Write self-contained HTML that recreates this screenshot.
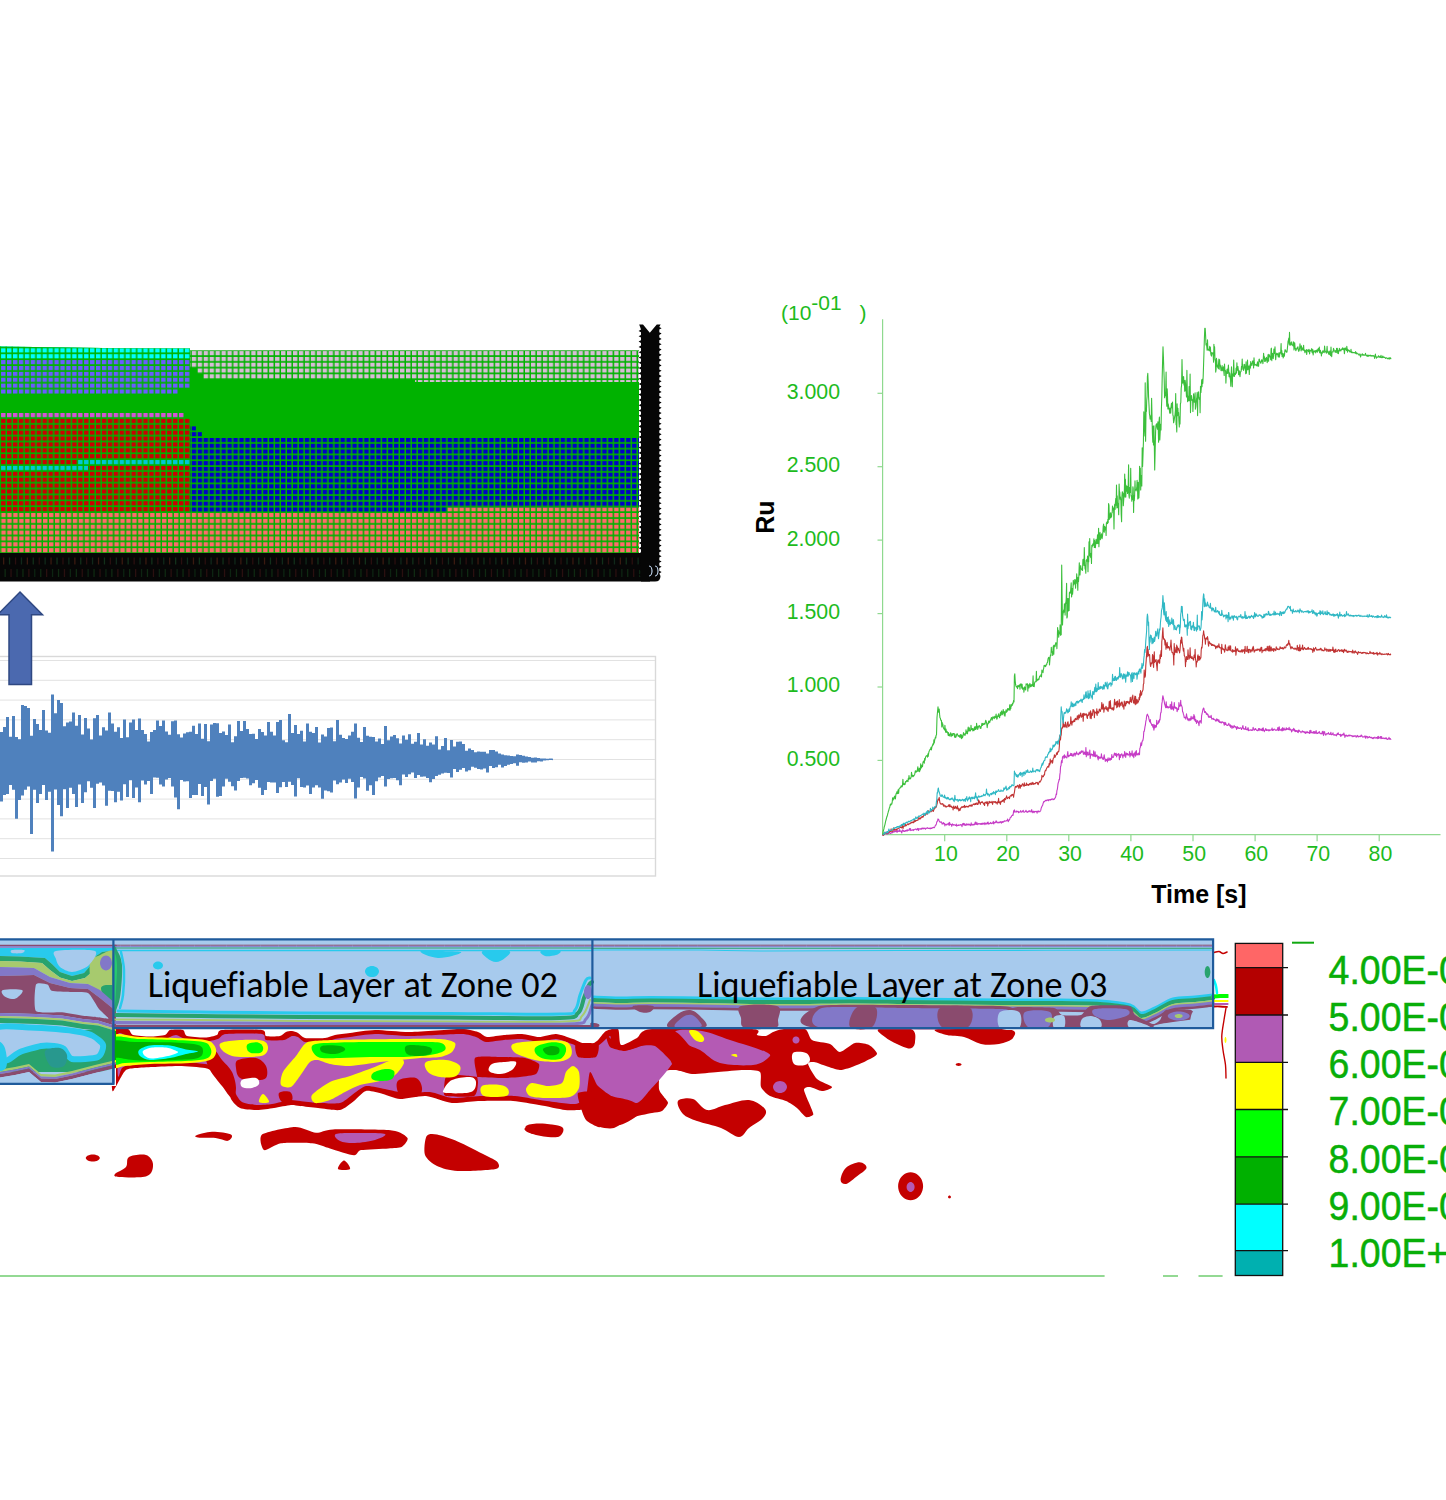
<!DOCTYPE html>
<html><head><meta charset="utf-8"><title>Liquefaction analysis</title>
<style>html,body{margin:0;padding:0;background:#fff;}body{width:1446px;height:1500px;overflow:hidden;position:relative;}
svg{position:absolute;left:0;top:0;display:block}</style></head>
<body>
<svg width="1446" height="1500" viewBox="0 0 1446 1500">
<g id="mesh"><defs><pattern id="gl" patternUnits="userSpaceOnUse" x="1.07" y="348.32" width="5.93" height="5.88"><path d="M4.45 0H5.93V5.88H4.45Z M0 4.15H4.45V5.88H0Z" fill="#00b200"/></pattern><pattern id="gr" patternUnits="userSpaceOnUse" x="1.38" y="351.12" width="5.95" height="5.79"><path d="M4.45 0H5.95V5.79H4.45Z M0 4.15H4.45V5.79H0Z" fill="#00b200"/></pattern><pattern id="gs" patternUnits="userSpaceOnUse" x="1.38" y="513.02" width="5.95" height="5.85"><path d="M4.45 0H5.95V5.85H4.45Z M0 4.15H4.45V5.85H0Z" fill="#00b200"/></pattern></defs>
<path d="M0 346.6L120 348.3L190 348.6L190 350.6L639 350.6L639 553L0 553Z" fill="#00b200"/>
<path d="M0.0 346.6 120.0 348.3 190.0 348.6 190.0 359.5 0.0 359.5Z" fill="#00ffff"/>
<path d="M0.0 359.5 190.0 359.5 190.0 388.0 178.0 388.0 178.0 394.0 0.0 394.0Z" fill="#6a5cff"/>
<path d="M0.0 412.0 184.0 412.0 184.0 418.0 0.0 418.0Z" fill="#d455d4"/>
<path d="M0.0 418.0 190.0 418.0 190.0 459.5 78.0 459.5 78.0 465.0 0.0 465.0Z" fill="#cc0000"/>
<path d="M0.0 465.0 78.0 465.0 78.0 459.5 190.0 459.5 190.0 465.0 88.0 465.0 88.0 471.0 0.0 471.0Z" fill="#00c8d4"/>
<path d="M0.0 471.0 88.0 471.0 88.0 465.0 190.0 465.0 190.0 512.0 0.0 512.0Z" fill="#cc0000"/>
<path d="M190.0 350.6 639.0 350.6 639.0 382.0 415.0 382.0 415.0 380.0 203.0 380.0 203.0 374.0 197.0 374.0 197.0 368.0 190.0 368.0Z" fill="#d8bcd6"/>
<path d="M190.0 426.0 196.0 426.0 196.0 432.0 202.0 432.0 202.0 438.0 639.0 438.0 639.0 507.5 447.0 507.5 447.0 512.0 190.0 512.0Z" fill="#0000c8"/>
<path d="M0 512H447V507.5H639V553H0Z" fill="#ff6b6b"/>
<path d="M0 346.6L120 348.3L190 348.6V512H0Z" fill="url(#gl)"/>
<path d="M190 350.6H639V507.5H447V512H190Z" fill="url(#gr)"/>
<path d="M0 512H447V507.5H639V553H0Z" fill="url(#gs)"/>
<path d="M0 553H650V581.5H0Z" fill="#060606"/>
<rect x="3.0" y="557.5" width="1.3" height="7" fill="#3a1a10"/><rect x="4.5" y="569" width="1.3" height="8" fill="#0f2a12"/><rect x="8.9" y="557.5" width="1.3" height="7" fill="#12301a"/><rect x="10.4" y="569" width="1.3" height="8" fill="#2a1010"/><rect x="14.9" y="557.5" width="1.3" height="7" fill="#2a0f0f"/><rect x="16.4" y="569" width="1.3" height="8" fill="#0d2412"/><rect x="20.8" y="557.5" width="1.3" height="7" fill="#10281a"/><rect x="22.3" y="569" width="1.3" height="8" fill="#0f2a12"/><rect x="26.7" y="557.5" width="1.3" height="7" fill="#3a1a10"/><rect x="28.2" y="569" width="1.3" height="8" fill="#2a1010"/><rect x="32.6" y="557.5" width="1.3" height="7" fill="#12301a"/><rect x="34.1" y="569" width="1.3" height="8" fill="#0d2412"/><rect x="38.6" y="557.5" width="1.3" height="7" fill="#2a0f0f"/><rect x="40.1" y="569" width="1.3" height="8" fill="#0f2a12"/><rect x="44.5" y="557.5" width="1.3" height="7" fill="#10281a"/><rect x="46.0" y="569" width="1.3" height="8" fill="#2a1010"/><rect x="50.4" y="557.5" width="1.3" height="7" fill="#3a1a10"/><rect x="51.9" y="569" width="1.3" height="8" fill="#0d2412"/><rect x="56.4" y="557.5" width="1.3" height="7" fill="#12301a"/><rect x="57.9" y="569" width="1.3" height="8" fill="#0f2a12"/><rect x="62.3" y="557.5" width="1.3" height="7" fill="#2a0f0f"/><rect x="63.8" y="569" width="1.3" height="8" fill="#2a1010"/><rect x="68.2" y="557.5" width="1.3" height="7" fill="#10281a"/><rect x="69.7" y="569" width="1.3" height="8" fill="#0d2412"/><rect x="74.2" y="557.5" width="1.3" height="7" fill="#3a1a10"/><rect x="75.7" y="569" width="1.3" height="8" fill="#0f2a12"/><rect x="80.1" y="557.5" width="1.3" height="7" fill="#12301a"/><rect x="81.6" y="569" width="1.3" height="8" fill="#2a1010"/><rect x="86.0" y="557.5" width="1.3" height="7" fill="#2a0f0f"/><rect x="87.5" y="569" width="1.3" height="8" fill="#0d2412"/><rect x="91.9" y="557.5" width="1.3" height="7" fill="#10281a"/><rect x="93.4" y="569" width="1.3" height="8" fill="#0f2a12"/><rect x="97.9" y="557.5" width="1.3" height="7" fill="#3a1a10"/><rect x="99.4" y="569" width="1.3" height="8" fill="#2a1010"/><rect x="103.8" y="557.5" width="1.3" height="7" fill="#12301a"/><rect x="105.3" y="569" width="1.3" height="8" fill="#0d2412"/><rect x="109.7" y="557.5" width="1.3" height="7" fill="#2a0f0f"/><rect x="111.2" y="569" width="1.3" height="8" fill="#0f2a12"/><rect x="115.7" y="557.5" width="1.3" height="7" fill="#10281a"/><rect x="117.2" y="569" width="1.3" height="8" fill="#2a1010"/><rect x="121.6" y="557.5" width="1.3" height="7" fill="#3a1a10"/><rect x="123.1" y="569" width="1.3" height="8" fill="#0d2412"/><rect x="127.5" y="557.5" width="1.3" height="7" fill="#12301a"/><rect x="129.0" y="569" width="1.3" height="8" fill="#0f2a12"/><rect x="133.5" y="557.5" width="1.3" height="7" fill="#2a0f0f"/><rect x="135.0" y="569" width="1.3" height="8" fill="#2a1010"/><rect x="139.4" y="557.5" width="1.3" height="7" fill="#10281a"/><rect x="140.9" y="569" width="1.3" height="8" fill="#0d2412"/><rect x="145.3" y="557.5" width="1.3" height="7" fill="#3a1a10"/><rect x="146.8" y="569" width="1.3" height="8" fill="#0f2a12"/><rect x="151.2" y="557.5" width="1.3" height="7" fill="#12301a"/><rect x="152.8" y="569" width="1.3" height="8" fill="#2a1010"/><rect x="157.2" y="557.5" width="1.3" height="7" fill="#2a0f0f"/><rect x="158.7" y="569" width="1.3" height="8" fill="#0d2412"/><rect x="163.1" y="557.5" width="1.3" height="7" fill="#10281a"/><rect x="164.6" y="569" width="1.3" height="8" fill="#0f2a12"/><rect x="169.0" y="557.5" width="1.3" height="7" fill="#3a1a10"/><rect x="170.5" y="569" width="1.3" height="8" fill="#2a1010"/><rect x="175.0" y="557.5" width="1.3" height="7" fill="#12301a"/><rect x="176.5" y="569" width="1.3" height="8" fill="#0d2412"/><rect x="180.9" y="557.5" width="1.3" height="7" fill="#2a0f0f"/><rect x="182.4" y="569" width="1.3" height="8" fill="#0f2a12"/><rect x="186.8" y="557.5" width="1.3" height="7" fill="#10281a"/><rect x="188.3" y="569" width="1.3" height="8" fill="#2a1010"/><rect x="192.8" y="557.5" width="1.3" height="7" fill="#3a1a10"/><rect x="194.3" y="569" width="1.3" height="8" fill="#0d2412"/><rect x="198.7" y="557.5" width="1.3" height="7" fill="#12301a"/><rect x="200.2" y="569" width="1.3" height="8" fill="#0f2a12"/><rect x="204.6" y="557.5" width="1.3" height="7" fill="#2a0f0f"/><rect x="206.1" y="569" width="1.3" height="8" fill="#2a1010"/><rect x="210.5" y="557.5" width="1.3" height="7" fill="#10281a"/><rect x="212.0" y="569" width="1.3" height="8" fill="#0d2412"/><rect x="216.5" y="557.5" width="1.3" height="7" fill="#3a1a10"/><rect x="218.0" y="569" width="1.3" height="8" fill="#0f2a12"/><rect x="222.4" y="557.5" width="1.3" height="7" fill="#12301a"/><rect x="223.9" y="569" width="1.3" height="8" fill="#2a1010"/><rect x="228.3" y="557.5" width="1.3" height="7" fill="#2a0f0f"/><rect x="229.8" y="569" width="1.3" height="8" fill="#0d2412"/><rect x="234.3" y="557.5" width="1.3" height="7" fill="#10281a"/><rect x="235.8" y="569" width="1.3" height="8" fill="#0f2a12"/><rect x="240.2" y="557.5" width="1.3" height="7" fill="#3a1a10"/><rect x="241.7" y="569" width="1.3" height="8" fill="#2a1010"/><rect x="246.1" y="557.5" width="1.3" height="7" fill="#12301a"/><rect x="247.6" y="569" width="1.3" height="8" fill="#0d2412"/><rect x="252.1" y="557.5" width="1.3" height="7" fill="#2a0f0f"/><rect x="253.6" y="569" width="1.3" height="8" fill="#0f2a12"/><rect x="258.0" y="557.5" width="1.3" height="7" fill="#10281a"/><rect x="259.5" y="569" width="1.3" height="8" fill="#2a1010"/><rect x="263.9" y="557.5" width="1.3" height="7" fill="#3a1a10"/><rect x="265.4" y="569" width="1.3" height="8" fill="#0d2412"/><rect x="269.8" y="557.5" width="1.3" height="7" fill="#12301a"/><rect x="271.3" y="569" width="1.3" height="8" fill="#0f2a12"/><rect x="275.8" y="557.5" width="1.3" height="7" fill="#2a0f0f"/><rect x="277.3" y="569" width="1.3" height="8" fill="#2a1010"/><rect x="281.7" y="557.5" width="1.3" height="7" fill="#10281a"/><rect x="283.2" y="569" width="1.3" height="8" fill="#0d2412"/><rect x="287.6" y="557.5" width="1.3" height="7" fill="#3a1a10"/><rect x="289.1" y="569" width="1.3" height="8" fill="#0f2a12"/><rect x="293.6" y="557.5" width="1.3" height="7" fill="#12301a"/><rect x="295.1" y="569" width="1.3" height="8" fill="#2a1010"/><rect x="299.5" y="557.5" width="1.3" height="7" fill="#2a0f0f"/><rect x="301.0" y="569" width="1.3" height="8" fill="#0d2412"/><rect x="305.4" y="557.5" width="1.3" height="7" fill="#10281a"/><rect x="306.9" y="569" width="1.3" height="8" fill="#0f2a12"/><rect x="311.4" y="557.5" width="1.3" height="7" fill="#3a1a10"/><rect x="312.9" y="569" width="1.3" height="8" fill="#2a1010"/><rect x="317.3" y="557.5" width="1.3" height="7" fill="#12301a"/><rect x="318.8" y="569" width="1.3" height="8" fill="#0d2412"/><rect x="323.2" y="557.5" width="1.3" height="7" fill="#2a0f0f"/><rect x="324.7" y="569" width="1.3" height="8" fill="#0f2a12"/><rect x="329.1" y="557.5" width="1.3" height="7" fill="#10281a"/><rect x="330.6" y="569" width="1.3" height="8" fill="#2a1010"/><rect x="335.1" y="557.5" width="1.3" height="7" fill="#3a1a10"/><rect x="336.6" y="569" width="1.3" height="8" fill="#0d2412"/><rect x="341.0" y="557.5" width="1.3" height="7" fill="#12301a"/><rect x="342.5" y="569" width="1.3" height="8" fill="#0f2a12"/><rect x="346.9" y="557.5" width="1.3" height="7" fill="#2a0f0f"/><rect x="348.4" y="569" width="1.3" height="8" fill="#2a1010"/><rect x="352.9" y="557.5" width="1.3" height="7" fill="#10281a"/><rect x="354.4" y="569" width="1.3" height="8" fill="#0d2412"/><rect x="358.8" y="557.5" width="1.3" height="7" fill="#3a1a10"/><rect x="360.3" y="569" width="1.3" height="8" fill="#0f2a12"/><rect x="364.7" y="557.5" width="1.3" height="7" fill="#12301a"/><rect x="366.2" y="569" width="1.3" height="8" fill="#2a1010"/><rect x="370.7" y="557.5" width="1.3" height="7" fill="#2a0f0f"/><rect x="372.2" y="569" width="1.3" height="8" fill="#0d2412"/><rect x="376.6" y="557.5" width="1.3" height="7" fill="#10281a"/><rect x="378.1" y="569" width="1.3" height="8" fill="#0f2a12"/><rect x="382.5" y="557.5" width="1.3" height="7" fill="#3a1a10"/><rect x="384.0" y="569" width="1.3" height="8" fill="#2a1010"/><rect x="388.4" y="557.5" width="1.3" height="7" fill="#12301a"/><rect x="389.9" y="569" width="1.3" height="8" fill="#0d2412"/><rect x="394.4" y="557.5" width="1.3" height="7" fill="#2a0f0f"/><rect x="395.9" y="569" width="1.3" height="8" fill="#0f2a12"/><rect x="400.3" y="557.5" width="1.3" height="7" fill="#10281a"/><rect x="401.8" y="569" width="1.3" height="8" fill="#2a1010"/><rect x="406.2" y="557.5" width="1.3" height="7" fill="#3a1a10"/><rect x="407.7" y="569" width="1.3" height="8" fill="#0d2412"/><rect x="412.2" y="557.5" width="1.3" height="7" fill="#12301a"/><rect x="413.7" y="569" width="1.3" height="8" fill="#0f2a12"/><rect x="418.1" y="557.5" width="1.3" height="7" fill="#2a0f0f"/><rect x="419.6" y="569" width="1.3" height="8" fill="#2a1010"/><rect x="424.0" y="557.5" width="1.3" height="7" fill="#10281a"/><rect x="425.5" y="569" width="1.3" height="8" fill="#0d2412"/><rect x="430.0" y="557.5" width="1.3" height="7" fill="#3a1a10"/><rect x="431.5" y="569" width="1.3" height="8" fill="#0f2a12"/><rect x="435.9" y="557.5" width="1.3" height="7" fill="#12301a"/><rect x="437.4" y="569" width="1.3" height="8" fill="#2a1010"/><rect x="441.8" y="557.5" width="1.3" height="7" fill="#2a0f0f"/><rect x="443.3" y="569" width="1.3" height="8" fill="#0d2412"/><rect x="447.8" y="557.5" width="1.3" height="7" fill="#10281a"/><rect x="449.2" y="569" width="1.3" height="8" fill="#0f2a12"/><rect x="453.7" y="557.5" width="1.3" height="7" fill="#3a1a10"/><rect x="455.2" y="569" width="1.3" height="8" fill="#2a1010"/><rect x="459.6" y="557.5" width="1.3" height="7" fill="#12301a"/><rect x="461.1" y="569" width="1.3" height="8" fill="#0d2412"/><rect x="465.5" y="557.5" width="1.3" height="7" fill="#2a0f0f"/><rect x="467.0" y="569" width="1.3" height="8" fill="#0f2a12"/><rect x="471.5" y="557.5" width="1.3" height="7" fill="#10281a"/><rect x="473.0" y="569" width="1.3" height="8" fill="#2a1010"/><rect x="477.4" y="557.5" width="1.3" height="7" fill="#3a1a10"/><rect x="478.9" y="569" width="1.3" height="8" fill="#0d2412"/><rect x="483.3" y="557.5" width="1.3" height="7" fill="#12301a"/><rect x="484.8" y="569" width="1.3" height="8" fill="#0f2a12"/><rect x="489.3" y="557.5" width="1.3" height="7" fill="#2a0f0f"/><rect x="490.8" y="569" width="1.3" height="8" fill="#2a1010"/><rect x="495.2" y="557.5" width="1.3" height="7" fill="#10281a"/><rect x="496.7" y="569" width="1.3" height="8" fill="#0d2412"/><rect x="501.1" y="557.5" width="1.3" height="7" fill="#3a1a10"/><rect x="502.6" y="569" width="1.3" height="8" fill="#0f2a12"/><rect x="507.0" y="557.5" width="1.3" height="7" fill="#12301a"/><rect x="508.5" y="569" width="1.3" height="8" fill="#2a1010"/><rect x="513.0" y="557.5" width="1.3" height="7" fill="#2a0f0f"/><rect x="514.5" y="569" width="1.3" height="8" fill="#0d2412"/><rect x="518.9" y="557.5" width="1.3" height="7" fill="#10281a"/><rect x="520.4" y="569" width="1.3" height="8" fill="#0f2a12"/><rect x="524.8" y="557.5" width="1.3" height="7" fill="#3a1a10"/><rect x="526.3" y="569" width="1.3" height="8" fill="#2a1010"/><rect x="530.8" y="557.5" width="1.3" height="7" fill="#12301a"/><rect x="532.3" y="569" width="1.3" height="8" fill="#0d2412"/><rect x="536.7" y="557.5" width="1.3" height="7" fill="#2a0f0f"/><rect x="538.2" y="569" width="1.3" height="8" fill="#0f2a12"/><rect x="542.6" y="557.5" width="1.3" height="7" fill="#10281a"/><rect x="544.1" y="569" width="1.3" height="8" fill="#2a1010"/><rect x="548.6" y="557.5" width="1.3" height="7" fill="#3a1a10"/><rect x="550.1" y="569" width="1.3" height="8" fill="#0d2412"/><rect x="554.5" y="557.5" width="1.3" height="7" fill="#12301a"/><rect x="556.0" y="569" width="1.3" height="8" fill="#0f2a12"/><rect x="560.4" y="557.5" width="1.3" height="7" fill="#2a0f0f"/><rect x="561.9" y="569" width="1.3" height="8" fill="#2a1010"/><rect x="566.4" y="557.5" width="1.3" height="7" fill="#10281a"/><rect x="567.9" y="569" width="1.3" height="8" fill="#0d2412"/><rect x="572.3" y="557.5" width="1.3" height="7" fill="#3a1a10"/><rect x="573.8" y="569" width="1.3" height="8" fill="#0f2a12"/><rect x="578.2" y="557.5" width="1.3" height="7" fill="#12301a"/><rect x="579.7" y="569" width="1.3" height="8" fill="#2a1010"/><rect x="584.1" y="557.5" width="1.3" height="7" fill="#2a0f0f"/><rect x="585.6" y="569" width="1.3" height="8" fill="#0d2412"/><rect x="590.1" y="557.5" width="1.3" height="7" fill="#10281a"/><rect x="591.6" y="569" width="1.3" height="8" fill="#0f2a12"/><rect x="596.0" y="557.5" width="1.3" height="7" fill="#3a1a10"/><rect x="597.5" y="569" width="1.3" height="8" fill="#2a1010"/><rect x="601.9" y="557.5" width="1.3" height="7" fill="#12301a"/><rect x="603.4" y="569" width="1.3" height="8" fill="#0d2412"/><rect x="607.9" y="557.5" width="1.3" height="7" fill="#2a0f0f"/><rect x="609.4" y="569" width="1.3" height="8" fill="#0f2a12"/><rect x="613.8" y="557.5" width="1.3" height="7" fill="#10281a"/><rect x="615.3" y="569" width="1.3" height="8" fill="#2a1010"/><rect x="619.7" y="557.5" width="1.3" height="7" fill="#3a1a10"/><rect x="621.2" y="569" width="1.3" height="8" fill="#0d2412"/><rect x="625.6" y="557.5" width="1.3" height="7" fill="#12301a"/><rect x="627.1" y="569" width="1.3" height="8" fill="#0f2a12"/><rect x="631.6" y="557.5" width="1.3" height="7" fill="#2a0f0f"/><rect x="633.1" y="569" width="1.3" height="8" fill="#2a1010"/><rect x="637.5" y="557.5" width="1.3" height="7" fill="#10281a"/><rect x="639.0" y="569" width="1.3" height="8" fill="#0d2412"/>
<path d="M639.2 324.4L643 324.4L649.8 332.8L656.8 324.4L660.6 324.4L659.3 327L659.3 327.0L661.6 328.3L659.3 329.6L659.3 332.3L661.6 333.6L659.3 334.9L659.3 337.6L661.6 338.9L659.3 340.2L659.3 342.9L661.6 344.2L659.3 345.6L659.3 348.2L661.6 349.5L659.3 350.9L659.3 353.5L661.6 354.8L659.3 356.2L659.3 358.8L661.6 360.1L659.3 361.5L659.3 364.1L661.6 365.4L659.3 366.8L659.3 369.4L661.6 370.7L659.3 372.1L659.3 374.7L661.6 376.0L659.3 377.4L659.3 380.0L661.6 381.3L659.3 382.7L659.3 385.3L661.6 386.6L659.3 388.0L659.3 390.6L661.6 391.9L659.3 393.3L659.3 395.9L661.6 397.2L659.3 398.6L659.3 401.2L661.6 402.5L659.3 403.9L659.3 406.5L661.6 407.8L659.3 409.2L659.3 411.8L661.6 413.1L659.3 414.5L659.3 417.1L661.6 418.4L659.3 419.8L659.3 422.4L661.6 423.7L659.3 425.1L659.3 427.7L661.6 429.0L659.3 430.4L659.3 433.0L661.6 434.3L659.3 435.7L659.3 438.3L661.6 439.6L659.3 441.0L659.3 443.6L661.6 444.9L659.3 446.3L659.3 448.9L661.6 450.2L659.3 451.6L659.3 454.2L661.6 455.5L659.3 456.9L659.3 459.5L661.6 460.8L659.3 462.2L659.3 464.8L661.6 466.1L659.3 467.5L659.3 470.1L661.6 471.4L659.3 472.8L659.3 475.4L661.6 476.7L659.3 478.1L659.3 480.7L661.6 482.0L659.3 483.4L659.3 486.0L661.6 487.3L659.3 488.7L659.3 491.3L661.6 492.6L659.3 494.0L659.3 496.6L661.6 497.9L659.3 499.3L659.3 501.9L661.6 503.2L659.3 504.6L659.3 507.2L661.6 508.5L659.3 509.9L659.3 512.5L661.6 513.8L659.3 515.2L659.3 517.8L661.6 519.1L659.3 520.5L659.3 523.1L661.6 524.4L659.3 525.8L659.3 528.4L661.6 529.7L659.3 531.1L659.3 533.7L661.6 535.0L659.3 536.4L659.3 539.0L661.6 540.3L659.3 541.7L659.3 544.3L661.6 545.6L659.3 547.0L659.3 549.6L661.6 550.9L659.3 552.2L659.3 554.9L661.6 556.2L659.3 557.5L659.3 560.2L661.6 561.5L659.3 562.8L659.3 565.5L661.6 566.8L659.3 568.1L659.3 570.8L661.6 572.1L659.3 573.4L660.5 576Q660.5 581.5 655 581.5L641 581.5L641.0 576.1L638.6 574.8L641.0 573.4L641.0 570.8L638.6 569.5L641.0 568.1L641.0 565.5L638.6 564.2L641.0 562.8L641.0 560.2L638.6 558.9L641.0 557.5L641.0 554.9L638.6 553.6L641.0 552.2L641.0 549.6L638.6 548.3L641.0 547.0L641.0 544.3L638.6 543.0L641.0 541.7L641.0 539.0L638.6 537.7L641.0 536.4L641.0 533.7L638.6 532.4L641.0 531.1L641.0 528.4L638.6 527.1L641.0 525.8L641.0 523.1L638.6 521.8L641.0 520.5L641.0 517.8L638.6 516.5L641.0 515.2L641.0 512.5L638.6 511.2L641.0 509.9L641.0 507.2L638.6 505.9L641.0 504.6L641.0 501.9L638.6 500.6L641.0 499.3L641.0 496.6L638.6 495.3L641.0 494.0L641.0 491.3L638.6 490.0L641.0 488.7L641.0 486.0L638.6 484.7L641.0 483.4L641.0 480.7L638.6 479.4L641.0 478.1L641.0 475.4L638.6 474.1L641.0 472.8L641.0 470.1L638.6 468.8L641.0 467.5L641.0 464.8L638.6 463.5L641.0 462.2L641.0 459.5L638.6 458.2L641.0 456.9L641.0 454.2L638.6 452.9L641.0 451.6L641.0 448.9L638.6 447.6L641.0 446.3L641.0 443.6L638.6 442.3L641.0 441.0L641.0 438.3L638.6 437.0L641.0 435.7L641.0 433.0L638.6 431.7L641.0 430.4L641.0 427.7L638.6 426.4L641.0 425.1L641.0 422.4L638.6 421.1L641.0 419.8L641.0 417.1L638.6 415.8L641.0 414.5L641.0 411.8L638.6 410.5L641.0 409.2L641.0 406.5L638.6 405.2L641.0 403.9L641.0 401.2L638.6 399.9L641.0 398.6L641.0 395.9L638.6 394.6L641.0 393.3L641.0 390.6L638.6 389.3L641.0 388.0L641.0 385.3L638.6 384.0L641.0 382.7L641.0 380.0L638.6 378.7L641.0 377.4L641.0 374.7L638.6 373.4L641.0 372.1L641.0 369.4L638.6 368.1L641.0 366.8L641.0 364.1L638.6 362.8L641.0 361.5L641.0 358.8L638.6 357.5L641.0 356.2L641.0 353.5L638.6 352.2L641.0 350.9L641.0 348.2L638.6 346.9L641.0 345.6L641.0 342.9L638.6 341.6L641.0 340.2L641.0 337.6L638.6 336.3L641.0 334.9L641.0 332.3L638.6 331.0L641.0 329.6Z" fill="#060606"/>
<path d="M649 566 a3 5 0 0 1 0 10 M655 566 a3 5 0 0 1 0 10" fill="none" stroke="#cfe4ff" stroke-width="1.1"/></g>
<g id="seis"><rect x="-5" y="656.5" width="660.5" height="219.5" fill="#fff" stroke="#d9d9d9" stroke-width="1.4"/>
<line x1="-5" x2="655" y1="660.5" y2="660.5" stroke="#e2e2e2" stroke-width="1"/>
<line x1="-5" x2="655" y1="680.3" y2="680.3" stroke="#e2e2e2" stroke-width="1"/>
<line x1="-5" x2="655" y1="700.1" y2="700.1" stroke="#e2e2e2" stroke-width="1"/>
<line x1="-5" x2="655" y1="719.9" y2="719.9" stroke="#e2e2e2" stroke-width="1"/>
<line x1="-5" x2="655" y1="739.7" y2="739.7" stroke="#e2e2e2" stroke-width="1"/>
<line x1="-5" x2="655" y1="759.5" y2="759.5" stroke="#e2e2e2" stroke-width="1"/>
<line x1="-5" x2="655" y1="779.3" y2="779.3" stroke="#e2e2e2" stroke-width="1"/>
<line x1="-5" x2="655" y1="799.1" y2="799.1" stroke="#e2e2e2" stroke-width="1"/>
<line x1="-5" x2="655" y1="818.9" y2="818.9" stroke="#e2e2e2" stroke-width="1"/>
<line x1="-5" x2="655" y1="838.7" y2="838.7" stroke="#e2e2e2" stroke-width="1"/>
<line x1="-5" x2="655" y1="858.5" y2="858.5" stroke="#e2e2e2" stroke-width="1"/>
<path d="M0.0 732.0 3.0 732.0 3.0 726.9 6.0 726.9 6.0 717.0 9.0 717.0 9.0 736.7 12.0 736.7 12.0 716.0 15.0 716.0 15.0 737.0 18.0 737.0 18.0 739.3 21.0 739.3 21.0 705.0 24.0 705.0 24.0 706.0 27.0 706.0 27.0 708.0 30.0 708.0 30.0 735.8 33.0 735.8 33.0 719.0 36.0 719.0 36.0 724.0 39.0 724.0 39.0 730.0 42.0 730.0 42.0 710.0 45.0 710.0 45.0 730.6 48.0 730.6 48.0 732.8 51.0 732.8 51.0 694.4 54.0 694.4 54.0 713.2 57.0 713.2 57.0 700.0 60.0 700.0 60.0 703.0 63.0 703.0 63.0 726.2 66.0 726.2 66.0 722.5 69.0 722.5 69.0 721.6 72.0 721.6 72.0 712.5 75.0 712.5 75.0 725.8 78.0 725.8 78.0 715.0 81.0 715.0 81.0 734.5 84.0 734.5 84.0 718.0 87.0 718.0 87.0 728.6 90.0 728.6 90.0 739.6 93.0 739.6 93.0 718.3 96.0 718.3 96.0 715.0 99.0 715.0 99.0 735.5 102.0 735.5 102.0 727.2 105.0 727.2 105.0 730.5 108.0 730.5 108.0 712.5 111.0 712.5 111.0 723.4 114.0 723.4 114.0 731.8 117.0 731.8 117.0 727.2 120.0 727.2 120.0 738.1 123.0 738.1 123.0 719.6 126.0 719.6 126.0 737.2 129.0 737.2 129.0 722.6 132.0 722.6 132.0 719.6 135.0 719.6 135.0 730.0 138.0 730.0 138.0 718.4 141.0 718.4 141.0 730.1 144.0 730.1 144.0 733.9 147.0 733.9 147.0 741.5 150.0 741.5 150.0 732.1 153.0 732.1 153.0 730.0 156.0 730.0 156.0 720.5 159.0 720.5 159.0 726.0 162.0 726.0 162.0 720.5 165.0 720.5 165.0 731.4 168.0 731.4 168.0 734.7 171.0 734.7 171.0 721.3 174.0 721.3 174.0 720.6 177.0 720.6 177.0 734.3 180.0 734.3 180.0 737.6 183.0 737.6 183.0 733.5 186.0 733.5 186.0 732.3 189.0 732.3 189.0 731.7 192.0 731.7 192.0 725.8 195.0 725.8 195.0 734.1 198.0 734.1 198.0 723.5 201.0 723.5 201.0 738.7 204.0 738.7 204.0 724.0 207.0 724.0 207.0 741.2 210.0 741.2 210.0 724.4 213.0 724.4 213.0 723.1 216.0 723.1 216.0 723.3 219.0 723.3 219.0 733.1 222.0 733.1 222.0 731.5 225.0 731.5 225.0 735.0 228.0 735.0 228.0 724.6 231.0 724.6 231.0 742.2 234.0 742.2 234.0 736.2 237.0 736.2 237.0 720.9 240.0 720.9 240.0 731.1 243.0 731.1 243.0 721.0 246.0 721.0 246.0 729.0 249.0 729.0 249.0 734.0 252.0 734.0 252.0 733.8 255.0 733.8 255.0 739.1 258.0 739.1 258.0 729.0 261.0 729.0 261.0 732.0 264.0 732.0 264.0 735.4 267.0 735.4 267.0 722.1 270.0 722.1 270.0 731.7 273.0 731.7 273.0 735.4 276.0 735.4 276.0 721.9 279.0 721.9 279.0 720.1 282.0 720.1 282.0 740.3 285.0 740.3 285.0 742.2 288.0 742.2 288.0 714.0 291.0 714.0 291.0 733.1 294.0 733.1 294.0 725.0 297.0 725.0 297.0 734.0 300.0 734.0 300.0 730.7 303.0 730.7 303.0 741.6 306.0 741.6 306.0 723.5 309.0 723.5 309.0 731.7 312.0 731.7 312.0 733.1 315.0 733.1 315.0 727.1 318.0 727.1 318.0 742.5 321.0 742.5 321.0 734.5 324.0 734.5 324.0 736.5 327.0 736.5 327.0 728.0 330.0 728.0 330.0 727.4 333.0 727.4 333.0 741.2 336.0 741.2 336.0 719.9 339.0 719.9 339.0 734.8 342.0 734.8 342.0 737.9 345.0 737.9 345.0 739.1 348.0 739.1 348.0 735.5 351.0 735.5 351.0 731.8 354.0 731.8 354.0 723.5 357.0 723.5 357.0 737.8 360.0 737.8 360.0 741.9 363.0 741.9 363.0 727.0 366.0 727.0 366.0 735.8 369.0 735.8 369.0 736.7 372.0 736.7 372.0 737.1 375.0 737.1 375.0 741.6 378.0 741.6 378.0 738.6 381.0 738.6 381.0 744.1 384.0 744.1 384.0 726.0 387.0 726.0 387.0 740.3 390.0 740.3 390.0 736.6 393.0 736.6 393.0 735.1 396.0 735.1 396.0 738.3 399.0 738.3 399.0 743.4 402.0 743.4 402.0 735.6 405.0 735.6 405.0 739.7 408.0 739.7 408.0 734.2 411.0 734.2 411.0 743.8 414.0 743.8 414.0 741.8 417.0 741.8 417.0 733.0 420.0 733.0 420.0 744.6 423.0 744.6 423.0 739.3 426.0 739.3 426.0 745.8 429.0 745.8 429.0 742.4 432.0 742.4 432.0 744.6 435.0 744.6 435.0 736.3 438.0 736.3 438.0 749.5 441.0 749.5 441.0 746.0 444.0 746.0 444.0 738.0 447.0 738.0 447.0 750.3 450.0 750.3 450.0 740.0 453.0 740.0 453.0 746.4 456.0 746.4 456.0 741.7 459.0 741.7 459.0 741.6 462.0 741.6 462.0 744.0 465.0 744.0 465.0 750.8 468.0 750.8 468.0 748.6 471.0 748.6 471.0 749.9 474.0 749.9 474.0 752.2 477.0 752.2 477.0 751.4 480.0 751.4 480.0 751.8 483.0 751.8 483.0 751.8 486.0 751.8 486.0 753.6 489.0 753.6 489.0 750.0 492.0 750.0 492.0 750.0 495.0 750.0 495.0 751.6 498.0 751.6 498.0 753.4 501.0 753.4 501.0 754.4 504.0 754.4 504.0 755.2 507.0 755.2 507.0 755.6 510.0 755.6 510.0 756.1 513.0 756.1 513.0 756.2 516.0 756.2 516.0 754.4 519.0 754.4 519.0 755.1 522.0 755.1 522.0 755.8 525.0 755.8 525.0 756.6 528.0 756.6 528.0 757.0 531.0 757.0 531.0 757.7 534.0 757.7 534.0 757.5 537.0 757.5 537.0 758.0 540.0 758.0 540.0 758.4 543.0 758.4 543.0 758.6 546.0 758.6 546.0 758.7 549.0 758.7 549.0 758.6 552.0 758.6 553.0 758.7 553.0 760.3 552.0 759.9 549.0 759.9 549.0 760.2 546.0 760.2 546.0 760.4 543.0 760.4 543.0 761.6 540.0 761.6 540.0 761.2 537.0 761.2 537.0 762.4 534.0 762.4 534.0 762.6 531.0 762.6 531.0 761.6 528.0 761.6 528.0 762.6 525.0 762.6 525.0 762.7 522.0 762.7 522.0 762.3 519.0 762.3 519.0 765.8 516.0 765.8 516.0 763.2 513.0 763.2 513.0 764.1 510.0 764.1 510.0 764.7 507.0 764.7 507.0 765.9 504.0 765.9 504.0 767.6 501.0 767.6 501.0 764.8 498.0 764.8 498.0 767.3 495.0 767.3 495.0 767.9 492.0 767.9 492.0 766.1 489.0 766.1 489.0 772.5 486.0 772.5 486.0 768.6 483.0 768.6 483.0 769.5 480.0 769.5 480.0 769.0 477.0 769.0 477.0 767.7 474.0 767.7 474.0 766.8 471.0 766.8 471.0 770.3 468.0 770.3 468.0 771.6 465.0 771.6 465.0 768.1 462.0 768.1 462.0 769.8 459.0 769.8 459.0 772.0 456.0 772.0 456.0 769.1 453.0 769.1 453.0 777.6 450.0 777.6 450.0 773.0 447.0 773.0 447.0 772.7 444.0 772.7 444.0 773.4 441.0 773.4 441.0 774.8 438.0 774.8 438.0 776.0 435.0 776.0 435.0 779.0 432.0 779.0 432.0 782.3 429.0 782.3 429.0 778.1 426.0 778.1 426.0 776.4 423.0 776.4 423.0 776.8 420.0 776.8 420.0 775.1 417.0 775.1 417.0 778.0 414.0 778.0 414.0 772.4 411.0 772.4 411.0 774.2 408.0 774.2 408.0 777.1 405.0 777.1 405.0 774.5 402.0 774.5 402.0 785.2 399.0 785.2 399.0 780.2 396.0 780.2 396.0 777.9 393.0 777.9 393.0 778.2 390.0 778.2 390.0 778.9 387.0 778.9 387.0 786.5 384.0 786.5 384.0 776.0 381.0 776.0 381.0 777.5 378.0 777.5 378.0 781.3 375.0 781.3 375.0 795.0 372.0 795.0 372.0 785.2 369.0 785.2 369.0 790.7 366.0 790.7 366.0 778.5 363.0 778.5 363.0 777.1 360.0 777.1 360.0 787.5 357.0 787.5 357.0 798.6 354.0 798.6 354.0 782.1 351.0 782.1 351.0 778.8 348.0 778.8 348.0 783.0 345.0 783.0 345.0 779.4 342.0 779.4 342.0 782.6 339.0 782.6 339.0 784.3 336.0 784.3 336.0 780.6 333.0 780.6 333.0 792.5 330.0 792.5 330.0 791.3 327.0 791.3 327.0 790.5 324.0 790.5 324.0 798.7 321.0 798.7 321.0 787.4 318.0 787.4 318.0 785.2 315.0 785.2 315.0 787.4 312.0 787.4 312.0 794.0 309.0 794.0 309.0 785.6 306.0 785.6 306.0 787.5 303.0 787.5 303.0 787.1 300.0 787.1 300.0 778.2 297.0 778.2 297.0 796.4 294.0 796.4 294.0 785.1 291.0 785.1 291.0 781.7 288.0 781.7 288.0 787.1 285.0 787.1 285.0 782.1 282.0 782.1 282.0 787.2 279.0 787.2 279.0 793.0 276.0 793.0 276.0 782.5 273.0 782.5 273.0 782.4 270.0 782.4 270.0 781.9 267.0 781.9 267.0 790.0 264.0 790.0 264.0 795.0 261.0 795.0 261.0 787.8 258.0 787.8 258.0 779.9 255.0 779.9 255.0 783.2 252.0 783.2 252.0 785.2 249.0 785.2 249.0 778.4 246.0 778.4 246.0 777.8 243.0 777.8 243.0 778.1 240.0 778.1 240.0 780.9 237.0 780.9 237.0 790.5 234.0 790.5 234.0 786.3 231.0 786.3 231.0 781.7 228.0 781.7 228.0 778.7 225.0 778.7 225.0 786.4 222.0 786.4 222.0 796.0 219.0 796.0 219.0 796.8 216.0 796.8 216.0 778.8 213.0 778.8 213.0 781.0 210.0 781.0 210.0 804.6 207.0 804.6 207.0 787.1 204.0 787.1 204.0 796.0 201.0 796.0 201.0 784.0 198.0 784.0 198.0 795.0 195.0 795.0 195.0 794.9 192.0 794.9 192.0 798.0 189.0 798.0 189.0 781.3 186.0 781.3 186.0 781.4 183.0 781.4 183.0 779.9 180.0 779.9 180.0 809.3 177.0 809.3 177.0 797.4 174.0 797.4 174.0 786.6 171.0 786.6 171.0 778.1 168.0 778.1 168.0 779.4 165.0 779.4 165.0 786.6 162.0 786.6 162.0 784.6 159.0 784.6 159.0 777.7 156.0 777.7 156.0 777.6 153.0 777.6 153.0 794.0 150.0 794.0 150.0 781.0 147.0 781.0 147.0 784.5 144.0 784.5 144.0 780.5 141.0 780.5 141.0 802.2 138.0 802.2 138.0 787.6 135.0 787.6 135.0 797.9 132.0 797.9 132.0 780.2 129.0 780.2 129.0 797.0 126.0 797.0 126.0 784.2 123.0 784.2 123.0 800.6 120.0 800.6 120.0 791.8 117.0 791.8 117.0 802.2 114.0 802.2 114.0 790.9 111.0 790.9 111.0 790.7 108.0 790.7 108.0 805.8 105.0 805.8 105.0 785.6 102.0 785.6 102.0 782.5 99.0 782.5 99.0 783.7 96.0 783.7 96.0 808.0 93.0 808.0 93.0 787.8 90.0 787.8 90.0 781.2 87.0 781.2 87.0 792.2 84.0 792.2 84.0 803.0 81.0 803.0 81.0 784.4 78.0 784.4 78.0 807.0 75.0 807.0 75.0 794.0 72.0 794.0 72.0 787.7 69.0 787.7 69.0 808.0 66.0 808.0 66.0 789.3 63.0 789.3 63.0 816.3 60.0 816.3 60.0 804.9 57.0 804.9 57.0 789.5 54.0 789.5 54.0 851.6 51.0 851.6 51.0 791.7 48.0 791.7 48.0 800.0 45.0 800.0 45.0 785.1 42.0 785.1 42.0 794.1 39.0 794.1 39.0 803.0 36.0 803.0 36.0 789.8 33.0 789.8 33.0 834.0 30.0 834.0 30.0 786.5 27.0 786.5 27.0 789.8 24.0 789.8 24.0 795.6 21.0 795.6 21.0 800.0 18.0 800.0 18.0 818.7 15.0 818.7 15.0 789.7 12.0 789.7 12.0 784.9 9.0 784.9 9.0 794.0 6.0 794.0 6.0 795.0 3.0 795.0 3.0 801.4 0.0 801.4Z" fill="#4f81bd"/>
<path d="M20 592L42.5 614.8H31.5V684.5H9V614.8H-2.5Z" fill="#4b69af" stroke="#2f4882" stroke-width="1.5"/></g>
<g id="ru"><line x1="882.6" y1="319.3" x2="882.6" y2="835" stroke="#8fd98f" stroke-width="1.2"/>
<line x1="882.5" y1="834.6" x2="1440.5" y2="834.6" stroke="#8fd98f" stroke-width="1.2"/>
<line x1="877.5" y1="393.3" x2="882.6" y2="393.3" stroke="#8fd98f" stroke-width="1.2"/>
<text x="840" y="398.7" text-anchor="end" fill="#1dbb1d" font-size="21.3" font-family="Liberation Sans, Arial, sans-serif">3.000</text>
<line x1="877.5" y1="466.7" x2="882.6" y2="466.7" stroke="#8fd98f" stroke-width="1.2"/>
<text x="840" y="472.1" text-anchor="end" fill="#1dbb1d" font-size="21.3" font-family="Liberation Sans, Arial, sans-serif">2.500</text>
<line x1="877.5" y1="540.1" x2="882.6" y2="540.1" stroke="#8fd98f" stroke-width="1.2"/>
<text x="840" y="545.5" text-anchor="end" fill="#1dbb1d" font-size="21.3" font-family="Liberation Sans, Arial, sans-serif">2.000</text>
<line x1="877.5" y1="613.6" x2="882.6" y2="613.6" stroke="#8fd98f" stroke-width="1.2"/>
<text x="840" y="619.0" text-anchor="end" fill="#1dbb1d" font-size="21.3" font-family="Liberation Sans, Arial, sans-serif">1.500</text>
<line x1="877.5" y1="687.0" x2="882.6" y2="687.0" stroke="#8fd98f" stroke-width="1.2"/>
<text x="840" y="692.4" text-anchor="end" fill="#1dbb1d" font-size="21.3" font-family="Liberation Sans, Arial, sans-serif">1.000</text>
<line x1="877.5" y1="760.4" x2="882.6" y2="760.4" stroke="#8fd98f" stroke-width="1.2"/>
<text x="840" y="765.8" text-anchor="end" fill="#1dbb1d" font-size="21.3" font-family="Liberation Sans, Arial, sans-serif">0.500</text>
<line x1="944.7" y1="834.6" x2="944.7" y2="841.2" stroke="#8fd98f" stroke-width="1.2"/>
<text x="945.9" y="861.2" text-anchor="middle" fill="#1dbb1d" font-size="21.3" font-family="Liberation Sans, Arial, sans-serif">10</text>
<line x1="1006.8" y1="834.6" x2="1006.8" y2="841.2" stroke="#8fd98f" stroke-width="1.2"/>
<text x="1008.0" y="861.2" text-anchor="middle" fill="#1dbb1d" font-size="21.3" font-family="Liberation Sans, Arial, sans-serif">20</text>
<line x1="1068.8" y1="834.6" x2="1068.8" y2="841.2" stroke="#8fd98f" stroke-width="1.2"/>
<text x="1070.0" y="861.2" text-anchor="middle" fill="#1dbb1d" font-size="21.3" font-family="Liberation Sans, Arial, sans-serif">30</text>
<line x1="1130.9" y1="834.6" x2="1130.9" y2="841.2" stroke="#8fd98f" stroke-width="1.2"/>
<text x="1132.1" y="861.2" text-anchor="middle" fill="#1dbb1d" font-size="21.3" font-family="Liberation Sans, Arial, sans-serif">40</text>
<line x1="1193.0" y1="834.6" x2="1193.0" y2="841.2" stroke="#8fd98f" stroke-width="1.2"/>
<text x="1194.2" y="861.2" text-anchor="middle" fill="#1dbb1d" font-size="21.3" font-family="Liberation Sans, Arial, sans-serif">50</text>
<line x1="1255.1" y1="834.6" x2="1255.1" y2="841.2" stroke="#8fd98f" stroke-width="1.2"/>
<text x="1256.3" y="861.2" text-anchor="middle" fill="#1dbb1d" font-size="21.3" font-family="Liberation Sans, Arial, sans-serif">60</text>
<line x1="1317.1" y1="834.6" x2="1317.1" y2="841.2" stroke="#8fd98f" stroke-width="1.2"/>
<text x="1318.3" y="861.2" text-anchor="middle" fill="#1dbb1d" font-size="21.3" font-family="Liberation Sans, Arial, sans-serif">70</text>
<line x1="1379.2" y1="834.6" x2="1379.2" y2="841.2" stroke="#8fd98f" stroke-width="1.2"/>
<text x="1380.4" y="861.2" text-anchor="middle" fill="#1dbb1d" font-size="21.3" font-family="Liberation Sans, Arial, sans-serif">80</text>
<text x="781" y="320.4" fill="#1dbb1d" font-size="21" font-family="Liberation Sans, Arial, sans-serif">(10</text>
<text x="811.3" y="310.3" fill="#1dbb1d" font-size="21" font-family="Liberation Sans, Arial, sans-serif">-01</text>
<text x="859.6" y="320.4" fill="#1dbb1d" font-size="21" font-family="Liberation Sans, Arial, sans-serif">)</text>
<text transform="translate(774.4 533.8) rotate(-90)" fill="#000" font-size="25" font-weight="bold" font-family="Liberation Sans, Arial, sans-serif">Ru</text>
<text x="1151.2" y="902.5" fill="#000" font-size="25" font-weight="bold" font-family="Liberation Sans, Arial, sans-serif">Time [s]</text>
<path d="M882.5 834.6L882.9 835.3 883.2 834.9 883.5 834.3 883.9 833.5 884.2 834.8 884.6 833.8 885.0 833.7 885.3 833.8 885.6 833.8 886.0 831.8 886.4 834.0 886.7 833.7 887.0 834.4 887.4 833.7 887.8 833.2 888.1 833.7 888.5 833.5 888.8 832.2 889.1 832.5 889.5 833.1 889.9 832.9 890.2 833.0 890.5 833.5 890.9 833.1 891.2 832.8 891.6 833.0 892.0 832.6 892.3 832.7 892.6 832.8 893.0 831.9 893.4 831.8 893.7 831.3 894.0 832.2 894.4 831.3 894.8 830.6 895.1 831.5 895.5 831.4 895.8 831.7 896.1 831.1 896.5 831.8 896.9 832.1 897.2 829.8 897.5 832.0 897.9 831.3 898.2 831.4 898.6 830.8 899.0 831.1 899.3 831.4 899.6 829.5 900.0 831.0 900.4 831.3 900.7 831.1 901.1 831.2 901.4 832.0 901.8 833.0 902.1 830.8 902.5 829.9 902.8 830.9 903.2 830.3 903.5 830.6 903.9 831.4 904.2 831.1 904.6 831.4 904.9 831.3 905.3 830.6 905.6 831.1 906.0 830.5 906.3 830.6 906.7 830.0 907.0 831.2 907.4 830.3 907.7 829.7 908.1 830.4 908.4 830.3 908.8 830.2 909.1 830.0 909.5 828.5 909.8 829.7 910.2 830.2 910.5 828.6 910.9 830.6 911.2 830.4 911.6 830.1 911.9 830.3 912.3 830.0 912.6 829.7 913.0 830.0 913.3 830.6 913.7 829.5 914.0 830.0 914.4 829.5 914.7 829.5 915.1 829.2 915.4 829.1 915.8 829.0 916.1 829.3 916.5 829.4 916.8 830.0 917.2 829.6 917.5 828.7 917.9 828.3 918.2 828.9 918.6 830.5 918.9 828.8 919.3 829.0 919.6 828.9 920.0 829.0 920.4 828.9 920.7 828.8 921.1 829.3 921.4 828.2 921.8 828.6 922.1 828.9 922.5 828.1 922.9 828.5 923.2 828.1 923.6 828.8 923.9 828.4 924.3 828.3 924.6 828.5 925.0 828.2 925.4 829.3 925.7 828.7 926.1 828.5 926.4 828.2 926.8 828.3 927.1 827.8 927.5 828.1 927.9 827.8 928.2 828.3 928.6 828.5 928.9 828.5 929.3 828.5 929.7 828.1 930.0 828.6 930.4 828.0 930.7 828.7 931.1 828.1 931.4 828.4 931.8 828.2 932.2 827.6 932.5 827.9 932.9 827.9 933.2 827.5 933.6 827.3 933.9 827.5 934.3 827.6 934.7 827.0 935.1 826.1 935.6 825.1 936.0 825.0 936.4 823.9 936.8 821.9 937.2 821.5 937.6 820.5 938.0 818.9 938.4 819.6 938.8 819.6 939.2 821.0 939.6 821.7 940.0 822.0 940.4 822.3 940.7 822.2 941.0 821.8 941.4 822.0 941.8 822.9 942.1 824.1 942.5 823.2 942.8 823.4 943.2 823.9 943.5 822.5 943.9 823.2 944.2 823.9 944.6 823.6 944.9 825.9 945.3 824.7 945.6 824.2 946.0 824.4 946.3 824.4 946.7 825.1 947.1 824.1 947.4 824.0 947.8 824.2 948.1 824.0 948.5 823.1 948.8 824.6 949.2 825.5 949.6 822.4 949.9 824.5 950.3 824.2 950.6 824.5 951.0 824.3 951.3 824.8 951.7 826.3 952.1 825.0 952.4 823.9 952.8 824.7 953.1 824.9 953.5 824.6 953.8 825.2 954.2 824.7 954.6 824.7 954.9 824.9 955.3 825.4 955.6 825.4 956.0 825.5 956.3 824.1 956.7 826.1 957.1 825.7 957.4 825.5 957.8 825.0 958.1 825.3 958.5 824.9 958.8 825.4 959.2 825.1 959.6 825.2 959.9 825.2 960.3 824.7 960.6 825.0 961.0 824.8 961.3 825.1 961.7 824.8 962.0 826.7 962.4 824.4 962.7 823.8 963.1 823.6 963.4 824.8 963.8 823.3 964.1 825.2 964.5 824.2 964.8 823.8 965.2 825.2 965.5 824.9 965.9 825.5 966.3 824.9 966.6 823.8 967.0 824.4 967.3 824.9 967.7 824.6 968.0 824.1 968.4 824.9 968.7 824.1 969.1 824.4 969.4 824.4 969.8 824.4 970.1 825.7 970.5 824.8 970.8 825.1 971.2 822.8 971.5 825.0 971.9 824.8 972.2 825.2 972.6 824.5 972.9 824.2 973.3 824.3 973.7 825.1 974.0 824.6 974.4 824.6 974.7 824.1 975.1 822.6 975.4 822.0 975.8 824.3 976.1 824.4 976.5 824.1 976.8 822.4 977.2 824.6 977.5 824.2 977.9 824.2 978.2 823.5 978.6 823.7 978.9 824.0 979.3 824.0 979.6 823.6 980.0 824.0 980.4 823.7 980.7 824.4 981.1 824.0 981.4 823.5 981.8 824.4 982.1 823.1 982.5 823.8 982.8 824.2 983.2 823.8 983.5 823.3 983.9 823.9 984.2 822.9 984.6 823.5 984.9 824.6 985.3 823.0 985.6 823.5 986.0 823.9 986.3 823.2 986.7 823.9 987.0 823.9 987.4 822.4 987.7 823.8 988.1 822.1 988.4 823.8 988.8 824.2 989.1 823.4 989.5 823.7 989.8 823.2 990.2 823.2 990.5 822.4 990.9 823.5 991.2 823.3 991.6 823.6 991.9 823.1 992.3 822.9 992.6 823.2 993.0 823.0 993.3 821.4 993.7 824.0 994.0 823.4 994.4 822.7 994.7 822.3 995.1 822.3 995.4 822.0 995.8 822.8 996.1 820.7 996.5 822.0 996.8 822.3 997.2 822.1 997.5 822.3 997.9 823.0 998.2 823.0 998.6 822.3 998.9 822.2 999.3 822.0 999.6 822.8 1000.0 822.2 1000.4 821.8 1000.7 821.6 1001.1 822.9 1001.4 823.1 1001.8 821.7 1002.2 822.4 1002.5 821.8 1002.9 821.5 1003.2 822.3 1003.6 821.5 1004.0 821.6 1004.3 820.8 1004.7 821.0 1005.0 821.3 1005.4 821.0 1005.8 821.0 1006.1 821.0 1006.5 820.6 1006.8 820.6 1007.2 819.9 1007.6 819.1 1007.9 821.0 1008.3 821.6 1008.6 820.3 1009.0 820.1 1009.4 820.1 1009.7 819.3 1010.1 818.1 1010.5 817.3 1010.8 817.2 1011.2 817.0 1011.5 816.2 1011.9 815.5 1012.3 815.5 1012.6 814.9 1013.0 815.4 1013.3 813.5 1013.7 810.7 1014.1 812.1 1014.4 809.8 1014.8 811.4 1015.2 812.1 1015.5 811.9 1015.9 811.6 1016.3 810.9 1016.7 812.1 1017.0 811.6 1017.4 811.5 1017.8 811.2 1018.1 811.5 1018.5 812.7 1018.9 811.7 1019.3 811.9 1019.6 812.1 1020.0 812.0 1020.4 811.5 1020.7 810.6 1021.1 812.2 1021.4 812.2 1021.8 811.8 1022.1 811.9 1022.5 811.2 1022.8 811.4 1023.2 810.2 1023.5 811.7 1023.9 812.3 1024.3 812.3 1024.6 812.1 1025.0 811.6 1025.3 811.4 1025.7 811.2 1026.0 810.2 1026.4 812.0 1026.7 811.9 1027.1 812.0 1027.4 811.8 1027.8 812.3 1028.2 811.5 1028.5 811.0 1028.9 811.0 1029.2 811.7 1029.6 811.1 1029.9 810.7 1030.3 811.3 1030.6 811.3 1031.0 812.1 1031.3 811.7 1031.7 809.5 1032.0 811.8 1032.4 811.2 1032.8 812.8 1033.1 811.6 1033.5 811.2 1033.8 811.3 1034.2 812.7 1034.5 811.6 1034.9 811.5 1035.2 811.3 1035.6 811.7 1035.9 811.8 1036.3 811.4 1036.7 811.5 1037.1 813.2 1037.4 811.3 1037.8 811.4 1038.2 811.0 1038.6 811.9 1039.0 811.2 1039.3 811.8 1039.7 811.8 1040.1 811.4 1040.5 810.8 1040.8 810.2 1041.2 808.1 1041.6 807.2 1041.9 806.6 1042.3 805.7 1042.7 805.2 1043.1 803.3 1043.4 802.8 1043.8 801.5 1044.2 801.6 1044.5 801.7 1044.9 801.0 1045.2 800.4 1045.6 800.7 1045.9 800.3 1046.3 800.6 1046.7 800.6 1047.0 800.0 1047.4 799.9 1047.7 800.2 1048.1 800.2 1048.4 800.7 1048.8 799.6 1049.1 799.9 1049.5 799.6 1049.8 799.9 1050.2 800.1 1050.5 799.4 1050.9 799.9 1051.2 799.5 1051.6 799.4 1051.9 798.9 1052.3 799.0 1052.6 798.9 1053.0 799.8 1053.3 799.5 1053.7 799.0 1054.1 799.5 1054.4 798.3 1054.8 798.3 1055.1 798.0 1055.5 797.5 1055.9 795.6 1056.2 793.9 1056.6 794.3 1056.9 790.6 1057.3 789.5 1057.6 787.5 1058.0 783.9 1058.3 782.6 1058.7 781.6 1059.1 779.4 1059.5 779.7 1059.8 775.1 1060.2 772.4 1060.6 766.0 1061.0 765.9 1061.3 762.2 1061.7 760.5 1062.1 762.6 1062.5 756.7 1062.9 756.8 1063.3 755.9 1063.7 757.0 1064.0 758.5 1064.4 754.7 1064.8 757.4 1065.2 756.0 1065.5 756.3 1065.9 757.3 1066.3 757.5 1066.7 758.0 1067.0 757.2 1067.4 754.3 1067.8 751.5 1068.1 754.9 1068.5 756.8 1068.9 756.2 1069.3 755.3 1069.6 755.8 1070.0 755.0 1070.4 755.3 1070.7 753.4 1071.1 754.0 1071.5 755.7 1071.8 753.5 1072.2 754.8 1072.6 755.8 1072.9 756.3 1073.3 756.0 1073.6 754.0 1074.0 753.7 1074.4 753.2 1074.7 754.7 1075.1 755.9 1075.5 753.3 1075.8 753.4 1076.2 754.2 1076.6 751.8 1076.9 753.5 1077.3 753.8 1077.7 753.7 1078.0 754.6 1078.4 754.1 1078.7 754.7 1079.1 752.9 1079.5 752.2 1079.8 753.7 1080.2 753.1 1080.5 753.4 1080.9 751.4 1081.3 752.4 1081.6 750.8 1082.0 752.0 1082.4 751.0 1082.7 752.0 1083.1 751.1 1083.4 754.1 1083.8 754.4 1084.1 753.9 1084.5 752.0 1084.9 753.4 1085.2 754.4 1085.6 754.4 1085.9 747.6 1086.3 756.8 1086.6 751.9 1087.0 752.1 1087.4 753.5 1087.7 755.1 1088.1 752.1 1088.4 754.9 1088.8 754.7 1089.1 754.5 1089.5 754.3 1089.8 750.1 1090.2 758.5 1090.5 756.2 1090.9 754.1 1091.2 753.9 1091.6 755.0 1092.0 754.5 1092.3 755.0 1092.7 754.7 1093.0 756.3 1093.3 756.1 1093.7 750.7 1094.0 755.8 1094.4 756.0 1094.8 756.3 1095.1 751.9 1095.5 756.3 1095.8 756.8 1096.2 755.8 1096.5 755.5 1096.8 754.9 1097.2 755.5 1097.5 757.1 1097.9 758.5 1098.2 760.0 1098.6 756.4 1099.0 757.8 1099.3 758.2 1099.7 758.1 1100.0 757.0 1100.4 757.7 1100.7 758.1 1101.1 758.0 1101.4 753.9 1101.8 757.1 1102.1 757.3 1102.5 758.7 1102.8 759.3 1103.2 757.8 1103.5 759.4 1103.9 756.6 1104.2 754.8 1104.6 757.8 1105.0 759.2 1105.3 761.4 1105.7 759.4 1106.0 759.4 1106.4 760.5 1106.7 759.4 1107.1 759.2 1107.4 761.9 1107.8 759.4 1108.1 757.8 1108.5 760.0 1108.9 760.3 1109.2 759.9 1109.6 759.1 1109.9 758.0 1110.3 760.2 1110.6 758.7 1111.0 759.0 1111.4 759.5 1111.8 754.6 1112.2 757.8 1112.5 757.0 1112.9 756.9 1113.3 757.3 1113.7 756.4 1114.1 754.3 1114.5 753.1 1114.8 753.3 1115.2 755.2 1115.5 753.8 1115.9 755.5 1116.2 753.2 1116.6 756.9 1116.9 755.2 1117.3 754.5 1117.6 755.0 1118.0 754.7 1118.3 753.6 1118.7 755.1 1119.0 754.0 1119.4 759.8 1119.7 755.3 1120.1 754.8 1120.4 757.4 1120.8 755.5 1121.1 754.3 1121.5 754.5 1121.8 753.8 1122.2 755.3 1122.5 755.7 1122.9 758.0 1123.2 754.7 1123.6 755.4 1123.9 755.3 1124.3 756.1 1124.6 751.6 1125.0 755.0 1125.4 754.8 1125.7 757.5 1126.1 752.9 1126.4 753.8 1126.8 753.5 1127.1 754.9 1127.5 753.5 1127.8 754.3 1128.2 755.1 1128.5 754.6 1128.9 754.9 1129.2 754.6 1129.6 751.5 1130.0 757.0 1130.3 753.6 1130.7 753.4 1131.0 755.3 1131.4 754.8 1131.7 754.9 1132.1 750.8 1132.4 755.2 1132.8 756.2 1133.1 754.0 1133.5 754.4 1133.8 757.6 1134.2 753.1 1134.6 754.5 1134.9 754.8 1135.3 751.7 1135.6 756.1 1136.0 755.2 1136.3 750.5 1136.7 754.4 1137.0 753.5 1137.4 754.8 1137.7 754.5 1138.1 755.0 1138.4 753.0 1138.8 754.3 1139.1 753.6 1139.5 754.7 1139.8 748.6 1140.2 747.8 1140.5 745.9 1140.9 742.9 1141.2 745.7 1141.6 745.2 1142.0 742.1 1142.3 740.8 1142.7 740.9 1143.0 740.0 1143.4 737.5 1143.8 731.6 1144.2 731.4 1144.6 729.3 1145.0 726.6 1145.4 725.0 1145.8 721.5 1146.2 719.9 1146.6 716.5 1147.0 714.8 1147.4 714.2 1147.8 715.2 1148.1 715.9 1148.5 716.4 1148.9 718.8 1149.3 720.3 1149.6 721.6 1150.0 722.0 1150.3 719.6 1150.7 723.2 1151.0 722.9 1151.4 723.9 1151.8 725.4 1152.1 724.5 1152.5 725.1 1152.8 727.1 1153.2 724.3 1153.5 727.2 1153.9 730.2 1154.2 728.1 1154.6 724.9 1154.9 727.8 1155.3 726.8 1155.7 725.5 1156.0 727.1 1156.4 726.6 1156.7 720.4 1157.1 723.8 1157.5 724.2 1157.8 723.4 1158.2 723.6 1158.5 720.8 1158.9 722.5 1159.3 721.7 1159.6 719.4 1160.0 720.0 1160.4 715.4 1160.7 712.8 1161.1 712.5 1161.5 708.1 1161.8 703.9 1162.2 701.9 1162.5 698.2 1162.9 695.7 1163.3 697.6 1163.7 699.3 1164.2 701.2 1164.6 704.0 1165.0 705.0 1165.4 706.7 1165.8 707.8 1166.2 701.8 1166.5 705.7 1166.9 707.6 1167.3 706.9 1167.7 706.3 1168.1 708.0 1168.5 706.9 1168.8 707.7 1169.2 707.5 1169.6 706.9 1169.9 707.1 1170.3 704.4 1170.6 708.0 1171.0 709.2 1171.4 708.6 1171.7 701.7 1172.1 709.2 1172.5 707.6 1172.8 706.8 1173.2 707.7 1173.5 710.1 1173.9 707.1 1174.3 702.5 1174.6 707.4 1175.0 708.0 1175.4 707.1 1175.7 708.4 1176.1 708.4 1176.4 707.6 1176.8 708.8 1177.1 711.6 1177.5 709.8 1177.8 709.4 1178.2 707.8 1178.6 709.6 1178.9 702.6 1179.3 706.6 1179.6 705.5 1180.0 706.0 1180.3 706.0 1180.7 700.4 1181.0 705.8 1181.4 705.0 1181.8 706.1 1182.2 707.3 1182.6 711.9 1183.0 712.0 1183.4 714.2 1183.8 715.1 1184.3 717.8 1184.7 717.8 1185.1 717.3 1185.5 717.2 1185.8 719.2 1186.2 716.6 1186.5 713.7 1186.9 716.9 1187.2 717.2 1187.6 719.3 1187.9 720.1 1188.3 719.1 1188.6 718.8 1189.0 720.8 1189.3 718.8 1189.7 720.0 1190.0 719.7 1190.4 718.2 1190.8 720.3 1191.1 716.4 1191.5 719.1 1191.8 718.5 1192.2 718.2 1192.5 718.7 1192.9 716.8 1193.2 718.5 1193.6 718.7 1193.9 714.6 1194.3 720.0 1194.6 716.0 1195.0 720.0 1195.4 721.4 1195.7 719.5 1196.1 720.3 1196.5 723.5 1196.8 721.2 1197.2 722.3 1197.6 720.6 1197.9 721.5 1198.3 722.1 1198.7 724.0 1199.0 725.6 1199.4 721.4 1199.8 721.7 1200.1 720.5 1200.5 722.0 1200.9 721.0 1201.2 723.2 1201.6 715.6 1202.0 714.0 1202.4 712.0 1202.8 710.0 1203.2 708.7 1203.6 708.0 1203.9 708.6 1204.3 710.8 1204.7 712.5 1205.0 712.0 1205.4 711.5 1205.7 712.8 1206.1 712.5 1206.4 714.3 1206.8 713.5 1207.2 714.7 1207.5 714.1 1207.9 714.2 1208.3 716.4 1208.6 717.2 1209.0 716.0 1209.3 716.4 1209.7 717.3 1210.1 717.5 1210.4 716.7 1210.8 717.1 1211.1 715.3 1211.5 717.6 1211.8 719.1 1212.2 718.8 1212.5 719.0 1212.9 718.8 1213.3 718.3 1213.6 719.5 1214.0 719.3 1214.3 719.2 1214.7 719.3 1215.0 719.6 1215.4 720.9 1215.7 720.2 1216.1 721.1 1216.4 720.7 1216.8 718.7 1217.2 720.1 1217.5 719.7 1217.9 720.9 1218.2 719.7 1218.6 721.6 1218.9 719.9 1219.3 721.1 1219.6 722.4 1220.0 722.0 1220.4 722.6 1220.7 722.0 1221.1 721.8 1221.4 723.0 1221.8 722.5 1222.1 722.2 1222.5 721.8 1222.8 722.1 1223.2 722.2 1223.5 723.1 1223.9 722.9 1224.2 725.3 1224.6 722.9 1224.9 722.3 1225.3 724.4 1225.7 722.8 1226.0 724.2 1226.4 725.0 1226.7 724.8 1227.1 725.4 1227.4 725.4 1227.8 725.4 1228.1 724.8 1228.5 724.6 1228.8 723.3 1229.2 724.8 1229.5 725.2 1229.9 726.1 1230.2 724.9 1230.6 727.3 1230.9 725.3 1231.3 726.6 1231.7 726.1 1232.0 728.4 1232.4 726.1 1232.7 726.4 1233.1 727.2 1233.4 727.0 1233.8 727.7 1234.1 725.4 1234.5 726.4 1234.8 726.6 1235.2 726.9 1235.5 726.7 1235.9 727.7 1236.2 727.0 1236.6 729.4 1236.9 728.2 1237.3 726.6 1237.6 727.5 1238.0 728.4 1238.3 727.6 1238.7 728.1 1239.0 728.1 1239.4 728.5 1239.8 728.2 1240.1 728.1 1240.5 727.8 1240.8 728.0 1241.2 728.4 1241.5 729.5 1241.9 728.5 1242.2 728.2 1242.6 726.5 1242.9 725.6 1243.3 728.1 1243.6 729.0 1244.0 728.6 1244.3 728.9 1244.7 729.0 1245.0 729.5 1245.4 728.3 1245.7 726.5 1246.1 729.2 1246.4 729.4 1246.8 729.6 1247.1 730.0 1247.5 729.7 1247.8 727.9 1248.2 727.7 1248.5 730.7 1248.9 730.0 1249.2 730.1 1249.6 730.2 1250.0 730.3 1250.3 729.8 1250.6 730.0 1251.0 730.0 1251.3 730.5 1251.7 729.9 1252.0 729.8 1252.4 730.3 1252.8 729.4 1253.1 727.4 1253.5 728.3 1253.8 728.4 1254.1 730.3 1254.5 729.8 1254.8 729.6 1255.2 729.5 1255.5 728.5 1255.9 729.3 1256.2 729.6 1256.6 730.1 1257.0 730.6 1257.3 730.7 1257.7 730.7 1258.0 729.8 1258.3 729.3 1258.7 728.5 1259.0 730.6 1259.4 729.3 1259.8 728.6 1260.1 729.8 1260.5 729.6 1260.8 730.3 1261.2 729.5 1261.5 729.9 1261.8 730.3 1262.2 728.4 1262.5 730.6 1262.9 730.7 1263.2 727.9 1263.6 730.1 1264.0 730.3 1264.3 731.6 1264.7 730.6 1265.0 730.0 1265.4 729.9 1265.7 728.6 1266.1 730.4 1266.4 729.4 1266.8 730.5 1267.1 730.3 1267.5 729.9 1267.8 730.1 1268.2 729.7 1268.5 730.2 1268.9 731.0 1269.3 729.9 1269.6 730.5 1270.0 729.9 1270.3 730.2 1270.7 730.3 1271.0 730.0 1271.4 729.7 1271.7 729.5 1272.1 728.0 1272.4 730.5 1272.8 729.5 1273.2 730.4 1273.5 729.5 1273.9 729.3 1274.2 729.2 1274.6 729.1 1274.9 729.4 1275.3 730.2 1275.6 730.2 1276.0 730.3 1276.3 729.9 1276.7 730.3 1277.1 730.1 1277.4 730.0 1277.8 727.6 1278.1 729.4 1278.5 730.6 1278.8 727.9 1279.2 726.8 1279.5 728.6 1279.9 730.4 1280.2 730.2 1280.6 729.8 1281.0 730.1 1281.3 729.3 1281.7 728.8 1282.0 731.0 1282.4 730.4 1282.7 727.6 1283.1 730.1 1283.4 730.3 1283.8 729.6 1284.1 728.1 1284.5 729.7 1284.9 730.0 1285.2 729.4 1285.6 729.9 1285.9 729.5 1286.3 727.7 1286.6 729.7 1287.0 728.5 1287.3 728.8 1287.7 728.8 1288.0 729.4 1288.4 729.6 1288.8 728.6 1289.1 727.3 1289.5 729.6 1289.8 729.9 1290.2 729.8 1290.5 729.0 1290.9 730.2 1291.2 729.9 1291.6 731.9 1291.9 731.5 1292.3 729.9 1292.6 730.0 1293.0 729.2 1293.3 729.9 1293.7 728.3 1294.0 730.8 1294.4 729.3 1294.7 730.1 1295.1 731.7 1295.4 730.3 1295.8 730.8 1296.1 731.4 1296.5 730.6 1296.8 731.1 1297.2 730.8 1297.5 732.2 1297.9 730.9 1298.2 732.6 1298.6 730.5 1298.9 729.9 1299.3 731.2 1299.6 730.9 1300.0 731.5 1300.3 731.6 1300.7 731.7 1301.0 732.8 1301.4 731.8 1301.7 731.7 1302.1 731.3 1302.4 730.9 1302.8 732.1 1303.1 731.4 1303.5 731.6 1303.8 732.1 1304.2 732.4 1304.5 731.8 1304.9 731.9 1305.2 733.4 1305.6 732.1 1305.9 733.1 1306.3 732.5 1306.6 732.4 1307.0 731.4 1307.3 732.8 1307.7 732.2 1308.0 732.5 1308.4 732.7 1308.8 732.3 1309.1 732.9 1309.5 733.5 1309.8 730.6 1310.2 733.0 1310.5 732.6 1310.9 730.2 1311.2 732.7 1311.6 732.1 1311.9 732.8 1312.3 732.5 1312.6 733.0 1313.0 732.5 1313.3 731.5 1313.7 732.9 1314.0 733.3 1314.4 731.6 1314.7 733.2 1315.1 732.1 1315.4 733.2 1315.8 732.4 1316.1 730.5 1316.5 732.7 1316.8 733.6 1317.2 733.1 1317.5 732.8 1317.9 733.5 1318.2 733.0 1318.6 732.3 1318.9 732.3 1319.3 731.5 1319.6 733.2 1320.0 733.1 1320.3 733.2 1320.7 733.6 1321.0 733.9 1321.4 733.7 1321.7 733.1 1322.1 733.1 1322.4 731.3 1322.8 733.9 1323.1 732.9 1323.5 735.4 1323.8 731.3 1324.2 732.9 1324.6 731.7 1324.9 733.6 1325.3 734.9 1325.6 734.4 1326.0 734.8 1326.3 733.8 1326.7 733.9 1327.0 733.6 1327.4 734.0 1327.7 733.5 1328.1 733.6 1328.4 732.6 1328.8 734.0 1329.1 733.9 1329.5 734.3 1329.8 734.5 1330.2 733.6 1330.5 734.3 1330.9 732.2 1331.2 734.7 1331.6 734.7 1331.9 734.5 1332.3 734.1 1332.6 734.0 1333.0 732.8 1333.3 734.8 1333.7 734.7 1334.0 735.3 1334.4 734.8 1334.7 734.6 1335.1 735.1 1335.4 735.3 1335.8 734.9 1336.1 735.2 1336.5 735.8 1336.8 734.5 1337.2 733.6 1337.5 734.4 1337.9 733.9 1338.2 732.7 1338.6 734.5 1338.9 734.5 1339.3 734.5 1339.6 734.7 1340.0 735.0 1340.4 734.3 1340.7 736.5 1341.1 735.8 1341.4 735.0 1341.8 735.7 1342.1 734.3 1342.5 734.6 1342.8 734.4 1343.2 735.1 1343.5 734.5 1343.9 733.0 1344.2 735.0 1344.6 734.9 1344.9 737.5 1345.3 735.7 1345.6 735.9 1346.0 735.1 1346.3 735.7 1346.7 735.4 1347.0 736.3 1347.4 735.9 1347.8 736.1 1348.1 735.6 1348.5 735.5 1348.8 735.0 1349.2 736.0 1349.5 735.2 1349.9 735.4 1350.2 735.2 1350.6 735.2 1350.9 735.9 1351.3 735.8 1351.6 735.6 1352.0 735.6 1352.3 736.8 1352.7 736.1 1353.0 735.9 1353.4 736.6 1353.7 736.1 1354.1 735.9 1354.4 735.9 1354.8 736.3 1355.2 735.9 1355.5 735.8 1355.9 736.0 1356.2 737.3 1356.6 736.3 1356.9 736.3 1357.3 735.4 1357.6 735.8 1358.0 736.8 1358.3 737.0 1358.7 736.2 1359.0 736.6 1359.4 736.4 1359.7 736.4 1360.1 736.7 1360.4 736.0 1360.8 736.3 1361.1 735.0 1361.5 735.9 1361.8 735.4 1362.2 736.7 1362.6 737.1 1362.9 737.0 1363.3 736.8 1363.6 736.9 1364.0 736.8 1364.3 736.9 1364.7 737.0 1365.0 735.7 1365.4 737.0 1365.7 738.3 1366.1 737.0 1366.4 736.3 1366.8 736.6 1367.1 737.0 1367.5 736.6 1367.8 738.1 1368.2 737.0 1368.5 737.5 1368.9 737.3 1369.3 736.7 1369.6 736.6 1370.0 737.4 1370.3 737.4 1370.7 737.5 1371.0 737.8 1371.4 737.3 1371.7 737.5 1372.1 737.9 1372.4 738.5 1372.8 738.1 1373.1 738.7 1373.5 737.5 1373.8 738.2 1374.2 738.0 1374.5 737.7 1374.9 737.2 1375.2 737.6 1375.6 738.1 1375.9 738.0 1376.3 737.5 1376.7 738.1 1377.0 737.6 1377.4 737.2 1377.7 738.7 1378.1 736.3 1378.4 738.4 1378.8 736.9 1379.1 738.1 1379.5 737.8 1379.8 737.8 1380.2 737.7 1380.5 736.5 1380.9 738.7 1381.2 738.0 1381.6 736.6 1381.9 738.1 1382.3 738.5 1382.6 738.2 1383.0 738.1 1383.3 738.0 1383.7 738.3 1384.1 738.7 1384.4 738.5 1384.8 738.3 1385.1 738.0 1385.5 738.5 1385.8 738.7 1386.2 737.7 1386.5 738.7 1386.9 738.9 1387.2 739.5 1387.6 739.4 1387.9 739.1 1388.3 738.7 1388.6 738.9 1389.0 737.3 1389.3 739.2 1389.7 738.9 1390.0 738.5 1390.4 738.7 1390.7 739.4 1391.1 738.9" fill="none" stroke="#c63cc6" stroke-width="1.1" stroke-linejoin="round"/>
<path d="M882.5 834.6L882.9 834.5 883.2 835.5 883.6 834.6 883.9 834.5 884.3 833.9 884.6 833.7 885.0 833.3 885.4 833.4 885.7 833.1 886.1 832.8 886.4 833.1 886.8 833.2 887.1 833.2 887.5 833.1 887.9 832.8 888.2 833.0 888.6 832.6 888.9 832.2 889.3 831.7 889.6 831.9 890.0 831.5 890.4 831.4 890.7 831.4 891.1 828.9 891.4 830.5 891.8 831.4 892.1 831.5 892.5 831.2 892.9 830.6 893.2 830.5 893.6 827.9 893.9 829.7 894.3 829.1 894.6 829.8 895.0 830.0 895.4 829.8 895.7 829.9 896.1 829.1 896.4 830.0 896.8 829.6 897.1 828.9 897.5 828.9 897.8 828.7 898.2 828.7 898.5 828.2 898.9 828.0 899.2 827.8 899.6 828.0 899.9 827.6 900.3 827.3 900.6 827.4 901.0 826.6 901.3 827.5 901.7 828.0 902.0 827.7 902.4 827.2 902.7 825.2 903.1 828.4 903.4 826.4 903.8 826.2 904.1 826.4 904.5 825.9 904.8 825.3 905.2 824.2 905.5 825.9 905.9 825.2 906.2 825.8 906.6 825.2 906.9 824.7 907.3 824.6 907.6 823.9 908.0 823.9 908.3 824.1 908.7 824.7 909.0 823.7 909.4 823.9 909.8 823.6 910.1 823.8 910.5 823.4 910.8 822.9 911.2 822.1 911.5 822.4 911.9 822.9 912.2 822.6 912.6 822.5 912.9 821.8 913.3 822.0 913.6 822.8 914.0 821.9 914.3 819.3 914.7 821.7 915.1 821.1 915.4 821.4 915.8 820.3 916.1 820.6 916.5 820.4 916.8 820.7 917.2 820.3 917.5 820.2 917.9 820.3 918.2 818.9 918.6 818.9 918.9 817.1 919.3 819.1 919.6 818.9 920.0 818.5 920.4 818.8 920.7 817.6 921.1 818.0 921.4 816.8 921.8 817.3 922.1 817.3 922.5 816.4 922.9 817.3 923.2 816.8 923.6 816.1 923.9 814.9 924.3 815.0 924.6 814.6 925.0 814.9 925.4 815.2 925.7 814.2 926.1 814.2 926.4 814.0 926.8 813.4 927.1 813.2 927.5 814.1 927.9 811.4 928.2 812.4 928.6 810.7 928.9 812.1 929.3 811.5 929.7 811.5 930.0 811.7 930.4 811.8 930.7 811.7 931.1 811.8 931.4 810.5 931.8 810.8 932.2 810.1 932.5 810.7 932.9 809.8 933.2 811.4 933.6 810.7 933.9 809.7 934.3 808.9 934.7 807.1 935.0 808.1 935.4 807.9 935.8 806.5 936.1 807.3 936.5 806.0 936.9 804.3 937.2 803.5 937.6 801.0 938.0 799.0 938.4 800.1 938.8 799.8 939.2 797.4 939.6 800.6 940.0 803.0 940.4 803.3 940.7 803.6 941.0 804.4 941.4 804.1 941.8 803.7 942.1 803.7 942.5 804.1 942.8 803.7 943.2 804.9 943.5 806.2 943.9 804.7 944.2 805.2 944.6 806.1 944.9 806.3 945.3 806.9 945.6 805.7 946.0 806.4 946.3 807.0 946.7 806.9 947.1 806.4 947.4 806.2 947.8 806.2 948.1 806.4 948.5 805.4 948.8 804.7 949.2 805.9 949.6 806.7 949.9 804.6 950.3 806.6 950.6 806.1 951.0 806.4 951.3 806.1 951.7 807.2 952.1 807.5 952.4 807.1 952.8 807.6 953.1 809.9 953.5 806.9 953.8 806.0 954.2 807.4 954.6 808.5 954.9 807.5 955.3 807.9 955.6 806.2 956.0 808.0 956.3 808.2 956.7 807.7 957.1 809.1 957.4 805.9 957.8 808.4 958.1 808.0 958.5 808.8 958.8 811.0 959.2 808.9 959.6 809.1 959.9 810.5 960.3 809.5 960.6 808.0 961.0 807.8 961.3 807.9 961.7 806.7 962.0 807.3 962.4 806.9 962.7 807.4 963.1 806.5 963.4 806.6 963.8 806.4 964.1 807.6 964.5 805.4 964.8 807.0 965.2 806.5 965.5 807.2 965.9 806.2 966.3 806.7 966.6 806.3 967.0 806.2 967.3 807.0 967.7 806.6 968.0 806.5 968.4 807.0 968.7 806.6 969.1 805.4 969.4 805.4 969.8 805.5 970.1 806.1 970.5 805.3 970.8 805.8 971.2 804.8 971.5 804.9 971.9 806.4 972.2 805.5 972.6 804.9 972.9 804.6 973.3 804.0 973.7 804.3 974.0 803.7 974.4 804.8 974.7 804.1 975.1 804.5 975.4 803.3 975.8 804.5 976.1 803.8 976.5 804.0 976.8 802.8 977.2 803.7 977.5 804.5 977.9 804.1 978.2 804.2 978.6 799.8 978.9 802.8 979.3 801.1 979.6 803.0 980.0 803.0 980.4 804.3 980.7 802.4 981.1 802.4 981.4 802.3 981.8 802.4 982.1 801.5 982.5 802.4 982.8 802.5 983.2 803.2 983.5 804.1 983.9 803.2 984.2 804.0 984.6 805.5 984.9 802.3 985.3 802.3 985.6 802.5 986.0 802.8 986.3 801.8 986.7 803.4 987.0 803.3 987.4 801.8 987.7 806.0 988.1 804.0 988.4 803.5 988.8 802.7 989.1 801.3 989.5 803.0 989.8 801.7 990.2 802.4 990.5 802.0 990.9 802.6 991.2 802.5 991.6 802.7 991.9 801.3 992.3 802.2 992.6 804.4 993.0 802.1 993.3 802.2 993.7 801.6 994.0 801.8 994.4 801.9 994.7 802.3 995.1 801.6 995.4 801.6 995.8 803.0 996.1 802.0 996.5 802.8 996.8 802.5 997.2 804.2 997.5 802.0 997.9 801.7 998.2 802.4 998.6 798.4 998.9 802.7 999.3 801.7 999.6 803.0 1000.0 802.1 1000.4 804.5 1000.7 802.5 1001.0 801.2 1001.4 802.0 1001.8 801.5 1002.1 800.7 1002.5 800.6 1002.8 801.4 1003.1 800.0 1003.5 799.6 1003.9 800.2 1004.2 802.5 1004.5 798.5 1004.9 798.8 1005.2 799.0 1005.6 799.8 1006.0 797.4 1006.3 797.6 1006.6 795.8 1007.0 797.6 1007.4 798.6 1007.7 798.4 1008.0 797.8 1008.4 797.4 1008.8 797.3 1009.1 797.1 1009.5 798.6 1009.8 797.0 1010.1 796.1 1010.5 796.0 1010.9 795.4 1011.2 795.1 1011.5 796.0 1011.9 794.7 1012.2 794.4 1012.6 795.2 1013.0 794.6 1013.3 795.3 1013.6 797.3 1014.0 794.0 1014.4 792.3 1014.8 789.6 1015.2 786.5 1015.6 787.2 1015.9 786.3 1016.3 786.7 1016.7 787.1 1017.0 786.8 1017.4 785.2 1017.7 785.8 1018.1 785.9 1018.5 786.6 1018.8 788.3 1019.2 785.2 1019.6 784.7 1019.9 785.9 1020.3 788.3 1020.6 785.2 1021.0 786.1 1021.4 785.2 1021.7 786.3 1022.1 784.7 1022.5 783.7 1022.8 784.5 1023.2 784.7 1023.5 785.2 1023.9 786.2 1024.3 782.9 1024.6 785.9 1025.0 785.0 1025.4 785.5 1025.7 785.1 1026.1 785.5 1026.4 783.0 1026.8 784.5 1027.1 785.1 1027.5 784.8 1027.8 784.4 1028.2 784.9 1028.5 785.4 1028.9 784.3 1029.2 784.5 1029.6 783.6 1029.9 784.9 1030.3 783.2 1030.7 783.5 1031.0 783.9 1031.4 784.6 1031.7 783.9 1032.1 782.4 1032.4 784.2 1032.8 784.0 1033.1 782.7 1033.5 783.8 1033.8 784.4 1034.2 783.7 1034.5 783.5 1034.9 783.6 1035.2 783.6 1035.6 783.8 1035.9 782.4 1036.3 782.8 1036.7 782.7 1037.1 782.3 1037.4 782.7 1037.8 784.3 1038.2 784.7 1038.6 783.3 1039.0 782.6 1039.3 781.8 1039.7 781.3 1040.1 782.1 1040.5 781.1 1040.8 780.9 1041.2 779.8 1041.6 779.2 1041.9 775.4 1042.3 776.8 1042.7 776.4 1043.0 776.8 1043.4 776.5 1043.7 775.6 1044.1 774.5 1044.5 775.0 1044.8 771.9 1045.2 770.8 1045.6 770.2 1045.9 770.7 1046.3 769.1 1046.7 768.2 1047.0 767.7 1047.4 767.2 1047.7 766.5 1048.1 766.6 1048.4 766.1 1048.8 767.2 1049.1 763.5 1049.5 763.9 1049.8 765.0 1050.2 759.0 1050.6 763.0 1050.9 761.8 1051.3 760.7 1051.6 761.5 1052.0 760.6 1052.3 763.2 1052.7 762.5 1053.0 759.6 1053.4 758.1 1053.7 757.9 1054.1 757.2 1054.4 754.7 1054.8 757.3 1055.2 757.2 1055.5 755.7 1055.9 755.4 1056.2 754.7 1056.6 752.8 1056.9 753.3 1057.3 754.4 1057.6 752.4 1058.0 751.5 1058.3 751.9 1058.7 751.7 1059.1 749.3 1059.4 745.6 1059.8 735.5 1060.1 737.9 1060.5 739.9 1060.8 736.2 1061.2 735.0 1061.7 728.1 1062.1 728.6 1062.5 726.9 1062.8 727.4 1063.2 720.7 1063.6 725.0 1064.0 727.0 1064.4 724.7 1064.7 725.2 1065.1 727.2 1065.4 722.1 1065.8 723.9 1066.2 726.3 1066.5 726.1 1066.9 727.6 1067.2 725.8 1067.6 722.5 1068.0 721.8 1068.3 724.8 1068.7 726.7 1069.0 725.8 1069.4 724.9 1069.7 725.8 1070.1 724.0 1070.5 723.8 1070.8 716.8 1071.2 721.5 1071.5 722.7 1071.9 725.2 1072.3 721.3 1072.6 722.4 1073.0 722.1 1073.3 721.0 1073.7 721.8 1074.1 719.9 1074.4 721.5 1074.8 721.3 1075.2 718.5 1075.6 718.4 1075.9 719.3 1076.3 719.7 1076.7 719.2 1077.0 718.1 1077.4 715.7 1077.8 718.6 1078.1 719.8 1078.5 716.2 1078.9 714.7 1079.3 717.9 1079.6 717.4 1080.0 716.0 1080.4 714.0 1080.7 713.0 1081.1 715.2 1081.4 717.3 1081.8 716.4 1082.1 716.5 1082.5 714.7 1082.8 713.6 1083.2 721.2 1083.5 715.8 1083.9 713.2 1084.2 713.7 1084.6 715.2 1084.9 715.3 1085.3 714.0 1085.6 714.2 1086.0 714.7 1086.3 713.8 1086.7 715.4 1087.0 717.6 1087.4 718.4 1087.7 715.0 1088.1 714.8 1088.4 715.5 1088.8 713.6 1089.1 712.0 1089.5 714.2 1089.8 714.0 1090.2 718.3 1090.5 710.8 1090.9 712.1 1091.2 718.7 1091.6 714.6 1092.0 713.5 1092.3 715.4 1092.7 712.6 1093.0 709.5 1093.3 711.6 1093.7 709.9 1094.0 710.5 1094.4 717.7 1094.8 711.9 1095.1 712.0 1095.5 712.7 1095.8 712.8 1096.2 712.0 1096.5 713.9 1096.8 708.8 1097.2 715.4 1097.5 711.2 1097.9 712.1 1098.2 712.2 1098.6 712.9 1099.0 711.1 1099.3 709.0 1099.7 709.9 1100.0 710.0 1100.4 711.5 1100.7 709.7 1101.1 709.3 1101.4 707.7 1101.8 702.5 1102.1 708.4 1102.5 709.1 1102.8 708.5 1103.2 704.0 1103.5 706.5 1103.9 712.3 1104.2 709.5 1104.6 707.9 1105.0 708.2 1105.3 708.9 1105.7 707.9 1106.0 706.2 1106.4 707.8 1106.7 709.8 1107.1 709.6 1107.4 710.2 1107.8 707.5 1108.1 711.5 1108.5 708.0 1108.9 707.9 1109.2 701.6 1109.6 706.5 1109.9 708.8 1110.3 700.6 1110.7 706.1 1111.0 708.5 1111.4 708.1 1111.7 708.3 1112.1 709.8 1112.5 707.8 1112.8 708.3 1113.2 707.8 1113.5 710.1 1113.9 709.3 1114.2 704.1 1114.6 699.4 1115.0 704.2 1115.3 704.9 1115.7 704.2 1116.0 702.6 1116.4 701.7 1116.8 707.8 1117.1 702.7 1117.5 701.0 1117.8 706.8 1118.2 705.7 1118.6 703.4 1118.9 703.6 1119.3 699.6 1119.6 706.9 1120.0 705.0 1120.4 705.0 1120.7 703.1 1121.1 705.4 1121.4 702.1 1121.8 703.2 1122.1 702.0 1122.5 703.9 1122.8 706.9 1123.2 705.7 1123.5 705.0 1123.9 709.1 1124.3 701.0 1124.6 703.1 1125.0 703.1 1125.3 706.0 1125.7 705.2 1126.0 701.6 1126.4 703.6 1126.7 701.5 1127.1 702.6 1127.4 701.3 1127.8 702.6 1128.2 702.9 1128.5 703.0 1128.9 701.5 1129.2 704.0 1129.6 702.3 1129.9 701.3 1130.3 697.4 1130.6 701.5 1131.0 700.0 1131.4 702.4 1131.7 699.7 1132.1 696.9 1132.4 698.9 1132.8 695.0 1133.1 700.2 1133.5 703.0 1133.8 701.4 1134.2 703.3 1134.5 699.1 1134.9 696.0 1135.3 704.6 1135.6 696.5 1136.0 701.2 1136.3 704.0 1136.7 700.8 1137.0 699.4 1137.4 700.5 1137.7 703.2 1138.1 702.0 1138.4 701.6 1138.8 700.3 1139.1 697.2 1139.5 699.6 1139.8 693.8 1140.2 697.1 1140.5 690.6 1140.9 695.5 1141.2 693.4 1141.6 695.0 1142.0 691.6 1142.3 691.7 1142.7 690.3 1143.0 690.0 1143.4 684.1 1143.8 683.4 1144.2 670.0 1144.6 676.9 1145.0 677.2 1145.4 675.8 1145.8 665.5 1146.2 660.4 1146.6 654.6 1147.0 647.7 1147.4 646.4 1147.8 656.7 1148.1 649.2 1148.5 654.6 1148.9 655.4 1149.3 654.4 1149.6 654.6 1150.0 662.0 1150.4 665.4 1150.7 666.5 1151.1 662.9 1151.4 664.0 1151.8 663.5 1152.1 663.0 1152.5 654.6 1152.9 655.4 1153.2 664.3 1153.6 667.5 1153.9 660.0 1154.3 651.8 1154.6 662.5 1155.0 660.0 1155.4 661.4 1155.7 660.7 1156.1 659.6 1156.4 663.0 1156.8 666.4 1157.2 670.6 1157.5 662.6 1157.9 660.0 1158.2 660.0 1158.6 662.1 1159.0 659.9 1159.3 663.3 1159.7 663.0 1160.0 654.9 1160.4 658.7 1160.8 653.8 1161.1 650.6 1161.5 656.4 1161.8 641.5 1162.2 638.6 1162.5 633.4 1162.9 627.9 1163.3 636.7 1163.7 639.3 1164.2 638.9 1164.6 639.4 1165.0 645.0 1165.3 640.4 1165.7 643.9 1166.0 649.1 1166.4 644.2 1166.8 647.4 1167.1 642.3 1167.5 646.1 1167.8 648.2 1168.2 647.5 1168.5 646.5 1168.8 646.8 1169.2 648.1 1169.5 648.5 1169.9 650.3 1170.2 647.0 1170.6 645.5 1171.0 640.0 1171.3 645.4 1171.7 650.4 1172.0 652.4 1172.4 652.6 1172.7 652.5 1173.1 654.4 1173.4 654.7 1173.8 665.0 1174.2 643.6 1174.5 654.6 1174.9 647.4 1175.3 650.2 1175.6 652.3 1176.0 651.7 1176.3 652.3 1176.7 645.0 1177.1 652.8 1177.4 646.8 1177.8 649.8 1178.2 648.9 1178.5 648.3 1178.9 651.0 1179.3 650.7 1179.6 653.0 1180.0 650.0 1180.3 646.3 1180.7 640.0 1181.1 643.1 1181.4 637.1 1181.8 637.4 1182.2 642.7 1182.6 645.0 1183.0 648.0 1183.4 651.1 1183.8 648.4 1184.3 655.7 1184.7 656.2 1185.1 657.2 1185.5 666.6 1185.8 659.6 1186.2 661.7 1186.5 656.5 1186.9 659.2 1187.3 658.4 1187.6 659.5 1188.0 649.8 1188.3 654.9 1188.7 655.4 1189.0 659.1 1189.4 658.0 1189.8 656.1 1190.1 647.8 1190.5 657.6 1190.8 657.1 1191.2 657.8 1191.6 658.3 1191.9 656.3 1192.3 658.7 1192.6 658.7 1193.0 658.0 1193.4 660.1 1193.7 660.0 1194.1 655.1 1194.4 654.8 1194.8 657.4 1195.1 649.4 1195.5 659.2 1195.9 661.1 1196.2 666.9 1196.6 661.6 1196.9 662.2 1197.3 661.8 1197.6 656.5 1198.0 654.8 1198.4 657.7 1198.7 660.4 1199.1 657.7 1199.4 656.2 1199.8 660.0 1200.1 657.9 1200.5 658.7 1200.9 657.5 1201.2 650.2 1201.6 647.1 1202.0 648.0 1202.4 643.4 1202.8 635.7 1203.2 634.7 1203.6 630.9 1203.9 633.6 1204.3 635.1 1204.7 638.9 1205.0 638.0 1205.4 644.3 1205.7 639.1 1206.1 639.0 1206.4 637.9 1206.8 638.8 1207.2 639.2 1207.5 636.6 1207.9 638.8 1208.3 644.4 1208.6 646.2 1209.0 643.0 1209.3 641.6 1209.7 643.3 1210.1 643.4 1210.4 643.1 1210.8 644.3 1211.1 643.8 1211.5 645.4 1211.8 644.1 1212.2 645.4 1212.5 644.6 1212.9 644.6 1213.3 645.5 1213.6 645.0 1214.0 645.1 1214.3 646.1 1214.7 645.3 1215.0 645.7 1215.4 646.3 1215.7 648.8 1216.1 646.3 1216.4 647.1 1216.8 646.4 1217.2 647.7 1217.5 645.7 1217.9 646.6 1218.2 646.2 1218.6 646.9 1218.9 643.8 1219.3 647.4 1219.6 646.8 1220.0 648.0 1220.4 648.0 1220.7 647.7 1221.1 647.9 1221.4 653.4 1221.8 644.2 1222.1 649.4 1222.5 648.1 1222.8 648.6 1223.2 649.3 1223.5 649.1 1223.9 650.1 1224.2 649.6 1224.6 652.2 1224.9 650.3 1225.3 644.7 1225.7 647.6 1226.0 648.8 1226.4 650.2 1226.7 650.0 1227.1 650.3 1227.4 650.0 1227.8 650.8 1228.1 647.1 1228.5 650.0 1228.8 648.4 1229.2 645.7 1229.5 649.8 1229.9 650.2 1230.2 649.0 1230.6 645.8 1230.9 650.6 1231.3 651.0 1231.7 651.2 1232.0 650.9 1232.4 652.2 1232.7 649.5 1233.1 650.6 1233.4 651.3 1233.8 651.7 1234.1 650.5 1234.5 651.2 1234.8 650.5 1235.2 651.4 1235.5 646.7 1235.9 655.3 1236.2 652.4 1236.6 650.0 1236.9 648.8 1237.3 650.3 1237.7 648.8 1238.0 650.5 1238.4 651.5 1238.7 651.0 1239.1 651.5 1239.4 650.9 1239.8 651.9 1240.1 651.0 1240.5 651.1 1240.8 651.9 1241.2 650.9 1241.5 649.8 1241.9 650.7 1242.2 652.3 1242.6 649.8 1242.9 651.0 1243.3 651.2 1243.6 650.2 1244.0 649.5 1244.4 651.4 1244.7 653.4 1245.1 646.2 1245.4 650.8 1245.8 650.7 1246.1 651.4 1246.5 651.3 1246.8 650.0 1247.2 646.4 1247.5 651.0 1247.9 651.4 1248.2 652.6 1248.6 649.3 1248.9 652.6 1249.3 649.2 1249.6 649.9 1250.0 650.0 1250.4 649.8 1250.7 652.3 1251.1 650.4 1251.4 650.5 1251.8 649.9 1252.1 651.1 1252.5 647.9 1252.8 650.1 1253.2 646.3 1253.5 647.7 1253.9 650.1 1254.2 652.1 1254.6 650.4 1255.0 651.0 1255.3 650.1 1255.7 649.8 1256.0 650.0 1256.4 650.4 1256.7 649.9 1257.1 649.1 1257.4 650.3 1257.8 649.2 1258.1 649.8 1258.5 649.2 1258.8 649.9 1259.2 649.8 1259.6 651.1 1259.9 648.9 1260.3 650.5 1260.6 650.8 1261.0 647.2 1261.3 649.5 1261.7 647.3 1262.0 652.7 1262.4 650.6 1262.7 650.4 1263.1 650.5 1263.4 650.8 1263.8 649.9 1264.2 649.7 1264.5 650.6 1264.9 650.3 1265.2 648.6 1265.6 649.8 1265.9 651.0 1266.3 648.5 1266.6 649.7 1267.0 649.6 1267.3 646.3 1267.7 649.8 1268.0 650.6 1268.4 650.9 1268.8 646.3 1269.1 649.6 1269.5 651.0 1269.8 645.9 1270.2 649.4 1270.5 649.8 1270.9 651.1 1271.2 647.0 1271.6 650.2 1271.9 649.9 1272.3 650.4 1272.6 648.9 1273.0 648.6 1273.4 649.7 1273.7 651.4 1274.1 648.5 1274.4 649.2 1274.8 649.3 1275.1 650.2 1275.5 649.4 1275.8 650.6 1276.2 646.7 1276.5 648.6 1276.9 649.0 1277.2 648.3 1277.6 649.5 1278.0 649.3 1278.3 649.1 1278.7 649.0 1279.0 649.7 1279.4 649.1 1279.7 649.1 1280.1 646.7 1280.4 648.4 1280.8 648.1 1281.1 647.6 1281.5 648.4 1281.8 648.3 1282.2 648.4 1282.5 647.6 1282.9 649.0 1283.2 648.4 1283.6 648.9 1283.9 648.1 1284.3 646.9 1284.6 647.4 1285.0 648.0 1285.4 647.6 1285.8 647.6 1286.1 645.9 1286.5 645.0 1286.9 644.5 1287.3 645.5 1287.6 643.8 1288.0 644.0 1288.4 643.3 1288.8 640.3 1289.1 644.7 1289.5 643.2 1289.8 643.9 1290.2 646.2 1290.6 647.6 1290.9 649.0 1291.3 646.7 1291.6 647.5 1292.0 648.0 1292.4 647.1 1292.7 648.1 1293.1 648.1 1293.4 648.8 1293.8 648.9 1294.1 649.1 1294.5 648.9 1294.8 648.1 1295.2 649.2 1295.5 648.2 1295.9 648.8 1296.2 649.0 1296.6 648.9 1296.9 650.2 1297.3 645.4 1297.6 647.8 1298.0 647.6 1298.4 650.8 1298.7 648.5 1299.1 647.2 1299.4 651.0 1299.8 644.8 1300.1 649.2 1300.5 650.6 1300.8 648.4 1301.2 648.1 1301.5 648.2 1301.9 649.1 1302.2 648.2 1302.6 645.0 1302.9 649.4 1303.3 649.8 1303.6 649.6 1304.0 648.5 1304.4 647.4 1304.7 647.9 1305.1 648.2 1305.4 648.9 1305.8 649.4 1306.1 649.5 1306.5 648.7 1306.8 649.2 1307.2 648.6 1307.5 648.0 1307.9 649.3 1308.2 647.3 1308.6 648.1 1308.9 649.1 1309.3 648.7 1309.6 648.9 1310.0 649.0 1310.4 649.1 1310.7 648.6 1311.1 648.5 1311.4 649.4 1311.8 649.7 1312.1 649.6 1312.5 649.7 1312.8 652.5 1313.2 649.3 1313.5 647.8 1313.9 649.1 1314.2 651.3 1314.6 649.4 1314.9 648.6 1315.3 648.8 1315.6 647.4 1316.0 648.4 1316.4 649.2 1316.7 650.0 1317.1 650.3 1317.4 650.0 1317.8 649.5 1318.1 649.3 1318.5 650.0 1318.8 649.8 1319.2 649.6 1319.5 649.1 1319.9 650.0 1320.2 650.0 1320.6 648.2 1320.9 648.2 1321.3 649.1 1321.6 649.8 1322.0 650.7 1322.4 649.7 1322.7 650.4 1323.1 650.5 1323.4 650.3 1323.8 651.0 1324.1 650.3 1324.5 650.3 1324.8 647.7 1325.2 649.6 1325.5 649.7 1325.9 650.1 1326.2 649.9 1326.6 649.0 1326.9 651.5 1327.3 650.2 1327.7 649.9 1328.0 649.2 1328.4 649.9 1328.7 651.5 1329.1 650.0 1329.4 650.5 1329.8 649.3 1330.1 651.4 1330.5 649.6 1330.8 650.8 1331.2 650.5 1331.5 650.1 1331.9 649.7 1332.2 650.1 1332.6 650.5 1332.9 647.0 1333.3 650.1 1333.7 652.1 1334.0 649.8 1334.4 651.2 1334.7 652.4 1335.1 649.9 1335.4 652.0 1335.8 649.0 1336.1 651.1 1336.5 651.0 1336.8 651.5 1337.2 651.6 1337.5 650.7 1337.9 650.2 1338.2 649.8 1338.6 650.0 1338.9 649.7 1339.3 651.0 1339.7 651.5 1340.0 650.3 1340.4 650.8 1340.7 650.2 1341.1 650.4 1341.4 649.8 1341.8 651.4 1342.1 649.7 1342.5 651.4 1342.8 651.5 1343.2 650.4 1343.5 652.7 1343.9 651.5 1344.2 649.5 1344.6 649.3 1344.9 650.7 1345.3 650.9 1345.6 650.9 1346.0 650.1 1346.3 650.3 1346.7 651.3 1347.1 652.4 1347.4 652.5 1347.8 651.8 1348.1 651.0 1348.5 652.1 1348.8 652.2 1349.2 651.5 1349.5 651.4 1349.9 651.5 1350.2 651.7 1350.6 651.6 1350.9 651.6 1351.3 651.9 1351.6 651.6 1352.0 651.8 1352.3 653.0 1352.7 650.1 1353.0 652.1 1353.4 651.7 1353.7 651.8 1354.1 653.3 1354.5 651.5 1354.8 652.1 1355.2 650.8 1355.5 651.9 1355.9 652.5 1356.2 652.6 1356.6 652.2 1356.9 652.9 1357.3 653.1 1357.6 654.4 1358.0 652.8 1358.3 651.6 1358.7 652.6 1359.0 652.3 1359.4 652.5 1359.7 652.7 1360.1 652.4 1360.4 652.4 1360.8 652.3 1361.1 653.2 1361.5 652.9 1361.9 653.3 1362.2 652.9 1362.6 652.5 1362.9 653.3 1363.3 652.7 1363.6 652.5 1364.0 652.3 1364.3 652.7 1364.7 652.5 1365.0 652.5 1365.4 652.9 1365.7 652.8 1366.1 653.9 1366.4 653.2 1366.8 653.1 1367.1 652.7 1367.5 653.5 1367.8 653.5 1368.2 653.7 1368.5 653.6 1368.9 653.7 1369.3 653.3 1369.6 653.1 1370.0 651.4 1370.3 653.1 1370.7 652.6 1371.0 653.1 1371.4 653.2 1371.7 652.8 1372.1 652.8 1372.4 653.5 1372.8 653.2 1373.1 653.6 1373.5 652.4 1373.8 654.3 1374.2 654.0 1374.5 653.2 1374.9 653.6 1375.2 653.2 1375.6 653.4 1375.9 653.7 1376.3 653.1 1376.7 654.1 1377.0 652.3 1377.4 653.5 1377.7 655.1 1378.1 653.7 1378.4 653.9 1378.8 653.5 1379.1 653.5 1379.5 654.0 1379.8 652.3 1380.2 654.0 1380.5 653.6 1380.9 654.1 1381.2 653.7 1381.6 654.5 1381.9 654.7 1382.3 654.0 1382.6 653.9 1383.0 654.3 1383.3 654.2 1383.7 654.4 1384.1 654.5 1384.4 654.3 1384.8 654.1 1385.1 654.2 1385.5 654.2 1385.8 654.1 1386.2 654.3 1386.5 654.1 1386.9 653.6 1387.2 654.4 1387.6 654.8 1387.9 654.5 1388.3 653.4 1388.6 653.9 1389.0 654.5 1389.3 654.7 1389.7 654.5 1390.0 654.7 1390.4 654.0 1390.7 654.6 1391.1 654.7" fill="none" stroke="#c03434" stroke-width="1.1" stroke-linejoin="round"/>
<path d="M882.5 834.6L882.9 834.5 883.2 834.4 883.6 834.4 883.9 833.8 884.3 832.0 884.6 833.7 885.0 833.3 885.4 833.3 885.7 832.9 886.1 832.6 886.4 832.4 886.8 832.7 887.1 831.5 887.5 831.6 887.9 833.0 888.2 831.4 888.6 830.1 888.9 829.0 889.3 830.3 889.6 830.6 890.0 830.5 890.4 830.4 890.7 830.5 891.1 830.3 891.4 830.2 891.8 830.2 892.1 830.0 892.5 829.0 892.9 829.0 893.2 828.5 893.6 828.7 893.9 828.6 894.3 827.7 894.6 828.5 895.0 828.0 895.4 827.5 895.7 827.7 896.1 827.4 896.4 827.3 896.8 827.5 897.1 826.5 897.5 827.1 897.8 826.5 898.2 826.7 898.5 826.8 898.9 826.3 899.2 827.8 899.6 826.1 899.9 825.9 900.3 826.0 900.6 825.8 901.0 825.5 901.3 824.6 901.7 825.7 902.0 824.6 902.4 824.6 902.7 824.2 903.1 823.8 903.4 824.6 903.8 823.1 904.1 825.5 904.5 824.1 904.8 823.4 905.2 823.5 905.5 823.3 905.9 822.7 906.2 822.4 906.6 822.1 906.9 822.9 907.3 822.5 907.6 822.1 908.0 822.2 908.3 821.5 908.7 821.4 909.0 821.1 909.4 821.4 909.8 821.8 910.1 821.3 910.5 820.9 910.8 820.6 911.2 820.6 911.5 820.6 911.9 820.3 912.2 820.0 912.6 819.8 912.9 819.7 913.3 819.8 913.6 818.9 914.0 819.5 914.3 819.1 914.7 819.9 915.1 818.4 915.4 818.3 915.8 816.8 916.1 818.4 916.5 817.9 916.8 818.1 917.2 817.8 917.5 818.1 917.9 816.9 918.2 816.6 918.6 816.1 918.9 816.0 919.3 816.4 919.6 816.1 920.0 816.0 920.4 815.8 920.7 815.5 921.1 815.3 921.4 815.1 921.8 814.9 922.1 814.6 922.5 814.2 922.9 814.0 923.2 814.4 923.6 814.1 923.9 813.1 924.3 815.5 924.6 813.9 925.0 815.1 925.4 813.2 925.7 813.4 926.1 813.2 926.4 811.8 926.8 812.9 927.2 812.2 927.5 810.6 927.9 814.0 928.2 812.1 928.6 811.8 928.9 812.0 929.3 812.9 929.7 811.1 930.0 811.8 930.4 808.2 930.7 810.3 931.1 810.6 931.4 809.5 931.8 810.2 932.1 809.3 932.5 808.7 932.8 807.0 933.2 808.9 933.5 809.0 933.9 808.0 934.2 807.6 934.6 806.9 935.0 806.7 935.3 806.6 935.6 807.0 936.0 806.0 936.4 801.9 936.8 799.3 937.2 792.5 937.6 793.1 938.0 789.0 938.4 788.0 938.8 791.1 939.2 791.9 939.6 793.2 940.0 795.0 940.4 796.0 940.7 796.0 941.0 796.3 941.4 796.4 941.8 794.7 942.1 795.1 942.5 795.3 942.8 796.6 943.2 797.0 943.5 796.9 943.9 797.4 944.2 797.7 944.6 795.1 944.9 797.8 945.3 797.1 945.6 797.4 946.0 798.5 946.3 798.2 946.7 799.0 947.1 797.6 947.4 798.6 947.8 797.2 948.1 799.0 948.5 797.8 948.8 799.0 949.2 799.1 949.6 799.8 949.9 799.7 950.3 798.9 950.6 799.6 951.0 798.6 951.3 799.3 951.7 798.9 952.1 797.8 952.4 798.9 952.8 799.6 953.1 798.9 953.5 800.6 953.8 800.1 954.2 801.6 954.6 798.0 954.9 795.3 955.3 799.9 955.6 799.2 956.0 799.6 956.3 799.8 956.7 800.2 957.1 799.7 957.4 799.4 957.8 800.1 958.1 801.7 958.5 799.9 958.8 800.5 959.2 800.2 959.6 799.4 959.9 799.5 960.3 800.6 960.6 800.8 961.0 799.9 961.4 800.5 961.7 800.6 962.1 800.0 962.4 799.2 962.8 799.6 963.2 799.6 963.5 800.8 963.9 801.0 964.2 799.6 964.6 799.4 965.0 799.2 965.3 801.4 965.7 798.2 966.0 799.3 966.4 799.3 966.8 796.6 967.1 799.5 967.5 800.9 967.8 800.1 968.2 799.1 968.6 798.0 968.9 799.2 969.3 796.9 969.6 797.1 970.0 798.5 970.4 798.3 970.7 801.7 971.0 797.9 971.4 797.4 971.8 798.3 972.1 797.1 972.5 798.8 972.8 797.5 973.1 798.2 973.5 798.3 973.9 798.5 974.2 796.7 974.5 798.8 974.9 797.8 975.2 796.4 975.6 792.8 976.0 797.2 976.3 796.2 976.6 798.0 977.0 797.9 977.4 800.4 977.7 796.9 978.0 797.0 978.4 796.7 978.8 795.7 979.1 797.1 979.5 797.0 979.8 796.6 980.1 796.4 980.5 796.7 980.9 796.8 981.2 796.2 981.5 795.8 981.9 796.4 982.2 796.0 982.6 795.9 983.0 796.0 983.3 795.6 983.6 794.1 984.0 795.2 984.4 794.9 984.7 795.5 985.1 795.7 985.4 794.6 985.8 794.1 986.1 793.7 986.5 789.1 986.8 792.8 987.2 793.6 987.6 795.0 987.9 793.3 988.3 794.4 988.6 794.4 989.0 795.4 989.3 796.2 989.7 795.4 990.0 794.2 990.4 793.9 990.8 793.5 991.1 793.9 991.5 794.7 991.8 793.5 992.2 792.7 992.5 792.7 992.9 794.2 993.2 793.1 993.6 791.6 994.0 793.1 994.3 792.4 994.7 793.0 995.0 792.9 995.4 794.6 995.7 791.4 996.1 790.8 996.4 792.5 996.8 791.7 997.2 791.5 997.5 791.4 997.9 791.3 998.2 790.1 998.6 789.7 998.9 790.4 999.3 791.2 999.6 791.4 1000.0 791.3 1000.4 791.1 1000.7 791.3 1001.0 789.9 1001.4 790.6 1001.8 791.1 1002.1 791.0 1002.5 790.8 1002.8 791.3 1003.1 791.3 1003.5 789.9 1003.9 787.8 1004.2 789.7 1004.5 788.3 1004.9 788.9 1005.2 787.8 1005.6 788.1 1006.0 786.0 1006.3 787.4 1006.6 790.3 1007.0 789.5 1007.4 789.7 1007.7 788.7 1008.0 789.7 1008.4 787.8 1008.8 788.2 1009.1 787.3 1009.5 788.7 1009.8 786.2 1010.1 787.3 1010.5 786.9 1010.9 786.3 1011.2 786.7 1011.5 785.6 1011.9 784.8 1012.2 785.2 1012.6 784.9 1013.0 785.8 1013.3 785.7 1013.6 785.2 1014.0 785.3 1014.4 771.0 1014.8 774.0 1015.2 772.9 1015.6 774.4 1016.0 775.6 1016.4 776.6 1016.8 774.4 1017.1 775.6 1017.5 776.5 1017.8 777.3 1018.2 775.0 1018.5 776.1 1018.9 774.6 1019.3 773.9 1019.6 773.2 1020.0 773.0 1020.3 775.4 1020.7 772.2 1021.1 773.8 1021.4 774.2 1021.8 773.4 1022.1 776.6 1022.5 773.0 1022.9 773.1 1023.2 772.3 1023.6 773.1 1023.9 775.6 1024.3 771.9 1024.6 772.6 1025.0 773.0 1025.4 774.1 1025.7 773.2 1026.1 770.5 1026.4 772.1 1026.8 772.0 1027.1 772.2 1027.5 769.9 1027.8 770.1 1028.2 772.3 1028.5 772.3 1028.9 772.4 1029.2 772.5 1029.6 772.2 1029.9 771.8 1030.3 770.9 1030.7 771.4 1031.0 771.9 1031.4 772.4 1031.7 771.7 1032.1 771.1 1032.4 771.8 1032.8 768.0 1033.1 772.0 1033.5 771.0 1033.8 771.3 1034.2 771.0 1034.5 771.2 1034.9 771.2 1035.2 771.8 1035.6 772.0 1035.9 770.0 1036.3 770.4 1036.7 769.6 1037.1 770.1 1037.4 769.5 1037.8 770.9 1038.2 770.1 1038.6 769.9 1039.0 771.1 1039.3 770.8 1039.7 771.6 1040.1 769.7 1040.5 768.7 1040.8 767.7 1041.2 767.4 1041.6 765.1 1041.9 764.7 1042.3 763.1 1042.7 765.1 1043.0 763.7 1043.4 762.8 1043.7 761.1 1044.1 760.8 1044.5 760.3 1044.8 760.5 1045.2 758.2 1045.6 757.0 1045.9 757.2 1046.3 756.7 1046.7 756.9 1047.0 757.5 1047.4 756.2 1047.7 754.6 1048.1 754.4 1048.4 753.3 1048.8 752.2 1049.1 752.9 1049.5 751.2 1049.8 751.7 1050.2 748.1 1050.6 751.6 1050.9 751.4 1051.3 749.0 1051.6 749.6 1052.0 749.7 1052.3 749.0 1052.7 747.7 1053.0 745.0 1053.4 745.2 1053.7 746.9 1054.1 746.5 1054.4 745.9 1054.8 744.7 1055.2 744.0 1055.5 744.9 1055.9 741.5 1056.2 743.0 1056.6 741.7 1056.9 742.7 1057.3 743.7 1057.6 741.1 1058.0 744.3 1058.3 742.6 1058.7 740.5 1059.1 739.3 1059.4 737.8 1059.8 736.9 1060.1 734.2 1060.5 735.0 1060.8 716.7 1061.2 706.9 1061.6 711.0 1062.1 711.6 1062.5 719.3 1062.8 720.6 1063.2 723.2 1063.5 718.2 1063.9 714.0 1064.2 712.6 1064.6 713.5 1065.0 712.3 1065.3 712.7 1065.7 713.1 1066.0 712.0 1066.3 710.8 1066.7 708.7 1067.0 711.2 1067.4 710.0 1067.8 713.0 1068.1 711.5 1068.5 712.2 1068.8 709.5 1069.2 708.7 1069.5 711.4 1069.8 709.2 1070.2 706.7 1070.5 706.2 1070.9 705.7 1071.2 701.8 1071.6 706.0 1072.0 706.6 1072.3 704.2 1072.7 703.1 1073.0 706.7 1073.4 706.4 1073.7 705.0 1074.1 704.0 1074.4 706.0 1074.8 704.6 1075.1 704.5 1075.5 703.0 1075.8 705.7 1076.2 702.2 1076.5 701.4 1076.9 702.2 1077.2 701.9 1077.6 701.2 1077.9 703.3 1078.3 701.4 1078.7 702.5 1079.0 701.8 1079.4 701.2 1079.7 700.6 1080.1 701.2 1080.4 700.8 1080.8 699.6 1081.1 699.2 1081.5 700.6 1081.8 701.7 1082.2 702.4 1082.5 699.6 1082.9 699.8 1083.2 698.8 1083.6 699.4 1084.0 694.8 1084.3 698.2 1084.7 698.7 1085.1 698.0 1085.4 696.6 1085.8 692.1 1086.2 691.8 1086.5 697.5 1086.9 697.9 1087.3 695.9 1087.7 696.9 1088.0 690.9 1088.4 698.7 1088.8 696.9 1089.1 693.7 1089.5 695.7 1089.8 698.3 1090.2 690.2 1090.5 692.7 1090.9 695.1 1091.2 695.4 1091.6 697.3 1092.0 696.6 1092.3 699.2 1092.7 691.6 1093.0 693.8 1093.3 691.9 1093.7 694.3 1094.0 694.5 1094.4 690.2 1094.8 687.3 1095.1 691.9 1095.5 689.4 1095.8 684.0 1096.2 691.3 1096.5 691.7 1096.8 688.4 1097.2 690.9 1097.5 689.1 1097.9 687.4 1098.2 682.5 1098.6 689.5 1099.0 687.9 1099.3 689.1 1099.7 686.8 1100.0 688.0 1100.4 688.6 1100.7 686.4 1101.1 686.9 1101.4 687.9 1101.8 688.2 1102.1 686.7 1102.5 687.5 1102.8 689.5 1103.2 688.1 1103.5 684.8 1103.9 686.8 1104.2 688.9 1104.6 685.4 1105.0 686.3 1105.3 682.2 1105.7 685.7 1106.0 683.9 1106.4 684.2 1106.7 686.9 1107.1 682.1 1107.4 688.5 1107.8 688.8 1108.1 687.2 1108.5 685.0 1108.9 683.7 1109.2 684.7 1109.6 683.9 1110.0 682.8 1110.3 683.2 1110.7 683.0 1111.0 686.2 1111.4 683.7 1111.8 683.5 1112.1 684.6 1112.5 674.4 1112.8 677.5 1113.2 680.8 1113.6 679.8 1113.9 678.6 1114.3 680.4 1114.7 676.9 1115.0 680.5 1115.4 676.2 1115.8 679.8 1116.1 678.9 1116.5 680.4 1116.8 678.3 1117.2 677.2 1117.6 678.7 1117.9 679.3 1118.3 678.7 1118.6 676.4 1119.0 676.3 1119.3 677.1 1119.7 667.5 1120.0 676.4 1120.4 677.2 1120.8 676.1 1121.1 673.6 1121.5 674.3 1121.8 674.4 1122.2 677.5 1122.5 679.0 1122.9 676.3 1123.2 676.0 1123.6 673.9 1124.0 678.6 1124.3 675.0 1124.7 676.9 1125.0 674.0 1125.4 678.3 1125.7 682.2 1126.1 675.6 1126.4 676.4 1126.8 674.6 1127.2 676.1 1127.5 671.9 1127.9 674.0 1128.2 676.1 1128.6 674.1 1128.9 672.2 1129.3 673.9 1129.6 674.3 1130.0 675.0 1130.4 675.3 1130.7 676.6 1131.1 682.1 1131.4 673.9 1131.8 674.5 1132.1 672.6 1132.5 681.4 1132.8 675.4 1133.2 677.1 1133.5 673.1 1133.9 678.6 1134.2 673.1 1134.6 672.9 1134.9 674.0 1135.3 674.1 1135.6 674.8 1136.0 673.9 1136.3 672.7 1136.7 673.8 1137.0 679.1 1137.4 675.5 1137.7 673.1 1138.1 672.1 1138.4 671.7 1138.8 674.1 1139.1 669.7 1139.5 671.0 1139.8 668.8 1140.2 671.5 1140.5 669.5 1140.9 673.2 1141.2 667.5 1141.6 667.9 1142.0 663.4 1142.3 668.4 1142.7 667.1 1143.0 665.0 1143.4 665.3 1143.8 658.7 1144.2 655.4 1144.6 649.6 1145.0 652.5 1145.4 647.7 1145.8 640.6 1146.2 636.1 1146.6 631.3 1147.0 618.3 1147.4 614.0 1147.8 616.4 1148.2 625.6 1148.6 622.0 1149.0 640.0 1149.4 649.5 1149.7 637.3 1150.1 642.2 1150.5 635.0 1150.9 635.7 1151.2 635.6 1151.6 638.6 1152.0 643.8 1152.3 643.1 1152.7 638.4 1153.1 643.0 1153.5 642.1 1153.8 640.2 1154.2 637.1 1154.6 641.5 1154.9 639.6 1155.3 636.4 1155.7 631.2 1156.0 635.4 1156.4 635.0 1156.7 636.1 1157.1 632.2 1157.5 630.4 1157.8 628.9 1158.2 635.2 1158.5 638.8 1158.9 635.1 1159.3 632.2 1159.6 628.8 1160.0 630.0 1160.4 623.5 1160.7 620.0 1161.1 617.0 1161.5 610.2 1161.8 609.5 1162.2 607.9 1162.5 604.2 1162.9 595.5 1163.3 601.1 1163.6 611.9 1164.0 615.0 1164.4 602.9 1164.7 607.9 1165.1 615.3 1165.5 618.3 1165.9 620.5 1166.2 611.6 1166.6 621.7 1166.9 618.7 1167.3 617.6 1167.6 621.9 1168.0 623.7 1168.3 616.9 1168.7 626.4 1169.0 623.4 1169.4 622.8 1169.8 619.8 1170.1 624.8 1170.5 623.9 1170.8 623.1 1171.1 622.3 1171.5 623.5 1171.8 618.0 1172.2 623.3 1172.5 621.9 1172.9 624.6 1173.2 619.5 1173.6 621.2 1174.0 629.6 1174.3 625.2 1174.7 627.4 1175.0 626.0 1175.4 629.4 1175.7 628.9 1176.1 629.5 1176.4 629.8 1176.8 627.0 1177.1 627.9 1177.5 625.3 1177.9 625.5 1178.2 624.9 1178.6 626.6 1178.9 624.8 1179.3 625.6 1179.6 633.5 1180.0 628.0 1180.3 627.3 1180.7 614.6 1181.1 612.1 1181.4 606.3 1181.8 611.7 1182.2 606.6 1182.6 615.7 1183.0 618.0 1183.4 620.1 1183.8 620.6 1184.3 619.3 1184.7 626.8 1185.1 624.8 1185.5 626.9 1185.8 626.4 1186.2 624.8 1186.5 625.9 1186.9 626.9 1187.3 635.2 1187.6 614.1 1188.0 628.7 1188.3 625.3 1188.7 623.1 1189.0 625.6 1189.4 621.8 1189.8 622.4 1190.1 622.0 1190.5 621.4 1190.8 629.1 1191.2 626.1 1191.6 630.0 1191.9 627.4 1192.3 625.8 1192.6 627.2 1193.0 627.0 1193.4 622.4 1193.7 626.5 1194.1 630.6 1194.4 626.7 1194.8 630.4 1195.1 628.4 1195.5 628.3 1195.9 627.3 1196.2 627.4 1196.6 631.2 1196.9 627.9 1197.3 615.1 1197.6 629.5 1198.0 626.7 1198.4 625.9 1198.7 626.2 1199.1 625.9 1199.4 626.4 1199.8 629.3 1200.1 630.5 1200.5 629.4 1200.9 628.2 1201.2 624.8 1201.6 611.6 1202.0 620.0 1202.4 615.2 1202.8 604.0 1203.2 597.4 1203.6 593.9 1203.9 594.9 1204.3 606.6 1204.7 598.8 1205.0 602.0 1205.4 606.1 1205.7 603.1 1206.1 606.0 1206.4 606.0 1206.8 606.2 1207.2 605.0 1207.5 602.0 1207.9 605.3 1208.3 604.9 1208.6 605.1 1209.0 607.1 1209.3 607.0 1209.7 607.8 1210.1 608.0 1210.4 603.4 1210.8 608.1 1211.1 608.0 1211.5 608.1 1211.8 611.0 1212.2 609.5 1212.5 607.8 1212.9 609.8 1213.3 608.4 1213.6 608.7 1214.0 611.1 1214.3 610.5 1214.7 611.9 1215.0 611.0 1215.4 612.0 1215.7 607.3 1216.1 611.9 1216.4 611.8 1216.8 612.0 1217.2 612.0 1217.5 610.6 1217.9 611.2 1218.2 611.1 1218.6 612.9 1218.9 613.6 1219.3 611.6 1219.6 614.7 1220.0 614.0 1220.4 615.4 1220.7 615.2 1221.1 615.4 1221.4 615.4 1221.8 610.2 1222.1 613.7 1222.5 614.1 1222.8 615.2 1223.2 615.0 1223.5 616.9 1223.9 616.6 1224.2 616.3 1224.6 615.2 1224.9 615.5 1225.3 615.1 1225.7 615.4 1226.0 619.0 1226.4 614.7 1226.7 617.5 1227.1 617.1 1227.4 615.4 1227.8 617.4 1228.1 621.6 1228.5 612.6 1228.8 612.6 1229.2 617.0 1229.5 618.4 1229.9 619.8 1230.2 617.0 1230.6 617.6 1230.9 618.6 1231.3 617.1 1231.7 617.0 1232.0 615.7 1232.4 616.8 1232.7 618.3 1233.1 616.2 1233.4 620.3 1233.8 616.0 1234.1 616.3 1234.5 615.7 1234.8 617.2 1235.2 617.0 1235.5 617.0 1235.9 617.4 1236.2 616.3 1236.6 616.8 1236.9 619.1 1237.3 618.5 1237.6 619.9 1238.0 616.7 1238.3 616.8 1238.7 616.7 1239.0 616.1 1239.4 616.3 1239.8 616.6 1240.1 617.1 1240.5 615.7 1240.8 614.5 1241.2 616.7 1241.5 618.0 1241.9 617.0 1242.2 617.2 1242.6 616.7 1242.9 618.7 1243.3 617.0 1243.6 616.9 1244.0 617.1 1244.3 617.8 1244.7 617.1 1245.0 611.6 1245.4 617.2 1245.7 618.7 1246.1 615.2 1246.4 618.4 1246.8 617.1 1247.2 618.5 1247.5 618.2 1247.9 617.3 1248.2 616.8 1248.6 617.2 1248.9 616.1 1249.3 616.6 1249.7 618.2 1250.0 616.5 1250.4 617.8 1250.7 616.7 1251.1 616.3 1251.4 615.3 1251.8 616.6 1252.2 616.2 1252.5 616.9 1252.9 616.6 1253.2 617.5 1253.6 618.5 1253.9 615.4 1254.3 616.0 1254.6 612.5 1255.0 616.9 1255.4 614.2 1255.7 616.7 1256.1 613.7 1256.4 615.5 1256.8 614.8 1257.1 615.7 1257.5 615.7 1257.9 616.5 1258.2 616.2 1258.6 615.8 1258.9 615.1 1259.3 614.7 1259.6 614.9 1260.0 615.5 1260.4 615.5 1260.7 615.2 1261.1 616.5 1261.4 615.8 1261.8 616.4 1262.1 618.2 1262.5 617.7 1262.8 616.8 1263.2 616.3 1263.5 617.7 1263.9 614.3 1264.2 614.2 1264.6 617.0 1264.9 615.9 1265.3 615.2 1265.6 614.0 1266.0 614.4 1266.3 613.6 1266.7 614.7 1267.0 615.1 1267.4 614.4 1267.7 614.6 1268.1 614.3 1268.4 611.3 1268.8 612.1 1269.2 615.2 1269.5 614.0 1269.9 615.1 1270.2 615.5 1270.6 614.1 1270.9 614.3 1271.3 615.1 1271.6 615.0 1272.0 614.5 1272.3 614.6 1272.7 613.8 1273.0 614.0 1273.4 613.7 1273.7 615.0 1274.1 611.1 1274.4 614.8 1274.8 614.5 1275.1 615.0 1275.5 612.1 1275.8 614.5 1276.2 613.8 1276.5 614.1 1276.9 614.4 1277.2 613.3 1277.6 614.0 1278.0 614.0 1278.3 614.1 1278.7 614.4 1279.0 613.5 1279.4 614.0 1279.7 615.6 1280.1 611.5 1280.4 613.3 1280.8 611.9 1281.1 613.8 1281.5 615.5 1281.8 613.0 1282.2 612.3 1282.5 613.3 1282.9 613.4 1283.2 611.9 1283.6 613.7 1283.9 612.0 1284.3 612.0 1284.6 613.1 1285.0 612.0 1285.4 610.7 1285.8 610.1 1286.1 609.6 1286.5 608.7 1286.9 609.2 1287.3 608.2 1287.6 606.9 1288.0 606.4 1288.4 606.3 1288.8 606.7 1289.1 607.4 1289.5 608.0 1289.9 608.5 1290.3 606.3 1290.6 610.7 1291.0 610.0 1291.4 610.6 1291.7 610.1 1292.1 611.0 1292.5 613.3 1292.8 611.4 1293.2 609.1 1293.5 611.1 1293.9 611.6 1294.3 611.7 1294.6 611.4 1295.0 611.8 1295.4 610.6 1295.7 611.3 1296.1 610.9 1296.5 611.9 1296.8 611.8 1297.2 611.8 1297.5 611.2 1297.9 610.0 1298.2 610.7 1298.6 611.5 1299.0 610.7 1299.3 613.0 1299.7 611.0 1300.0 608.9 1300.4 610.7 1300.7 610.2 1301.1 610.9 1301.4 612.2 1301.8 610.7 1302.2 611.2 1302.5 611.6 1302.9 611.9 1303.2 612.6 1303.6 611.7 1303.9 611.7 1304.3 611.7 1304.7 611.5 1305.0 611.8 1305.4 611.5 1305.7 611.4 1306.1 612.0 1306.4 611.9 1306.8 611.4 1307.1 610.8 1307.5 611.8 1307.9 611.0 1308.2 612.6 1308.6 610.8 1308.9 613.1 1309.3 612.3 1309.6 611.5 1310.0 612.5 1310.4 612.1 1310.7 611.7 1311.1 611.8 1311.4 611.6 1311.8 611.2 1312.1 609.7 1312.5 613.4 1312.9 613.0 1313.2 613.0 1313.6 610.6 1313.9 613.3 1314.3 612.1 1314.6 612.7 1315.0 613.8 1315.3 614.9 1315.7 612.7 1316.1 612.9 1316.4 613.2 1316.8 616.1 1317.1 615.8 1317.5 613.6 1317.8 613.6 1318.2 613.3 1318.6 612.9 1318.9 613.4 1319.3 612.7 1319.6 613.6 1320.0 610.6 1320.3 614.7 1320.7 613.7 1321.0 611.4 1321.4 613.5 1321.8 613.0 1322.1 613.1 1322.5 613.5 1322.8 610.9 1323.2 614.7 1323.5 614.4 1323.9 614.0 1324.3 613.6 1324.6 613.4 1325.0 611.6 1325.3 612.0 1325.7 614.4 1326.0 614.7 1326.4 613.8 1326.7 614.5 1327.1 610.9 1327.4 614.8 1327.8 613.9 1328.1 612.5 1328.5 613.6 1328.8 612.3 1329.2 613.1 1329.5 614.1 1329.9 615.0 1330.2 615.1 1330.6 614.1 1331.0 614.6 1331.3 614.8 1331.7 615.4 1332.0 614.5 1332.4 615.3 1332.7 614.7 1333.1 613.8 1333.4 615.3 1333.8 616.3 1334.1 614.6 1334.5 614.5 1334.8 615.9 1335.2 614.9 1335.5 615.6 1335.9 614.7 1336.2 614.6 1336.6 614.8 1337.0 615.3 1337.3 613.5 1337.7 615.3 1338.0 616.0 1338.4 618.2 1338.7 614.8 1339.1 615.1 1339.4 615.9 1339.8 612.1 1340.1 616.0 1340.5 615.9 1340.8 615.1 1341.2 614.5 1341.5 614.5 1341.9 615.8 1342.2 616.0 1342.6 616.1 1342.9 615.6 1343.3 615.8 1343.7 615.3 1344.0 615.8 1344.4 614.4 1344.7 616.7 1345.1 615.7 1345.4 615.4 1345.8 615.8 1346.1 614.6 1346.5 611.6 1346.8 614.6 1347.2 615.1 1347.5 614.9 1347.9 614.3 1348.2 613.8 1348.6 614.8 1348.9 615.7 1349.3 615.9 1349.6 615.2 1350.0 615.5 1350.4 615.9 1350.7 615.0 1351.1 615.7 1351.4 615.9 1351.8 615.6 1352.1 615.9 1352.5 615.8 1352.8 615.5 1353.2 616.7 1353.5 615.5 1353.9 615.8 1354.2 616.1 1354.6 616.0 1354.9 615.6 1355.3 615.8 1355.6 615.3 1356.0 615.7 1356.3 615.4 1356.7 616.2 1357.0 615.6 1357.4 615.7 1357.7 615.9 1358.1 615.2 1358.4 615.2 1358.8 615.4 1359.1 615.1 1359.5 616.3 1359.8 616.1 1360.2 616.4 1360.5 616.0 1360.9 615.3 1361.2 616.2 1361.6 616.3 1361.9 616.2 1362.3 616.2 1362.6 616.1 1363.0 616.6 1363.3 616.2 1363.7 616.3 1364.1 615.9 1364.4 616.3 1364.8 616.4 1365.1 616.3 1365.5 616.3 1365.8 616.0 1366.2 616.5 1366.5 616.5 1366.9 616.3 1367.2 614.9 1367.6 617.0 1367.9 616.4 1368.3 617.1 1368.6 616.6 1369.0 615.1 1369.3 614.4 1369.7 616.1 1370.0 616.6 1370.4 616.1 1370.7 616.1 1371.1 616.1 1371.4 616.5 1371.8 615.5 1372.1 616.5 1372.5 617.3 1372.8 616.7 1373.2 616.1 1373.5 616.1 1373.9 616.5 1374.2 616.9 1374.6 617.2 1374.9 617.2 1375.3 616.5 1375.6 617.0 1376.0 616.8 1376.3 616.2 1376.7 617.1 1377.0 617.7 1377.4 615.6 1377.8 617.3 1378.1 617.4 1378.5 615.9 1378.8 617.3 1379.2 616.8 1379.5 616.5 1379.9 616.7 1380.2 617.1 1380.6 617.3 1380.9 617.0 1381.3 616.1 1381.6 615.1 1382.0 616.8 1382.3 617.0 1382.7 617.1 1383.0 616.8 1383.4 617.0 1383.7 617.6 1384.1 616.8 1384.4 617.0 1384.8 615.5 1385.1 616.9 1385.5 616.6 1385.8 617.1 1386.2 617.4 1386.5 614.8 1386.9 617.2 1387.2 617.4 1387.6 617.9 1387.9 617.0 1388.3 617.4 1388.6 618.0 1389.0 617.2 1389.3 617.5 1389.7 617.0 1390.0 617.7 1390.4 617.4 1390.7 617.6 1391.1 617.4" fill="none" stroke="#30b8c4" stroke-width="1.1" stroke-linejoin="round"/>
<path d="M882.5 834.6L882.9 833.2 883.2 831.1 883.5 830.3 883.9 828.9 884.2 827.2 884.6 825.8 885.0 824.3 885.3 822.8 885.6 821.4 886.0 820.0 886.4 818.5 886.7 817.4 887.1 816.3 887.5 814.8 887.8 813.5 888.2 812.2 888.5 811.0 888.9 810.0 889.3 808.0 889.6 807.8 890.0 806.0 890.4 804.1 890.7 805.3 891.1 804.1 891.5 804.3 891.8 804.1 892.2 802.2 892.6 797.8 892.9 800.1 893.3 799.6 893.7 797.7 894.0 799.0 894.4 796.5 894.8 796.2 895.1 796.9 895.4 798.9 895.8 795.3 896.1 793.6 896.5 793.7 896.9 791.7 897.2 792.8 897.5 793.7 897.9 791.2 898.2 789.7 898.6 793.5 899.0 789.0 899.3 788.6 899.6 788.0 900.0 788.0 900.4 787.8 900.7 787.5 901.1 785.8 901.4 786.7 901.8 786.2 902.2 786.7 902.5 785.2 902.9 779.2 903.3 784.3 903.6 784.6 904.0 783.5 904.3 784.3 904.7 784.7 905.1 784.3 905.4 781.9 905.8 781.5 906.1 781.9 906.5 781.2 906.9 780.3 907.2 781.1 907.6 780.7 908.0 781.6 908.3 778.3 908.7 779.5 909.0 775.5 909.4 779.0 909.8 778.3 910.1 778.1 910.5 778.8 910.8 777.9 911.2 776.8 911.5 772.3 911.9 774.9 912.2 776.1 912.6 775.2 912.9 776.8 913.3 775.5 913.6 776.2 914.0 775.7 914.3 775.1 914.7 774.4 915.1 772.1 915.4 770.7 915.8 771.6 916.1 772.3 916.5 771.4 916.8 770.8 917.2 771.1 917.5 768.9 917.9 766.7 918.2 771.5 918.6 769.4 918.9 769.6 919.3 768.3 919.6 771.6 920.0 768.0 920.4 769.9 920.7 763.8 921.1 767.6 921.4 768.0 921.8 766.2 922.1 765.1 922.5 766.8 922.9 762.9 923.2 761.7 923.6 761.1 923.9 761.8 924.3 763.1 924.6 758.5 925.0 760.3 925.4 757.9 925.7 756.9 926.1 756.0 926.4 756.0 926.8 755.5 927.1 755.5 927.5 757.2 927.9 753.8 928.2 756.5 928.6 753.7 928.9 752.0 929.3 750.9 929.7 750.2 930.0 749.3 930.4 749.5 930.7 748.6 931.1 747.2 931.4 750.0 931.8 747.3 932.2 745.8 932.5 745.9 932.9 743.8 933.2 744.9 933.6 744.0 933.9 739.7 934.3 743.0 934.7 739.9 935.0 739.0 935.4 737.1 935.8 737.9 936.1 735.2 936.5 735.0 937.0 717.5 937.5 712.0 938.0 706.9 938.4 710.2 938.8 712.5 939.2 709.0 939.6 714.4 940.0 718.0 940.4 718.0 940.7 720.1 941.0 720.3 941.4 720.2 941.8 726.9 942.1 722.4 942.5 724.7 942.8 724.1 943.2 727.3 943.5 728.2 943.9 728.7 944.2 729.3 944.6 730.0 944.9 725.3 945.3 730.0 945.7 732.3 946.0 729.0 946.4 732.4 946.7 731.4 947.1 731.4 947.5 732.4 947.8 733.2 948.2 735.4 948.5 732.6 948.9 735.6 949.3 734.5 949.6 736.0 950.0 734.0 950.4 733.5 950.7 732.8 951.1 736.6 951.4 734.5 951.8 735.5 952.1 733.5 952.5 735.6 952.8 735.4 953.2 733.7 953.5 733.5 953.9 733.7 954.2 733.5 954.6 737.2 955.0 734.3 955.3 737.1 955.7 737.4 956.0 736.8 956.4 735.7 956.7 734.1 957.1 733.8 957.4 734.0 957.8 735.1 958.1 736.1 958.5 736.0 958.8 735.5 959.2 736.7 959.6 735.8 959.9 737.4 960.3 734.5 960.6 734.9 961.0 736.9 961.4 738.6 961.7 734.8 962.1 736.4 962.4 737.9 962.8 736.9 963.2 735.0 963.5 732.6 963.9 733.6 964.2 734.8 964.6 735.1 965.0 735.4 965.3 733.3 965.7 734.0 966.0 729.9 966.4 732.9 966.8 731.6 967.1 733.7 967.5 733.7 967.8 730.0 968.2 727.1 968.6 731.0 968.9 730.9 969.3 727.9 969.6 729.9 970.0 731.0 970.4 730.9 970.7 730.2 971.0 725.3 971.4 729.5 971.8 729.3 972.1 728.8 972.5 728.5 972.8 731.0 973.1 728.9 973.5 729.4 973.9 730.7 974.2 729.2 974.5 727.1 974.9 729.8 975.2 726.6 975.6 729.4 976.0 728.5 976.3 729.0 976.6 723.2 977.0 727.5 977.4 726.2 977.7 729.4 978.0 728.3 978.4 727.1 978.8 725.9 979.1 726.1 979.5 725.6 979.8 726.4 980.1 728.1 980.5 727.0 980.9 728.5 981.2 726.2 981.5 726.1 981.9 723.3 982.2 724.9 982.6 725.3 983.0 723.3 983.3 724.3 983.6 724.5 984.0 724.3 984.4 723.4 984.7 724.2 985.1 724.0 985.4 721.6 985.8 720.2 986.1 721.7 986.5 721.9 986.8 724.3 987.2 727.7 987.6 724.0 987.9 723.5 988.3 723.7 988.6 721.2 989.0 721.0 989.3 721.2 989.7 722.7 990.0 721.1 990.4 720.5 990.8 719.2 991.1 718.5 991.5 717.5 991.8 719.1 992.2 720.2 992.5 718.2 992.9 716.8 993.2 716.7 993.6 717.8 994.0 718.6 994.3 718.6 994.7 716.4 995.0 717.7 995.4 717.4 995.7 717.1 996.1 714.0 996.4 716.7 996.8 719.1 997.2 718.5 997.5 716.1 997.9 716.2 998.2 715.6 998.6 713.8 998.9 716.6 999.3 716.4 999.6 717.8 1000.0 715.0 1000.4 712.5 1000.7 715.5 1001.1 713.9 1001.4 711.0 1001.8 711.3 1002.2 714.8 1002.5 713.1 1002.9 713.8 1003.2 709.5 1003.6 711.8 1004.0 711.5 1004.3 715.1 1004.7 711.9 1005.0 716.1 1005.4 712.0 1005.8 711.7 1006.1 709.7 1006.5 712.3 1006.8 711.4 1007.2 711.4 1007.6 708.6 1007.9 709.9 1008.3 708.6 1008.6 709.9 1009.0 709.4 1009.4 710.0 1009.7 704.9 1010.1 710.1 1010.4 707.3 1010.8 708.8 1011.1 704.3 1011.5 706.1 1011.9 704.7 1012.2 705.4 1012.6 703.1 1012.9 703.9 1013.3 702.4 1013.6 700.4 1014.0 702.0 1014.4 675.8 1014.8 673.9 1015.2 680.7 1015.6 684.5 1016.0 686.0 1016.4 687.0 1016.8 686.6 1017.1 686.3 1017.5 688.6 1017.8 685.7 1018.2 685.4 1018.5 686.8 1018.9 686.6 1019.3 686.0 1019.6 684.9 1020.0 689.1 1020.3 684.1 1020.7 685.2 1021.1 683.9 1021.4 685.7 1021.8 688.1 1022.1 684.2 1022.5 689.2 1022.9 687.6 1023.2 687.9 1023.6 688.2 1023.9 692.2 1024.3 689.2 1024.6 686.8 1025.0 688.0 1025.4 689.2 1025.7 690.0 1026.1 683.9 1026.4 684.8 1026.8 684.4 1027.1 683.9 1027.5 683.7 1027.8 691.1 1028.2 685.1 1028.5 684.8 1028.9 688.0 1029.2 687.3 1029.6 684.3 1029.9 683.4 1030.3 685.3 1030.6 686.8 1031.0 686.8 1031.3 684.6 1031.7 685.1 1032.0 686.0 1032.4 685.6 1032.7 683.8 1033.1 675.9 1033.4 686.5 1033.8 684.5 1034.2 686.6 1034.5 683.3 1034.9 681.9 1035.3 681.9 1035.6 681.7 1036.0 681.8 1036.4 671.2 1036.7 680.9 1037.1 680.1 1037.4 679.6 1037.8 680.1 1038.2 678.9 1038.5 679.7 1038.9 679.7 1039.3 677.6 1039.6 676.4 1040.0 676.0 1040.4 676.1 1040.7 676.2 1041.1 674.5 1041.5 677.0 1041.9 670.1 1042.2 671.4 1042.6 671.3 1043.0 672.6 1043.3 669.6 1043.7 668.5 1044.1 665.2 1044.4 666.1 1044.8 666.2 1045.2 665.2 1045.6 666.6 1045.9 665.9 1046.3 664.6 1046.7 664.7 1047.0 662.9 1047.4 662.6 1047.7 661.2 1048.1 658.7 1048.4 657.9 1048.8 657.4 1049.2 657.8 1049.5 665.0 1049.9 659.6 1050.2 656.4 1050.6 654.7 1050.9 655.7 1051.3 647.4 1051.6 652.2 1052.0 652.0 1052.4 651.8 1052.7 655.4 1053.1 647.6 1053.4 645.8 1053.8 654.3 1054.1 645.0 1054.5 645.5 1054.8 646.8 1055.2 646.2 1055.5 644.0 1055.9 642.6 1056.2 643.6 1056.6 643.4 1056.9 648.6 1057.3 639.1 1057.6 627.5 1058.0 634.1 1058.3 630.2 1058.7 637.2 1059.1 633.0 1059.4 631.7 1059.8 633.8 1060.1 624.9 1060.5 635.2 1060.8 628.9 1061.2 634.7 1061.7 565.0 1062.1 596.2 1062.5 625.0 1062.9 615.4 1063.3 612.3 1063.7 609.8 1064.1 612.1 1064.4 603.8 1064.8 606.4 1065.1 615.1 1065.5 602.7 1065.8 603.6 1066.2 599.0 1066.6 583.3 1066.9 618.0 1067.3 616.9 1067.6 598.5 1068.0 600.0 1068.4 610.9 1068.7 598.5 1069.1 610.5 1069.4 592.8 1069.8 592.1 1070.1 593.1 1070.5 592.9 1070.8 588.1 1071.2 582.9 1071.6 597.0 1071.9 593.6 1072.3 588.5 1072.6 594.1 1073.0 588.3 1073.3 580.3 1073.7 584.9 1074.1 582.6 1074.4 583.8 1074.8 579.5 1075.2 582.2 1075.6 588.1 1075.9 579.8 1076.3 583.4 1076.7 573.7 1077.0 577.7 1077.4 579.9 1077.8 590.2 1078.1 577.6 1078.5 581.8 1078.9 574.5 1079.3 562.7 1079.6 574.7 1080.0 575.0 1080.4 567.5 1080.7 565.6 1081.1 568.5 1081.4 568.8 1081.8 569.9 1082.2 569.8 1082.5 570.5 1082.9 559.6 1083.3 559.3 1083.6 560.6 1084.0 565.4 1084.3 547.5 1084.7 562.4 1085.1 569.0 1085.4 565.8 1085.8 573.2 1086.2 560.4 1086.5 561.3 1086.9 559.2 1087.2 561.1 1087.6 556.0 1088.0 571.8 1088.3 557.7 1088.7 561.8 1089.0 541.7 1089.4 555.7 1089.7 538.5 1090.1 553.2 1090.4 556.9 1090.8 557.6 1091.1 553.3 1091.5 563.5 1091.8 545.2 1092.2 547.0 1092.5 545.2 1092.9 543.9 1093.2 545.2 1093.6 544.1 1093.9 538.7 1094.3 547.5 1094.6 540.5 1095.0 545.0 1095.4 547.8 1095.7 543.7 1096.1 539.2 1096.4 543.5 1096.8 540.2 1097.1 543.8 1097.5 534.9 1097.9 538.7 1098.2 543.4 1098.6 528.2 1098.9 546.8 1099.3 538.6 1099.6 533.6 1100.0 532.3 1100.4 539.7 1100.7 535.9 1101.1 537.6 1101.4 533.7 1101.8 538.1 1102.1 538.7 1102.5 535.8 1102.9 531.9 1103.2 526.7 1103.6 524.0 1103.9 531.5 1104.3 532.3 1104.6 526.2 1105.0 530.0 1105.4 529.9 1105.7 527.0 1106.1 535.5 1106.4 522.9 1106.8 523.6 1107.2 521.5 1107.5 523.8 1107.9 519.2 1108.2 522.6 1108.6 503.5 1109.0 505.7 1109.3 519.4 1109.7 515.9 1110.0 517.5 1110.4 512.7 1110.7 518.0 1111.1 515.0 1111.5 516.9 1111.8 512.8 1112.2 512.7 1112.5 506.1 1112.9 510.0 1113.3 508.8 1113.6 508.1 1114.0 529.0 1114.3 508.6 1114.7 504.3 1115.1 509.5 1115.4 502.7 1115.8 498.4 1116.2 505.1 1116.5 485.1 1116.9 508.0 1117.2 495.8 1117.6 507.5 1118.0 503.3 1118.3 504.4 1118.7 514.8 1119.1 484.1 1119.4 491.1 1119.8 492.5 1120.1 499.2 1120.5 497.0 1120.9 500.6 1121.2 514.1 1121.6 521.7 1121.9 496.5 1122.3 491.7 1122.6 492.8 1123.0 493.1 1123.3 505.7 1123.7 499.9 1124.0 495.7 1124.4 490.2 1124.7 474.1 1125.1 497.1 1125.4 479.3 1125.8 497.0 1126.1 485.2 1126.5 491.2 1126.8 490.7 1127.2 486.4 1127.5 493.5 1127.9 492.5 1128.2 485.6 1128.6 464.8 1128.9 494.6 1129.3 498.2 1129.6 487.6 1130.0 492.0 1130.4 492.5 1130.7 468.3 1131.1 496.1 1131.4 495.2 1131.8 501.2 1132.1 496.5 1132.5 499.5 1132.9 486.7 1133.2 488.6 1133.6 512.5 1133.9 495.8 1134.3 500.7 1134.6 495.4 1135.0 480.9 1135.3 489.4 1135.7 489.7 1136.1 490.9 1136.4 489.9 1136.8 487.4 1137.1 480.2 1137.5 488.2 1137.8 499.0 1138.2 482.2 1138.6 498.1 1138.9 497.9 1139.3 487.1 1139.6 466.2 1140.0 473.2 1140.3 468.2 1140.7 490.0 1141.1 476.5 1141.5 475.4 1141.8 486.0 1142.2 447.7 1142.6 466.5 1143.0 455.0 1143.4 442.5 1143.8 411.9 1144.1 435.9 1144.5 430.0 1144.9 427.5 1145.2 382.7 1145.6 441.3 1146.0 412.0 1146.4 411.4 1146.7 400.7 1147.1 396.0 1147.4 376.8 1147.8 373.4 1148.2 383.1 1148.6 397.7 1149.0 405.0 1149.4 413.4 1149.8 416.0 1150.1 419.1 1150.5 417.5 1150.9 415.5 1151.2 421.4 1151.6 398.3 1152.0 415.0 1152.4 433.2 1152.8 442.3 1153.2 426.2 1153.5 445.0 1153.9 425.8 1154.3 443.5 1154.7 470.0 1155.1 452.4 1155.6 431.5 1156.0 425.0 1156.4 424.4 1156.8 423.7 1157.1 427.5 1157.5 429.3 1157.9 421.7 1158.2 425.9 1158.6 442.2 1159.0 422.0 1159.4 417.1 1159.8 440.0 1160.2 432.2 1160.6 424.0 1161.0 430.0 1161.4 408.9 1161.8 397.6 1162.2 377.6 1162.6 360.8 1163.0 346.8 1163.4 356.8 1163.8 368.7 1164.2 379.1 1164.6 397.8 1165.0 395.0 1165.4 395.7 1165.7 390.2 1166.1 372.1 1166.4 398.2 1166.8 406.2 1167.2 388.9 1167.5 396.0 1167.9 408.9 1168.2 403.8 1168.6 406.3 1169.0 409.3 1169.3 409.4 1169.7 413.1 1170.0 408.0 1170.4 411.1 1170.7 413.3 1171.1 406.6 1171.4 403.5 1171.8 403.4 1172.2 408.0 1172.5 402.0 1172.9 415.3 1173.2 415.6 1173.6 422.8 1173.9 421.4 1174.3 419.3 1174.6 417.1 1175.0 415.0 1175.4 410.1 1175.7 393.5 1176.1 424.6 1176.4 423.6 1176.8 431.9 1177.1 403.7 1177.5 415.8 1177.9 408.2 1178.2 415.1 1178.6 412.6 1178.9 420.4 1179.3 427.0 1179.6 416.9 1180.0 424.0 1180.4 404.1 1180.8 402.4 1181.2 388.2 1181.6 385.1 1182.0 359.5 1182.4 377.8 1182.8 383.1 1183.2 377.2 1183.6 376.6 1184.0 385.0 1184.4 380.9 1184.7 391.3 1185.1 380.2 1185.5 383.2 1185.8 390.6 1186.2 391.5 1186.5 396.9 1186.9 370.4 1187.3 391.3 1187.6 401.7 1188.0 398.0 1188.4 396.0 1188.7 400.7 1189.1 386.5 1189.4 400.8 1189.8 393.7 1190.1 374.1 1190.5 412.6 1190.8 401.7 1191.2 396.3 1191.5 395.6 1191.9 400.1 1192.2 399.6 1192.6 399.7 1192.9 411.5 1193.3 400.7 1193.6 393.8 1194.0 402.0 1194.4 402.1 1194.7 400.2 1195.1 392.9 1195.4 409.2 1195.8 407.0 1196.1 403.3 1196.5 399.2 1196.9 397.1 1197.2 392.2 1197.6 415.6 1197.9 394.1 1198.3 395.1 1198.6 391.9 1199.0 398.0 1199.4 399.5 1199.8 397.7 1200.1 412.7 1200.5 386.2 1200.9 392.8 1201.3 387.8 1201.7 379.9 1202.0 386.8 1202.4 379.2 1202.8 383.5 1203.2 376.0 1203.6 364.1 1204.0 351.8 1204.4 338.2 1204.8 328.3 1205.2 328.3 1205.6 335.6 1206.0 345.0 1206.4 343.5 1206.8 346.8 1207.1 350.1 1207.5 339.8 1207.9 350.0 1208.2 349.4 1208.6 349.9 1209.0 350.6 1209.4 348.7 1209.7 346.3 1210.1 351.3 1210.4 347.2 1210.8 353.9 1211.1 355.2 1211.5 356.1 1211.8 352.6 1212.2 353.8 1212.5 353.5 1212.9 352.7 1213.2 355.5 1213.6 362.1 1213.9 344.3 1214.3 355.4 1214.6 346.9 1215.0 360.0 1215.4 359.7 1215.7 372.1 1216.1 369.3 1216.4 358.2 1216.8 361.0 1217.1 365.8 1217.5 367.1 1217.8 365.3 1218.2 368.4 1218.5 364.4 1218.9 359.1 1219.2 369.3 1219.6 359.7 1219.9 365.8 1220.3 365.1 1220.6 367.1 1221.0 370.5 1221.3 370.7 1221.7 368.3 1222.1 365.6 1222.4 370.0 1222.8 370.7 1223.1 368.5 1223.5 366.9 1223.8 371.4 1224.2 375.5 1224.5 364.0 1224.9 370.4 1225.2 370.2 1225.6 371.3 1225.9 383.1 1226.3 373.7 1226.6 373.3 1227.0 369.5 1227.3 369.1 1227.7 373.4 1228.0 371.2 1228.4 365.0 1228.7 370.3 1229.1 376.7 1229.4 372.7 1229.8 374.0 1230.1 377.6 1230.5 379.8 1230.8 386.2 1231.2 373.9 1231.5 366.9 1231.9 375.9 1232.3 386.7 1232.6 375.0 1233.0 373.6 1233.3 376.2 1233.7 360.0 1234.0 370.1 1234.4 376.5 1234.7 374.8 1235.1 373.4 1235.4 374.5 1235.8 372.8 1236.1 368.1 1236.5 373.1 1236.9 362.8 1237.2 370.5 1237.6 367.0 1237.9 366.5 1238.3 369.5 1238.6 374.7 1239.0 371.1 1239.3 370.9 1239.7 374.9 1240.0 376.6 1240.4 372.2 1240.8 371.7 1241.1 371.2 1241.5 366.2 1241.8 369.6 1242.2 359.0 1242.5 366.7 1242.9 364.3 1243.2 369.2 1243.6 370.4 1243.9 369.3 1244.3 367.0 1244.6 364.2 1245.0 368.0 1245.4 366.6 1245.7 373.8 1246.1 361.7 1246.4 373.3 1246.8 367.8 1247.2 369.7 1247.5 360.1 1247.9 369.7 1248.2 365.8 1248.6 367.4 1248.9 366.2 1249.3 374.5 1249.7 367.3 1250.0 364.8 1250.4 368.1 1250.7 361.5 1251.1 364.8 1251.5 363.5 1251.8 365.6 1252.2 363.7 1252.5 361.4 1252.9 360.9 1253.3 362.1 1253.6 367.9 1254.0 357.8 1254.3 361.9 1254.7 365.1 1255.0 364.8 1255.4 365.0 1255.8 364.6 1256.1 364.8 1256.5 365.7 1256.8 365.5 1257.2 363.3 1257.6 361.8 1257.9 366.2 1258.3 365.6 1258.6 366.3 1259.0 359.4 1259.3 359.1 1259.7 360.9 1260.0 361.8 1260.4 362.1 1260.8 363.2 1261.1 362.5 1261.5 359.8 1261.8 361.5 1262.2 360.9 1262.5 360.0 1262.9 363.6 1263.2 360.1 1263.6 353.3 1264.0 358.6 1264.3 356.5 1264.7 361.4 1265.0 358.4 1265.4 361.3 1265.7 360.3 1266.1 358.4 1266.4 357.3 1266.8 359.5 1267.2 362.6 1267.5 360.7 1267.9 355.9 1268.2 354.3 1268.6 361.3 1268.9 355.9 1269.3 354.7 1269.6 355.8 1270.0 357.0 1270.4 356.3 1270.7 359.7 1271.1 348.7 1271.4 348.2 1271.8 360.6 1272.1 354.8 1272.5 353.4 1272.9 358.0 1273.2 358.6 1273.6 355.1 1273.9 349.0 1274.3 353.1 1274.6 353.4 1275.0 346.9 1275.4 356.3 1275.7 359.8 1276.1 354.7 1276.4 353.8 1276.8 353.2 1277.1 354.7 1277.5 353.8 1277.9 354.7 1278.2 357.0 1278.6 354.7 1278.9 352.9 1279.3 357.2 1279.6 355.5 1280.0 352.5 1280.4 353.1 1280.7 352.2 1281.1 343.6 1281.4 354.1 1281.8 350.6 1282.1 356.4 1282.5 353.2 1282.9 354.0 1283.2 358.0 1283.6 355.8 1284.0 353.5 1284.4 356.2 1284.8 351.0 1285.1 349.6 1285.5 351.3 1285.9 350.8 1286.2 351.9 1286.6 352.3 1287.0 352.0 1287.4 348.3 1287.7 345.2 1288.1 340.9 1288.4 340.6 1288.8 338.0 1289.2 344.2 1289.5 332.4 1289.9 345.3 1290.3 342.5 1290.6 344.6 1291.0 345.0 1291.4 343.2 1291.7 341.9 1292.1 344.5 1292.5 345.1 1292.9 345.8 1293.2 345.9 1293.6 341.9 1294.0 349.9 1294.4 348.1 1294.7 342.9 1295.1 348.1 1295.5 348.4 1295.8 350.8 1296.2 349.8 1296.5 348.9 1296.9 348.5 1297.2 347.6 1297.6 348.7 1297.9 346.7 1298.3 349.6 1298.6 351.3 1299.0 350.8 1299.3 350.0 1299.7 347.6 1300.0 343.7 1300.4 347.7 1300.7 347.8 1301.1 351.0 1301.4 345.7 1301.8 348.8 1302.2 349.7 1302.5 348.1 1302.9 348.1 1303.2 350.5 1303.6 345.2 1303.9 349.8 1304.3 349.7 1304.6 351.1 1305.0 352.8 1305.3 351.8 1305.7 350.3 1306.0 351.3 1306.4 349.6 1306.7 354.4 1307.1 350.9 1307.4 350.1 1307.8 350.6 1308.2 350.3 1308.5 351.6 1308.9 349.3 1309.2 350.1 1309.6 353.9 1310.0 350.3 1310.3 351.0 1310.7 350.4 1311.0 350.9 1311.4 350.7 1311.7 348.6 1312.1 352.4 1312.5 353.0 1312.8 349.6 1313.2 355.0 1313.5 351.1 1313.9 351.4 1314.3 352.0 1314.6 351.0 1315.0 350.7 1315.3 350.7 1315.7 353.0 1316.1 350.4 1316.4 351.6 1316.8 351.3 1317.1 349.8 1317.5 352.2 1317.8 350.6 1318.2 348.5 1318.6 349.7 1318.9 351.0 1319.3 347.1 1319.6 352.7 1320.0 352.0 1320.4 350.2 1320.7 353.3 1321.1 352.1 1321.4 356.0 1321.8 353.0 1322.1 353.5 1322.5 351.8 1322.8 350.9 1323.2 350.8 1323.5 352.3 1323.9 351.3 1324.2 352.7 1324.6 346.1 1325.0 350.5 1325.3 351.3 1325.7 351.6 1326.0 352.5 1326.4 353.1 1326.7 351.0 1327.1 346.3 1327.4 352.3 1327.8 352.0 1328.1 351.3 1328.5 353.9 1328.9 352.4 1329.2 354.7 1329.6 351.8 1329.9 351.0 1330.3 353.6 1330.6 355.7 1331.0 347.1 1331.3 353.6 1331.7 356.7 1332.0 352.2 1332.4 352.0 1332.7 351.7 1333.1 351.9 1333.5 348.4 1333.8 349.2 1334.2 350.9 1334.5 351.0 1334.9 351.0 1335.2 352.3 1335.6 350.6 1335.9 351.9 1336.3 352.6 1336.6 348.4 1337.0 350.6 1337.3 348.4 1337.7 353.2 1338.0 350.4 1338.4 353.6 1338.7 351.5 1339.1 351.1 1339.4 348.4 1339.8 349.3 1340.2 350.8 1340.5 349.9 1340.9 350.9 1341.2 350.1 1341.6 349.1 1341.9 349.5 1342.3 348.4 1342.6 347.9 1343.0 349.6 1343.3 349.6 1343.7 349.5 1344.0 348.1 1344.4 353.8 1344.7 351.1 1345.1 348.5 1345.4 347.9 1345.8 349.4 1346.1 349.0 1346.5 350.5 1346.8 346.2 1347.2 349.5 1347.5 352.3 1347.9 349.2 1348.2 350.6 1348.6 350.5 1349.0 350.6 1349.3 350.4 1349.7 351.9 1350.0 351.6 1350.3 352.0 1350.7 350.9 1351.0 349.4 1351.4 352.5 1351.8 352.6 1352.1 351.9 1352.5 352.8 1352.8 352.8 1353.2 352.5 1353.5 352.8 1353.9 352.5 1354.2 352.6 1354.5 352.6 1354.9 353.0 1355.2 353.1 1355.6 351.6 1356.0 353.6 1356.3 353.9 1356.7 352.8 1357.0 353.2 1357.4 353.8 1357.7 353.8 1358.1 353.9 1358.4 354.4 1358.8 355.0 1359.1 355.1 1359.5 354.5 1359.8 353.9 1360.2 354.2 1360.5 357.0 1360.9 355.8 1361.2 355.0 1361.6 354.8 1361.9 354.6 1362.3 353.7 1362.6 354.8 1363.0 355.5 1363.3 355.0 1363.7 354.6 1364.1 355.1 1364.4 355.2 1364.8 355.1 1365.1 354.9 1365.5 353.4 1365.8 355.2 1366.2 355.6 1366.5 355.2 1366.9 355.2 1367.2 356.4 1367.6 355.9 1367.9 355.0 1368.3 355.2 1368.6 356.3 1369.0 355.6 1369.3 355.5 1369.7 355.7 1370.1 355.0 1370.4 356.0 1370.8 355.5 1371.1 355.6 1371.5 355.6 1371.8 356.2 1372.2 356.3 1372.5 355.6 1372.9 355.6 1373.2 355.5 1373.6 356.1 1373.9 355.8 1374.3 356.4 1374.6 358.4 1375.0 356.5 1375.4 354.1 1375.7 356.2 1376.1 356.5 1376.4 358.2 1376.8 357.3 1377.1 357.2 1377.5 357.3 1377.8 356.7 1378.2 356.6 1378.5 355.7 1378.9 357.2 1379.3 357.3 1379.6 356.9 1380.0 356.4 1380.3 357.3 1380.7 357.4 1381.0 355.4 1381.4 357.4 1381.7 357.7 1382.1 357.8 1382.4 357.2 1382.8 356.0 1383.2 357.5 1383.5 356.9 1383.9 357.1 1384.2 357.4 1384.6 357.4 1384.9 357.4 1385.3 358.1 1385.6 358.4 1386.0 358.0 1386.3 358.0 1386.7 357.8 1387.0 357.9 1387.4 358.8 1387.8 358.8 1388.1 358.2 1388.5 358.2 1388.8 358.9 1389.2 357.7 1389.5 359.0 1389.9 358.6 1390.2 357.7 1390.6 358.1 1390.9 358.6 1391.3 358.7" fill="none" stroke="#3cbf3c" stroke-width="1.1" stroke-linejoin="round"/></g>
<clipPath id="cc"><rect x="-5" y="930" width="1233.5" height="300"/></clipPath><g id="contour" clip-path="url(#cc)"><path d="M112.0 1028.0C113.9 1021.1 125.5 1028.2 128.0 1029.0C130.4 1029.8 130.4 1034.1 133.0 1035.0C135.6 1035.9 146.3 1036.5 150.0 1036.5C153.7 1036.5 162.7 1035.8 165.0 1035.0C167.3 1034.2 167.9 1030.6 170.0 1030.0C172.1 1029.4 181.0 1029.3 183.0 1030.0C185.0 1030.7 184.4 1035.1 187.0 1036.0C189.6 1036.9 201.5 1037.6 205.0 1037.5C208.5 1037.4 215.0 1035.9 217.0 1035.0C219.0 1034.1 216.8 1030.6 222.0 1030.0C227.2 1029.4 256.9 1029.3 262.0 1030.0C267.1 1030.7 263.9 1035.3 266.0 1036.0C268.1 1036.7 277.7 1036.5 280.0 1036.0C282.3 1035.5 284.6 1032.6 286.0 1032.0C287.4 1031.4 290.6 1030.9 292.0 1031.0C293.4 1031.1 296.5 1032.2 298.0 1033.0C299.5 1033.8 301.9 1037.4 305.0 1038.0C308.1 1038.6 321.5 1038.3 325.0 1038.0C328.5 1037.7 332.1 1035.6 335.0 1035.0C337.9 1034.4 345.3 1033.6 350.0 1033.0C354.7 1032.4 368.0 1030.1 375.0 1030.0C382.0 1029.9 400.0 1032.1 410.0 1032.0C420.0 1031.9 453.1 1029.0 461.0 1029.0C468.9 1029.0 475.0 1031.1 478.0 1032.0C481.0 1032.9 484.0 1036.7 487.0 1037.0C490.0 1037.3 499.9 1035.3 504.0 1035.0C508.1 1034.7 517.9 1033.8 522.0 1034.0C526.1 1034.2 535.0 1037.0 539.0 1037.0C543.0 1037.0 552.0 1033.8 556.0 1034.0C560.0 1034.2 569.3 1037.7 573.0 1039.0C576.7 1040.3 585.2 1044.8 588.0 1045.0C590.8 1045.2 594.9 1042.6 597.0 1041.0C599.1 1039.4 603.5 1032.4 606.0 1031.0C608.5 1029.6 616.2 1027.4 618.0 1029.0C619.8 1030.6 618.8 1044.0 621.0 1045.0C623.2 1046.0 633.4 1039.9 637.0 1038.0C640.6 1036.1 638.6 1030.0 652.0 1029.0C665.4 1028.0 739.8 1028.3 752.0 1029.0C764.2 1029.7 755.4 1034.2 757.0 1035.0C758.6 1035.8 764.1 1036.3 766.0 1036.0C767.9 1035.7 770.9 1032.8 773.0 1032.0C775.1 1031.2 780.3 1029.3 784.0 1029.0C787.7 1028.7 801.7 1027.7 805.0 1029.0C808.3 1030.3 809.1 1038.2 812.0 1040.0C814.9 1041.8 826.7 1042.6 830.0 1044.0C833.3 1045.4 837.1 1052.1 840.0 1052.0C842.9 1051.9 851.6 1043.8 855.0 1043.0C858.4 1042.2 866.4 1043.7 869.0 1045.0C871.6 1046.3 877.4 1052.1 877.0 1054.0C876.6 1055.9 868.9 1059.5 866.0 1061.0C863.1 1062.5 855.0 1066.0 852.0 1067.0C849.0 1068.0 843.0 1070.1 840.0 1070.0C837.0 1069.9 829.0 1066.9 826.0 1066.0C823.0 1065.1 816.1 1062.2 814.0 1062.0C811.9 1061.8 807.6 1062.0 808.0 1064.0C808.4 1066.0 814.2 1076.3 817.0 1079.0C819.8 1081.7 831.4 1085.6 832.0 1087.0C832.6 1088.4 824.6 1091.0 822.0 1091.0C819.4 1091.0 812.1 1087.1 810.0 1087.0C807.9 1086.9 803.8 1087.3 804.0 1090.0C804.2 1092.7 811.0 1107.1 812.0 1110.0C813.0 1112.9 813.7 1114.2 813.0 1115.0C812.3 1115.8 807.9 1117.8 806.0 1117.0C804.1 1116.2 799.3 1109.9 797.0 1108.0C794.7 1106.1 789.1 1102.4 786.0 1101.0C782.9 1099.6 772.9 1097.6 770.0 1096.0C767.1 1094.4 762.2 1089.8 761.0 1087.0C759.8 1084.2 762.0 1074.0 760.0 1072.0C758.0 1070.0 748.9 1070.0 744.0 1070.0C739.1 1070.0 724.1 1071.5 718.0 1072.0C711.9 1072.5 696.8 1074.2 692.0 1074.0C687.2 1073.8 680.6 1070.2 677.0 1070.0C673.4 1069.8 663.1 1069.8 661.0 1072.0C658.9 1074.2 658.6 1086.1 659.0 1089.0C659.4 1091.9 663.0 1095.4 664.0 1097.0C665.0 1098.6 668.2 1101.4 668.0 1103.0C667.8 1104.6 663.9 1109.8 662.0 1111.0C660.1 1112.2 655.6 1112.2 652.0 1113.0C648.4 1113.8 635.4 1116.2 631.0 1118.0C626.6 1119.8 617.6 1127.0 614.0 1128.0C610.4 1129.0 602.8 1128.0 600.0 1127.0C597.2 1126.0 591.6 1121.0 590.0 1119.0C588.4 1117.0 587.4 1111.0 586.0 1110.0C584.6 1109.0 580.5 1110.0 578.0 1110.0C575.5 1110.0 569.5 1110.6 565.0 1110.0C560.5 1109.4 545.1 1106.0 539.0 1105.0C532.9 1104.0 520.1 1101.5 513.0 1101.0C505.9 1100.5 485.1 1100.8 478.0 1101.0C470.9 1101.2 458.1 1103.6 452.0 1103.0C445.9 1102.4 432.1 1096.5 426.0 1096.0C419.9 1095.5 405.0 1099.2 400.0 1099.0C395.0 1098.8 387.0 1094.9 383.0 1094.0C379.0 1093.1 369.4 1090.2 366.0 1091.0C362.6 1091.8 357.0 1098.8 354.0 1101.0C351.0 1103.2 344.2 1109.2 340.0 1110.0C335.8 1110.8 322.7 1108.5 318.0 1108.0C313.3 1107.5 303.1 1106.3 300.0 1106.0C296.9 1105.7 294.0 1104.8 291.0 1105.0C288.0 1105.2 278.0 1107.4 274.0 1108.0C270.0 1108.6 261.0 1110.0 257.0 1110.0C253.0 1110.0 243.0 1109.3 240.0 1108.0C237.0 1106.7 232.3 1101.6 231.0 1099.0C229.7 1096.4 230.2 1088.6 229.0 1086.0C227.8 1083.4 222.8 1078.6 221.0 1077.0C219.2 1075.4 215.9 1073.0 214.0 1072.0C212.1 1071.0 209.1 1068.7 205.0 1068.0C200.9 1067.3 185.1 1066.1 179.0 1066.0C172.9 1065.9 158.0 1066.8 153.0 1067.0C148.0 1067.2 139.2 1067.7 136.0 1068.0C132.8 1068.3 127.9 1068.7 126.0 1070.0C124.1 1071.3 121.3 1076.9 120.0 1079.0C118.7 1081.1 115.9 1087.0 115.0 1088.0C114.1 1089.0 112.3 1095.0 112.0 1088.0C111.7 1081.0 110.1 1034.9 112.0 1028.0Z" fill="#c40000"/>
<path d="M118.0 1034.0C119.8 1029.8 129.3 1039.2 133.0 1040.0C136.7 1040.8 146.3 1040.6 150.0 1040.5C153.7 1040.4 162.0 1039.6 165.0 1039.0C168.0 1038.4 173.4 1034.9 176.0 1035.0C178.6 1035.1 183.6 1039.2 187.0 1040.0C190.4 1040.8 201.4 1041.6 205.0 1041.5C208.6 1041.4 215.6 1039.9 218.0 1039.0C220.4 1038.1 220.9 1034.6 226.0 1034.0C231.1 1033.4 257.3 1033.3 262.0 1034.0C266.7 1034.7 263.4 1039.3 266.0 1040.0C268.6 1040.7 281.0 1040.5 284.0 1040.0C287.0 1039.5 290.4 1036.3 292.0 1036.0C293.6 1035.7 296.5 1036.3 298.0 1037.0C299.5 1037.7 301.9 1041.4 305.0 1042.0C308.1 1042.6 321.5 1042.3 325.0 1042.0C328.5 1041.7 332.1 1039.6 335.0 1039.0C337.9 1038.4 345.3 1037.6 350.0 1037.0C354.7 1036.4 368.0 1034.1 375.0 1034.0C382.0 1033.9 400.0 1036.0 410.0 1036.0C420.0 1036.0 453.3 1033.9 461.0 1034.0C468.7 1034.1 473.1 1036.1 476.0 1037.0C478.9 1037.9 482.7 1041.7 486.0 1042.0C489.3 1042.3 499.8 1040.3 504.0 1040.0C508.2 1039.7 517.9 1038.8 522.0 1039.0C526.1 1039.2 535.0 1042.0 539.0 1042.0C543.0 1042.0 552.1 1038.8 556.0 1039.0C559.9 1039.2 568.5 1042.7 572.0 1044.0C575.5 1045.3 583.0 1049.8 586.0 1050.0C589.0 1050.2 595.2 1047.6 598.0 1046.0C600.8 1044.4 608.4 1036.1 610.0 1036.0C611.6 1035.9 609.9 1043.4 612.0 1045.0C614.1 1046.6 624.1 1050.0 628.0 1050.0C631.9 1050.0 641.3 1045.5 645.0 1045.0C648.7 1044.5 656.4 1044.7 660.0 1046.0C663.6 1047.3 675.3 1053.0 676.0 1056.0C676.7 1059.0 669.0 1068.0 666.0 1072.0C663.0 1076.0 653.4 1086.4 650.0 1090.0C646.6 1093.6 641.1 1102.1 637.0 1103.0C632.9 1103.9 619.5 1100.0 615.0 1098.0C610.5 1096.0 600.9 1089.0 598.0 1086.0C595.1 1083.0 591.4 1070.8 590.0 1072.0C588.6 1073.2 587.8 1092.3 586.0 1096.0C584.2 1099.7 580.4 1103.5 575.0 1104.0C569.6 1104.5 547.0 1100.9 540.0 1100.0C533.0 1099.1 522.0 1096.5 515.0 1096.0C508.0 1095.5 487.4 1095.8 480.0 1096.0C472.6 1096.2 457.8 1098.5 452.0 1098.0C446.2 1097.5 435.5 1092.6 430.0 1092.0C424.5 1091.4 410.2 1093.3 405.0 1093.0C399.8 1092.7 389.6 1089.8 385.0 1089.0C380.4 1088.2 369.9 1085.3 366.0 1086.0C362.1 1086.7 355.0 1093.0 352.0 1095.0C349.0 1097.0 344.0 1102.1 340.0 1103.0C336.0 1103.9 322.7 1103.2 318.0 1103.0C313.3 1102.8 303.3 1101.3 300.0 1101.0C296.7 1100.7 293.3 1099.7 290.0 1100.0C286.7 1100.3 276.0 1103.4 272.0 1104.0C268.0 1104.6 259.5 1105.2 256.0 1105.0C252.5 1104.8 244.3 1103.3 242.0 1102.0C239.7 1100.7 236.9 1096.1 236.0 1094.0C235.1 1091.9 234.9 1086.5 234.0 1084.0C233.1 1081.5 229.6 1074.9 228.0 1073.0C226.4 1071.1 222.7 1069.0 220.0 1068.0C217.3 1067.0 209.7 1064.7 205.0 1064.0C200.3 1063.3 186.2 1062.1 180.0 1062.0C173.8 1061.9 157.6 1062.8 152.0 1063.0C146.4 1063.2 135.5 1063.4 132.0 1064.0C128.5 1064.6 123.6 1066.6 122.0 1068.0C120.4 1069.4 118.5 1080.0 118.0 1076.0C117.5 1072.0 116.2 1038.2 118.0 1034.0Z" fill="#b45ab4"/>
<path d="M676.0 1031.0C679.0 1029.0 693.0 1029.5 702.0 1031.0C711.0 1032.5 719.3 1036.5 730.0 1040.0C740.7 1043.5 759.7 1049.0 766.0 1052.0C772.3 1055.0 770.2 1055.8 768.0 1058.0C765.8 1060.2 761.0 1064.2 753.0 1065.0C745.0 1065.8 728.8 1065.5 720.0 1063.0C711.2 1060.5 706.0 1053.3 700.0 1050.0C694.0 1046.7 688.0 1046.2 684.0 1043.0C680.0 1039.8 673.0 1033.0 676.0 1031.0Z" fill="#b45ab4"/>
<path d="M238.0 1060.0C241.3 1058.3 251.3 1057.0 256.0 1058.0C260.7 1059.0 264.3 1062.7 266.0 1066.0C267.7 1069.3 267.8 1075.7 266.0 1078.0C264.2 1080.3 259.3 1080.0 255.0 1080.0C250.7 1080.0 243.2 1080.0 240.0 1078.0C236.8 1076.0 236.3 1071.0 236.0 1068.0C235.7 1065.0 234.7 1061.7 238.0 1060.0Z" fill="#c40000"/>
<path d="M206.0 1056.0C206.7 1052.7 211.3 1049.3 214.0 1050.0C216.7 1050.7 219.0 1056.3 222.0 1060.0C225.0 1063.7 229.7 1067.3 232.0 1072.0C234.3 1076.7 236.0 1083.7 236.0 1088.0C236.0 1092.3 234.3 1098.3 232.0 1098.0C229.7 1097.7 225.7 1090.7 222.0 1086.0C218.3 1081.3 212.7 1075.0 210.0 1070.0C207.3 1065.0 205.3 1059.3 206.0 1056.0Z" fill="#c40000"/>
<path d="M279.0 1093.0C280.3 1091.3 287.8 1090.8 290.0 1092.0C292.2 1093.2 293.3 1098.3 292.0 1100.0C290.7 1101.7 284.2 1103.2 282.0 1102.0C279.8 1100.8 277.7 1094.7 279.0 1093.0Z" fill="#c40000"/>
<path d="M399.0 1080.0C402.2 1078.2 412.2 1076.7 416.0 1078.0C419.8 1079.3 421.7 1085.0 422.0 1088.0C422.3 1091.0 421.3 1094.7 418.0 1096.0C414.7 1097.3 405.5 1097.2 402.0 1096.0C398.5 1094.8 397.5 1091.7 397.0 1089.0C396.5 1086.3 395.8 1081.8 399.0 1080.0Z" fill="#c40000"/>
<path d="M475.0 1058.0C477.2 1055.5 495.0 1057.0 500.0 1057.0C505.0 1057.0 521.1 1057.3 525.0 1058.0C528.9 1058.7 537.9 1062.4 539.0 1064.0C540.1 1065.6 537.9 1072.7 536.0 1074.0C534.1 1075.3 523.6 1076.6 520.0 1077.0C516.4 1077.4 504.2 1078.0 500.0 1078.0C495.8 1078.0 481.0 1077.2 478.0 1077.0C475.0 1076.8 473.1 1076.2 470.0 1076.0C466.9 1075.8 449.6 1073.6 447.0 1075.0C444.4 1076.4 444.1 1087.9 444.0 1090.0C443.9 1092.1 443.0 1095.4 446.0 1096.0C449.0 1096.6 470.8 1097.4 474.0 1096.0C477.2 1094.6 477.9 1085.8 478.0 1082.0C478.1 1078.2 472.8 1060.5 475.0 1058.0Z" fill="#c40000"/>
<path d="M578.0 1093.0C579.2 1091.7 590.0 1090.8 592.0 1092.0C594.0 1093.2 597.2 1101.5 598.0 1105.0C598.8 1108.5 601.2 1125.5 600.0 1127.0C598.8 1128.5 588.0 1122.2 586.0 1120.0C584.0 1117.8 580.8 1107.7 580.0 1105.0C579.2 1102.3 576.8 1094.3 578.0 1093.0Z" fill="#c40000"/>
<path d="M576.0 1044.0C578.0 1042.7 596.0 1042.7 598.0 1044.0C600.0 1045.3 598.0 1055.7 596.0 1057.0C594.0 1058.3 580.0 1058.3 578.0 1057.0C576.0 1055.7 574.0 1045.3 576.0 1044.0Z" fill="#c40000"/>
<path d="M606.0 1034.0C607.0 1034.0 616.8 1046.4 620.0 1047.0C623.2 1047.6 634.8 1041.5 638.0 1040.0C641.2 1038.5 648.2 1032.8 652.0 1032.0C655.8 1031.2 672.2 1030.6 676.0 1032.0C679.8 1033.4 687.6 1044.0 690.0 1046.0C692.4 1048.0 697.8 1050.4 700.0 1052.0C702.2 1053.6 712.0 1060.0 712.0 1062.0C712.0 1064.0 703.6 1071.2 700.0 1072.0C696.4 1072.8 679.0 1071.2 676.0 1070.0C673.0 1068.8 672.1 1062.4 670.0 1060.0C667.9 1057.6 658.0 1047.4 655.0 1046.0C652.0 1044.6 643.0 1045.5 640.0 1046.0C637.0 1046.5 628.0 1050.9 625.0 1051.0C622.0 1051.1 611.9 1048.7 610.0 1047.0C608.1 1045.3 605.0 1034.0 606.0 1034.0Z" fill="#c40000"/>
<path d="M595.0 1096.0C598.0 1092.0 613.0 1096.7 620.0 1098.0C627.0 1099.3 633.7 1101.5 637.0 1104.0C640.3 1106.5 642.8 1109.5 640.0 1113.0C637.2 1116.5 626.3 1123.5 620.0 1125.0C613.7 1126.5 606.2 1126.8 602.0 1122.0C597.8 1117.2 592.0 1100.0 595.0 1096.0Z" fill="#c40000"/>
<path d="M242.0 1080.0C244.3 1078.5 253.2 1077.3 256.0 1078.0C258.8 1078.7 259.7 1082.3 259.0 1084.0C258.3 1085.7 254.8 1087.5 252.0 1088.0C249.2 1088.5 243.7 1088.3 242.0 1087.0C240.3 1085.7 239.7 1081.5 242.0 1080.0Z" fill="#ffffff"/>
<path d="M452.0 1080.0C456.3 1078.0 466.0 1076.7 470.0 1077.0C474.0 1077.3 475.8 1079.5 476.0 1082.0C476.2 1084.5 476.0 1090.2 471.0 1092.0C466.0 1093.8 450.5 1093.5 446.0 1093.0C441.5 1092.5 443.0 1091.2 444.0 1089.0C445.0 1086.8 447.7 1082.0 452.0 1080.0Z" fill="#ffffff"/>
<path d="M492.0 1064.0C494.7 1062.5 501.0 1062.3 505.0 1062.0C509.0 1061.7 514.8 1060.7 516.0 1062.0C517.2 1063.3 514.7 1068.0 512.0 1070.0C509.3 1072.0 503.8 1073.8 500.0 1074.0C496.2 1074.2 490.3 1072.7 489.0 1071.0C487.7 1069.3 489.3 1065.5 492.0 1064.0Z" fill="#ffffff"/>
<path d="M793.0 1053.0C795.0 1051.2 803.2 1051.8 806.0 1053.0C808.8 1054.2 810.2 1058.0 810.0 1060.0C809.8 1062.0 807.7 1064.3 805.0 1065.0C802.3 1065.7 796.0 1066.0 794.0 1064.0C792.0 1062.0 791.0 1054.8 793.0 1053.0Z" fill="#ffffff"/>
<path d="M113.0 1036.0C117.5 1031.2 129.7 1036.7 140.0 1037.0C150.3 1037.3 164.2 1037.5 175.0 1038.0C185.8 1038.5 198.5 1038.8 205.0 1040.0C211.5 1041.2 212.2 1042.8 214.0 1045.0C215.8 1047.2 216.7 1050.5 216.0 1053.0C215.3 1055.5 214.3 1058.3 210.0 1060.0C205.7 1061.7 200.0 1062.3 190.0 1063.0C180.0 1063.7 160.8 1063.5 150.0 1064.0C139.2 1064.5 131.2 1065.7 125.0 1066.0C118.8 1066.3 115.0 1071.0 113.0 1066.0C111.0 1061.0 108.5 1040.8 113.0 1036.0Z" fill="#ffff00"/>
<path d="M113.0 1038.0C117.5 1034.0 129.7 1038.7 140.0 1039.0C150.3 1039.3 164.5 1039.5 175.0 1040.0C185.5 1040.5 197.2 1040.8 203.0 1042.0C208.8 1043.2 208.7 1045.0 210.0 1047.0C211.3 1049.0 211.8 1052.0 211.0 1054.0C210.2 1056.0 209.3 1057.8 205.0 1059.0C200.7 1060.2 194.2 1060.5 185.0 1061.0C175.8 1061.5 160.0 1061.7 150.0 1062.0C140.0 1062.3 131.2 1062.8 125.0 1063.0C118.8 1063.2 115.0 1067.2 113.0 1063.0C111.0 1058.8 108.5 1042.0 113.0 1038.0Z" fill="#00ff00"/>
<path d="M113.0 1041.0C116.7 1038.7 124.7 1041.8 135.0 1042.0C145.3 1042.2 164.5 1042.0 175.0 1042.5C185.5 1043.0 193.3 1043.6 198.0 1045.0C202.7 1046.4 203.0 1048.8 203.0 1051.0C203.0 1053.2 202.7 1056.5 198.0 1058.0C193.3 1059.5 184.7 1059.6 175.0 1060.0C165.3 1060.4 149.2 1060.8 140.0 1060.5C130.8 1060.2 124.5 1058.8 120.0 1058.0C115.5 1057.2 114.2 1058.8 113.0 1056.0C111.8 1053.2 109.3 1043.3 113.0 1041.0Z" fill="#00b000"/>
<path d="M139.0 1050.0C140.5 1048.4 145.3 1046.2 150.0 1045.5C154.7 1044.8 164.6 1044.9 170.0 1045.5C175.4 1046.1 181.8 1048.6 186.0 1049.5C190.2 1050.4 198.0 1050.8 198.0 1051.5C198.0 1052.2 190.2 1053.0 186.0 1054.0C181.8 1055.0 175.4 1057.1 170.0 1058.0C164.6 1058.9 154.5 1060.3 150.0 1060.0C145.5 1059.7 141.7 1057.5 140.0 1056.0C138.3 1054.5 137.5 1051.6 139.0 1050.0Z" fill="#00ffff"/>
<path d="M143.0 1051.0C144.1 1049.7 148.6 1048.0 152.0 1047.5C155.4 1047.0 162.7 1047.1 166.0 1047.5C169.3 1047.9 172.2 1049.2 174.0 1050.0C175.8 1050.8 178.9 1051.6 178.0 1052.5C177.1 1053.4 171.9 1055.1 168.0 1056.0C164.1 1056.9 155.4 1058.5 152.0 1058.5C148.6 1058.5 146.3 1057.1 145.0 1056.0C143.7 1054.9 141.9 1052.3 143.0 1051.0Z" fill="#ffffff"/>
<path d="M221.0 1043.0C224.0 1041.3 233.2 1040.4 240.0 1040.0C246.8 1039.6 257.3 1039.3 262.0 1040.5C266.7 1041.7 267.7 1044.6 268.0 1047.0C268.3 1049.4 267.3 1053.3 264.0 1055.0C260.7 1056.7 253.3 1056.8 248.0 1057.0C242.7 1057.2 236.3 1057.2 232.0 1056.0C227.7 1054.8 223.8 1052.2 222.0 1050.0C220.2 1047.8 218.0 1044.7 221.0 1043.0Z" fill="#ffff00"/>
<path d="M248.0 1044.0C249.8 1042.9 255.5 1042.0 258.0 1042.5C260.5 1043.0 262.5 1045.3 263.0 1047.0C263.5 1048.7 263.0 1051.5 261.0 1052.5C259.0 1053.5 253.3 1053.6 251.0 1053.0C248.7 1052.4 247.5 1050.5 247.0 1049.0C246.5 1047.5 246.2 1045.1 248.0 1044.0Z" fill="#00ff00"/>
<path d="M306.0 1043.0C309.2 1040.9 312.8 1041.0 320.0 1040.5C327.2 1040.0 349.3 1039.7 360.0 1039.5C370.7 1039.3 389.3 1039.1 400.0 1039.0C410.7 1038.9 432.7 1038.5 440.0 1039.0C447.3 1039.5 453.4 1041.3 455.0 1043.0C456.6 1044.7 454.0 1050.1 452.0 1052.0C450.0 1053.9 444.3 1056.2 440.0 1057.0C435.7 1057.8 425.3 1057.6 420.0 1058.0C414.7 1058.4 405.3 1059.5 400.0 1060.0C394.7 1060.5 386.7 1061.2 380.0 1062.0C373.3 1062.8 356.7 1065.7 350.0 1066.0C343.3 1066.3 334.3 1064.8 330.0 1064.0C325.7 1063.2 320.7 1060.3 318.0 1060.0C315.3 1059.7 312.4 1059.9 310.0 1062.0C307.6 1064.1 302.5 1072.7 300.0 1076.0C297.5 1079.3 293.5 1085.8 291.0 1087.0C288.5 1088.2 282.1 1087.0 281.0 1085.0C279.9 1083.0 281.0 1075.9 283.0 1072.0C285.0 1068.1 292.9 1059.9 296.0 1056.0C299.1 1052.1 302.8 1045.1 306.0 1043.0Z" fill="#ffff00"/>
<path d="M313.0 1045.0C316.7 1042.6 328.8 1043.0 340.0 1042.5C351.2 1042.0 366.7 1042.1 380.0 1042.0C393.3 1041.9 409.8 1041.8 420.0 1042.0C430.2 1042.2 436.8 1041.7 441.0 1043.0C445.2 1044.3 446.8 1048.0 445.0 1050.0C443.2 1052.0 437.5 1053.8 430.0 1055.0C422.5 1056.2 410.0 1056.7 400.0 1057.0C390.0 1057.3 380.0 1056.8 370.0 1057.0C360.0 1057.2 348.7 1058.0 340.0 1058.0C331.3 1058.0 322.5 1059.2 318.0 1057.0C313.5 1054.8 309.3 1047.4 313.0 1045.0Z" fill="#00ff00"/>
<path d="M406.0 1046.0C408.2 1044.6 415.8 1045.2 420.0 1045.5C424.2 1045.8 429.3 1046.6 431.0 1048.0C432.7 1049.4 432.2 1052.7 430.0 1054.0C427.8 1055.3 421.8 1056.0 418.0 1056.0C414.2 1056.0 409.0 1055.7 407.0 1054.0C405.0 1052.3 403.8 1047.4 406.0 1046.0Z" fill="#00b000"/>
<path d="M322.0 1046.0C325.0 1045.0 336.2 1045.3 340.0 1046.0C343.8 1046.7 345.8 1048.7 345.0 1050.0C344.2 1051.3 338.8 1053.7 335.0 1054.0C331.2 1054.3 324.2 1053.3 322.0 1052.0C319.8 1050.7 319.0 1047.0 322.0 1046.0Z" fill="#00b000"/>
<path d="M312.0 1095.0C314.0 1092.2 324.9 1084.5 330.0 1082.0C335.1 1079.5 344.4 1077.9 350.0 1076.0C355.6 1074.1 365.6 1070.4 372.0 1068.0C378.4 1065.6 393.7 1058.7 398.0 1058.0C402.3 1057.3 404.4 1060.7 404.0 1063.0C403.6 1065.3 398.2 1072.6 395.0 1075.0C391.8 1077.4 384.7 1079.7 380.0 1081.0C375.3 1082.3 364.7 1083.5 360.0 1085.0C355.3 1086.5 349.0 1090.0 345.0 1092.0C341.0 1094.0 334.0 1098.5 330.0 1100.0C326.0 1101.5 317.4 1103.7 315.0 1103.0C312.6 1102.3 310.0 1097.8 312.0 1095.0Z" fill="#ffff00"/>
<path d="M373.0 1073.0C375.2 1071.3 381.5 1069.3 385.0 1069.0C388.5 1068.7 392.8 1069.3 394.0 1071.0C395.2 1072.7 394.3 1077.3 392.0 1079.0C389.7 1080.7 383.3 1081.0 380.0 1081.0C376.7 1081.0 373.2 1080.3 372.0 1079.0C370.8 1077.7 370.8 1074.7 373.0 1073.0Z" fill="#00ff00"/>
<path d="M426.0 1062.0C429.0 1060.0 440.3 1059.3 446.0 1060.0C451.7 1060.7 458.3 1063.3 460.0 1066.0C461.7 1068.7 459.3 1074.2 456.0 1076.0C452.7 1077.8 444.7 1077.7 440.0 1077.0C435.3 1076.3 430.3 1074.5 428.0 1072.0C425.7 1069.5 423.0 1064.0 426.0 1062.0Z" fill="#ffff00"/>
<path d="M482.0 1086.0C484.7 1084.2 495.7 1084.5 500.0 1085.0C504.3 1085.5 507.0 1087.2 508.0 1089.0C509.0 1090.8 510.0 1094.8 506.0 1096.0C502.0 1097.2 488.0 1097.7 484.0 1096.0C480.0 1094.3 479.3 1087.8 482.0 1086.0Z" fill="#ffff00"/>
<path d="M259.0 1102.0C258.0 1100.7 261.3 1094.0 263.0 1094.0C264.7 1094.0 269.7 1100.7 269.0 1102.0C268.3 1103.3 260.0 1103.3 259.0 1102.0Z" fill="#ffff00"/>
<path d="M513.0 1044.0C516.5 1042.2 527.2 1041.6 535.0 1041.0C542.8 1040.4 554.2 1039.8 560.0 1040.5C565.8 1041.2 568.2 1042.4 570.0 1045.0C571.8 1047.6 572.7 1053.2 571.0 1056.0C569.3 1058.8 565.2 1060.7 560.0 1061.5C554.8 1062.3 545.8 1061.8 540.0 1061.0C534.2 1060.2 529.3 1058.5 525.0 1057.0C520.7 1055.5 516.0 1054.2 514.0 1052.0C512.0 1049.8 509.5 1045.8 513.0 1044.0Z" fill="#ffff00"/>
<path d="M536.0 1047.0C538.3 1045.1 545.5 1043.0 550.0 1042.5C554.5 1042.0 560.3 1042.6 563.0 1044.0C565.7 1045.4 566.5 1048.5 566.0 1051.0C565.5 1053.5 563.5 1057.7 560.0 1059.0C556.5 1060.3 549.0 1059.8 545.0 1059.0C541.0 1058.2 537.5 1056.0 536.0 1054.0C534.5 1052.0 533.7 1048.9 536.0 1047.0Z" fill="#00ff00"/>
<path d="M543.0 1049.0C543.7 1047.5 549.3 1046.2 552.0 1046.0C554.7 1045.8 558.0 1046.7 559.0 1048.0C560.0 1049.3 559.8 1052.8 558.0 1054.0C556.2 1055.2 550.5 1055.8 548.0 1055.0C545.5 1054.2 542.3 1050.5 543.0 1049.0Z" fill="#00b000"/>
<path d="M526.0 1089.0C526.3 1087.3 529.1 1083.4 532.0 1083.0C534.9 1082.6 544.0 1086.0 548.0 1086.0C552.0 1086.0 559.6 1084.9 562.0 1083.0C564.4 1081.1 564.5 1074.3 566.0 1072.0C567.5 1069.7 571.3 1066.0 573.0 1066.0C574.7 1066.0 578.2 1069.1 579.0 1072.0C579.8 1074.9 580.2 1084.7 579.0 1088.0C577.8 1091.3 574.5 1095.7 570.0 1097.0C565.5 1098.3 550.3 1098.1 545.0 1098.0C539.7 1097.9 532.5 1097.2 530.0 1096.0C527.5 1094.8 525.7 1090.7 526.0 1089.0Z" fill="#ffff00"/>
<path d="M689.0 1031.0C689.3 1029.5 694.5 1029.8 697.0 1031.0C699.5 1032.2 703.2 1036.2 704.0 1038.0C704.8 1039.8 703.5 1041.7 702.0 1042.0C700.5 1042.3 697.2 1041.8 695.0 1040.0C692.8 1038.2 688.7 1032.5 689.0 1031.0Z" fill="#ffff00"/>
<path d="M731.0 1055.0C730.8 1054.5 735.0 1053.7 736.0 1054.0C737.0 1054.3 737.8 1056.8 737.0 1057.0C736.2 1057.2 731.2 1055.5 731.0 1055.0Z" fill="#ffff00"/>
<path d="M799.5 1040.0C799.5 1040.8 799.1 1041.9 798.5 1042.5C797.9 1043.1 796.8 1043.5 796.0 1043.5C795.2 1043.5 794.1 1043.1 793.5 1042.5C792.9 1041.9 792.5 1040.8 792.5 1040.0C792.5 1039.2 792.9 1038.1 793.5 1037.5C794.1 1036.9 795.2 1036.5 796.0 1036.5C796.8 1036.5 797.9 1036.9 798.5 1037.5C799.1 1038.1 799.5 1039.2 799.5 1040.0Z" fill="#b45ab4"/>
<path d="M787.0 1087.0C787.0 1088.4 786.1 1090.2 784.9 1091.2C783.8 1092.2 781.6 1093.0 780.0 1093.0C778.4 1093.0 776.2 1092.2 775.1 1091.2C773.9 1090.2 773.0 1088.4 773.0 1087.0C773.0 1085.6 773.9 1083.8 775.1 1082.8C776.2 1081.8 778.4 1081.0 780.0 1081.0C781.6 1081.0 783.8 1081.8 784.9 1082.8C786.1 1083.8 787.0 1085.6 787.0 1087.0Z" fill="#b45ab4"/>
<path d="M678.0 1101.0C679.7 1098.5 688.2 1097.5 693.0 1099.0C697.8 1100.5 701.7 1109.0 707.0 1110.0C712.3 1111.0 718.0 1106.7 725.0 1105.0C732.0 1103.3 742.3 1099.3 749.0 1100.0C755.7 1100.7 762.7 1106.0 765.0 1109.0C767.3 1112.0 765.7 1114.8 763.0 1118.0C760.3 1121.2 753.0 1124.8 749.0 1128.0C745.0 1131.2 743.7 1137.0 739.0 1137.0C734.3 1137.0 728.0 1130.7 721.0 1128.0C714.0 1125.3 703.3 1123.3 697.0 1121.0C690.7 1118.7 686.2 1117.3 683.0 1114.0C679.8 1110.7 676.3 1103.5 678.0 1101.0Z" fill="#c40000"/>
<path d="M879.0 1029.0C883.3 1027.7 905.0 1026.8 911.0 1029.0C917.0 1031.2 915.2 1038.8 915.0 1042.0C914.8 1045.2 913.0 1048.2 910.0 1048.5C907.0 1048.8 901.2 1045.9 897.0 1044.0C892.8 1042.1 888.0 1039.5 885.0 1037.0C882.0 1034.5 874.7 1030.3 879.0 1029.0Z" fill="#c40000"/>
<path d="M938.0 1029.0C948.0 1028.0 994.5 1027.5 1007.0 1029.0C1019.5 1030.5 1014.3 1035.5 1013.0 1038.0C1011.7 1040.5 1004.3 1043.0 999.0 1044.0C993.7 1045.0 986.8 1045.2 981.0 1044.0C975.2 1042.8 969.7 1038.5 964.0 1037.0C958.3 1035.5 951.3 1036.3 947.0 1035.0C942.7 1033.7 928.0 1030.0 938.0 1029.0Z" fill="#c40000"/>
<path d="M961.6 1064.5C961.6 1064.8 961.2 1065.3 960.7 1065.5C960.2 1065.7 959.3 1065.9 958.6 1065.9C957.9 1065.9 957.0 1065.7 956.5 1065.5C956.0 1065.3 955.6 1064.8 955.6 1064.5C955.6 1064.2 956.0 1063.7 956.5 1063.5C957.0 1063.3 957.9 1063.1 958.6 1063.1C959.3 1063.1 960.2 1063.3 960.7 1063.5C961.2 1063.7 961.6 1064.2 961.6 1064.5Z" fill="#c40000"/>
<path d="M99.8 1158.0C99.8 1158.8 98.9 1159.9 97.7 1160.5C96.6 1161.1 94.4 1161.6 92.8 1161.6C91.2 1161.6 89.0 1161.1 87.9 1160.5C86.7 1159.9 85.8 1158.8 85.8 1158.0C85.8 1157.2 86.7 1156.1 87.9 1155.5C89.0 1154.9 91.2 1154.4 92.8 1154.4C94.4 1154.4 96.6 1154.9 97.7 1155.5C98.9 1156.1 99.8 1157.2 99.8 1158.0Z" fill="#c40000"/>
<path d="M129.0 1157.0C132.3 1155.0 142.0 1153.8 146.0 1155.0C150.0 1156.2 152.8 1160.5 153.0 1164.0C153.2 1167.5 152.7 1173.8 147.0 1176.0C141.3 1178.2 124.3 1177.3 119.0 1177.0C113.7 1176.7 113.8 1175.7 115.0 1174.0C116.2 1172.3 123.7 1169.8 126.0 1167.0C128.3 1164.2 125.7 1159.0 129.0 1157.0Z" fill="#c40000"/>
<path d="M196.6 1135.3C198.9 1134.3 206.3 1131.9 212.0 1131.8C217.7 1131.7 228.3 1133.1 231.0 1134.6C233.7 1136.1 230.6 1140.2 228.0 1140.8C225.4 1141.4 220.6 1138.5 215.6 1138.0C210.6 1137.5 201.2 1138.0 198.0 1137.5C194.8 1137.0 194.3 1136.2 196.6 1135.3Z" fill="#c40000"/>
<path d="M262.0 1134.6C265.6 1131.9 288.7 1127.2 295.0 1127.0C301.3 1126.8 311.6 1132.5 316.0 1132.8C320.4 1133.1 324.1 1129.7 333.0 1129.4C341.9 1129.1 383.3 1129.4 392.0 1130.4C400.7 1131.4 406.3 1136.1 407.5 1138.0C408.7 1139.9 404.2 1145.5 402.0 1146.7C399.8 1147.9 393.3 1148.0 388.5 1148.4C383.7 1148.8 365.0 1149.3 361.0 1150.1C357.0 1150.9 357.6 1155.5 354.0 1155.3C350.4 1155.1 334.9 1149.8 330.0 1148.4C325.1 1147.0 317.7 1143.8 312.0 1143.2C306.3 1142.6 286.6 1142.4 281.0 1143.2C275.4 1144.0 266.2 1151.1 264.0 1150.1C261.8 1149.1 258.4 1137.3 262.0 1134.6Z" fill="#c40000"/>
<path d="M336.0 1134.0C339.3 1132.7 351.8 1133.0 360.0 1133.0C368.2 1133.0 382.5 1132.8 385.0 1134.0C387.5 1135.2 380.0 1138.5 375.0 1140.0C370.0 1141.5 360.8 1142.8 355.0 1143.0C349.2 1143.2 343.2 1142.5 340.0 1141.0C336.8 1139.5 332.7 1135.3 336.0 1134.0Z" fill="#b45ab4"/>
<path d="M338.0 1169.0C337.0 1167.6 342.0 1160.5 344.0 1160.5C346.0 1160.5 351.0 1167.6 350.0 1169.0C349.0 1170.4 339.0 1170.4 338.0 1169.0Z" fill="#c40000"/>
<path d="M426.5 1136.3C428.1 1133.6 432.9 1133.9 437.0 1134.6C441.1 1135.3 451.2 1138.8 457.6 1141.5C464.0 1144.2 479.7 1152.3 485.0 1155.0C490.3 1157.7 496.0 1160.1 497.4 1162.0C498.8 1163.9 501.0 1167.8 495.7 1169.0C490.4 1170.2 465.4 1171.4 457.6 1171.0C449.8 1170.6 441.3 1168.1 437.0 1166.0C432.7 1163.9 426.4 1159.0 425.0 1155.0C423.6 1151.0 424.9 1139.0 426.5 1136.3Z" fill="#c40000"/>
<path d="M525.0 1128.0C526.7 1126.5 534.5 1124.2 540.0 1124.0C545.5 1123.8 554.5 1125.5 558.0 1127.0C561.5 1128.5 562.3 1131.5 561.0 1133.0C559.7 1134.5 555.2 1136.0 550.0 1136.0C544.8 1136.0 534.2 1134.3 530.0 1133.0C525.8 1131.7 523.3 1129.5 525.0 1128.0Z" fill="#c40000"/>
<path d="M526.0 1126.0C527.7 1124.4 534.0 1123.3 540.0 1123.5C546.0 1123.7 558.7 1124.9 562.0 1127.0C565.3 1129.1 562.3 1134.3 560.0 1136.0C557.7 1137.7 553.0 1137.5 548.0 1137.0C543.0 1136.5 533.7 1134.8 530.0 1133.0C526.3 1131.2 524.3 1127.6 526.0 1126.0Z" fill="#c40000"/>
<path d="M840.6 1180.0C840.6 1177.3 842.6 1171.0 845.8 1168.0C849.0 1165.0 856.1 1162.3 859.6 1162.3C863.1 1162.3 867.1 1165.5 866.5 1168.0C865.9 1170.5 859.4 1174.3 856.0 1177.0C852.6 1179.7 848.6 1183.5 846.0 1184.0C843.4 1184.5 840.6 1182.7 840.6 1180.0Z" fill="#c40000"/>
<path d="M923.1 1186.3C923.1 1189.0 922.2 1192.3 920.7 1194.5C919.3 1196.7 916.8 1198.8 914.5 1199.6C912.1 1200.5 909.1 1200.5 906.7 1199.6C904.4 1198.8 901.9 1196.7 900.5 1194.5C899.0 1192.3 898.1 1189.0 898.1 1186.3C898.1 1183.6 899.0 1180.3 900.5 1178.1C901.9 1175.9 904.4 1173.8 906.7 1173.0C909.1 1172.1 912.1 1172.1 914.5 1173.0C916.8 1173.8 919.3 1175.9 920.7 1178.1C922.2 1180.3 923.1 1183.6 923.1 1186.3Z" fill="#c40000"/>
<path d="M914.6 1187.0C914.6 1188.2 914.1 1189.7 913.4 1190.5C912.8 1191.4 911.5 1192.0 910.6 1192.0C909.7 1192.0 908.4 1191.4 907.8 1190.5C907.1 1189.7 906.6 1188.2 906.6 1187.0C906.6 1185.8 907.1 1184.3 907.8 1183.5C908.4 1182.6 909.7 1182.0 910.6 1182.0C911.5 1182.0 912.8 1182.6 913.4 1183.5C914.1 1184.3 914.6 1185.8 914.6 1187.0Z" fill="#b45ab4"/>
<path d="M951.0 1197.0C951.0 1197.4 950.6 1198.1 950.2 1198.3C949.9 1198.5 949.1 1198.5 948.8 1198.3C948.4 1198.1 948.0 1197.4 948.0 1197.0C948.0 1196.6 948.4 1195.9 948.8 1195.7C949.1 1195.5 949.9 1195.5 950.2 1195.7C950.6 1195.9 951.0 1196.6 951.0 1197.0Z" fill="#c40000"/>
<path d="M-3.0 948.0 116.0 948.0 116.0 950.0 102.0 952.0 96.0 956.0 91.0 965.0 84.0 973.0 72.0 976.0 60.0 972.0 52.0 964.0 45.0 958.0 20.0 956.5 -3.0 956.0Z" fill="#00ffff"/>
<path d="M-3.0 956.0 20.0 956.5 45.0 958.0 52.0 964.0 60.0 972.0 72.0 976.0 84.0 973.0 91.0 965.0 96.0 956.0 102.0 952.0 116.0 950.0 116.0 955.0 103.0 957.0 97.0 962.0 92.0 972.0 85.0 978.0 72.0 981.0 60.0 977.5 50.0 970.0 42.0 963.0 20.0 961.5 -3.0 961.0Z" fill="#00b000"/>
<path d="M-3.0 961.0 20.0 961.5 42.0 963.0 50.0 970.0 60.0 977.5 72.0 981.0 85.0 978.0 92.0 972.0 97.0 962.0 103.0 957.0 116.0 955.0 116.0 1004.0 100.0 990.0 88.0 984.0 70.0 983.0 50.0 977.0 34.0 968.0 20.0 967.5 -3.0 967.0Z" fill="#ffff00"/>
<path d="M90.0 962.0C91.0 957.0 93.7 957.3 98.0 956.0C102.3 954.7 113.0 945.7 116.0 954.0C119.0 962.3 118.0 999.3 116.0 1006.0C114.0 1012.7 108.0 997.3 104.0 994.0C100.0 990.7 94.3 991.3 92.0 986.0C89.7 980.7 89.0 967.0 90.0 962.0Z" fill="#ffff00"/>
<path d="M101.0 988.0C101.3 985.5 105.5 985.0 108.0 985.0C110.5 985.0 114.7 984.2 116.0 988.0C117.3 991.8 117.7 1006.0 116.0 1008.0C114.3 1010.0 108.5 1003.3 106.0 1000.0C103.5 996.7 100.7 990.5 101.0 988.0Z" fill="#00b000"/>
<path d="M112.0 963.0C112.0 964.8 111.2 967.1 110.2 968.3C109.2 969.6 107.4 970.5 106.0 970.5C104.6 970.5 102.8 969.6 101.8 968.3C100.8 967.1 100.0 964.8 100.0 963.0C100.0 961.2 100.8 958.9 101.8 957.7C102.8 956.4 104.6 955.5 106.0 955.5C107.4 955.5 109.2 956.4 110.2 957.7C111.2 958.9 112.0 961.2 112.0 963.0Z" fill="#b45ab4"/>
<path d="M-3.0 967.0 20.0 967.5 34.0 968.0 50.0 977.0 70.0 983.0 88.0 984.0 100.0 990.0 116.0 1004.0 116.0 1011.0 100.0 998.0 88.0 989.0 70.0 988.0 50.0 983.0 34.0 975.0 20.0 975.5 -3.0 976.0Z" fill="#b45ab4"/>
<path d="M-3.0 976.0 20.0 975.5 34.0 975.0 50.0 983.0 70.0 988.0 88.0 989.0 100.0 998.0 116.0 1011.0 116.0 1026.0 98.0 1020.5 83.0 1019.0 62.0 1015.5 36.0 1014.0 20.0 1013.5 -3.0 1013.0Z" fill="#c40000"/>
<path d="M36.0 984.6C37.1 982.0 45.9 984.0 47.5 984.6C49.1 985.2 49.5 990.1 51.7 990.8C54.0 991.5 66.4 991.8 70.0 992.0C73.6 992.2 85.1 991.3 88.0 993.0C90.9 994.7 97.0 1006.5 99.0 1009.0C101.0 1011.5 108.6 1017.7 108.5 1018.5C108.4 1019.3 100.5 1017.6 98.0 1017.3C95.5 1017.0 86.6 1016.3 83.0 1015.8C79.4 1015.3 66.7 1012.8 62.0 1012.3C57.3 1011.8 38.6 1013.8 36.0 1011.0C33.4 1008.2 34.9 987.2 36.0 984.6Z" fill="#ffffff"/>
<path d="M3.0 990.0C6.0 989.0 19.5 988.8 22.0 990.0C24.5 991.2 19.7 995.5 18.0 997.0C16.3 998.5 14.3 999.2 12.0 999.0C9.7 998.8 5.5 997.5 4.0 996.0C2.5 994.5 0.0 991.0 3.0 990.0Z" fill="#ffffff"/>
<path d="M12.0 950.0C14.0 949.5 22.3 949.5 24.0 950.0C25.7 950.5 24.0 952.5 22.0 953.0C20.0 953.5 13.7 953.5 12.0 953.0C10.3 952.5 10.0 950.5 12.0 950.0Z" fill="#ffffff"/>
<path d="M56.0 951.0C61.2 949.9 90.7 949.0 95.0 951.0C99.3 953.0 91.1 963.2 88.0 966.0C84.9 968.8 75.7 971.9 72.0 972.0C68.3 972.1 62.1 968.7 60.0 967.0C57.9 965.3 56.5 961.1 56.0 959.0C55.5 956.9 50.8 952.1 56.0 951.0Z" fill="#ffffff"/>
<path d="M-3 1030H116V1072H-3Z" fill="#00b000"/>
<path d="M-3.0 1013.0 20.0 1013.5 36.0 1014.0 62.0 1015.5 83.0 1019.0 98.0 1020.5 116.0 1026.0 116.0 1029.0 98.0 1023.5 83.0 1022.0 62.0 1018.5 36.0 1017.0 20.0 1016.5 -3.0 1016.0Z" fill="#b45ab4"/>
<path d="M-3.0 1016.0 20.0 1016.5 36.0 1017.0 62.0 1018.5 83.0 1022.0 98.0 1023.5 116.0 1029.0 116.0 1031.0 98.0 1025.5 83.0 1024.0 62.0 1020.5 36.0 1019.0 20.0 1018.5 -3.0 1018.0Z" fill="#ffff00"/>
<path d="M-3.0 1018.0 20.0 1018.5 36.0 1019.0 62.0 1020.5 83.0 1024.0 98.0 1025.5 116.0 1031.0 116.0 1036.0 98.0 1030.5 83.0 1029.0 62.0 1025.5 36.0 1024.0 20.0 1023.5 -3.0 1023.0Z" fill="#00b000"/>
<path d="M-3.0 1070.0 15.0 1067.0 29.0 1064.0 41.0 1074.0 55.0 1074.5 72.0 1071.0 95.0 1065.0 116.0 1060.0 116.0 1062.5 95.0 1067.5 72.0 1073.5 55.0 1077.0 41.0 1076.5 29.0 1066.5 15.0 1069.5 -3.0 1072.5Z" fill="#ffff00"/>
<path d="M-3.0 1072.5 15.0 1069.5 29.0 1066.5 41.0 1076.5 55.0 1077.0 72.0 1073.5 95.0 1067.5 116.0 1062.5 116.0 1064.5 95.0 1069.5 72.0 1075.5 55.0 1079.0 41.0 1078.5 29.0 1068.5 15.0 1071.5 -3.0 1074.5Z" fill="#b45ab4"/>
<path d="M-3.0 1074.5 15.0 1071.5 29.0 1068.5 41.0 1078.5 55.0 1079.0 72.0 1075.5 95.0 1069.5 116.0 1064.5 116.0 1068.0 95.0 1073.0 72.0 1079.0 55.0 1082.5 41.0 1082.0 29.0 1072.0 15.0 1075.0 -3.0 1078.0Z" fill="#c40000"/>
<path d="M-3.0 1078.0 15.0 1075.0 29.0 1072.0 41.0 1082.0 55.0 1082.5 72.0 1079.0 95.0 1073.0 116.0 1068.0 116.0 1086.0 -3.0 1086.0Z" fill="#ffffff"/>
<path d="M-3.0 1028.0C0.8 1024.2 23.1 1027.4 30.0 1027.5C36.9 1027.6 50.2 1028.5 56.0 1029.0C61.8 1029.5 75.7 1031.2 80.0 1032.0C84.3 1032.8 90.3 1034.5 93.0 1036.0C95.7 1037.5 102.4 1042.5 103.0 1045.0C103.6 1047.5 101.6 1055.4 98.0 1057.0C94.4 1058.6 76.0 1059.9 72.0 1059.0C68.0 1058.1 66.1 1050.5 64.0 1049.0C61.9 1047.5 56.7 1046.3 54.0 1046.0C51.3 1045.7 45.0 1045.3 41.0 1046.0C37.0 1046.7 23.9 1050.4 20.0 1052.0C16.1 1053.6 10.7 1059.1 8.0 1060.0C5.3 1060.9 -1.7 1063.7 -3.0 1060.0C-4.3 1056.3 -6.8 1031.8 -3.0 1028.0Z" fill="#ffffff" stroke="#00ffff" stroke-width="6" stroke-linejoin="round"/>
<path d="M-3.0 1043.0C-1.8 1039.2 2.3 1043.2 4.0 1046.0C5.7 1048.8 6.8 1056.2 7.0 1060.0C7.2 1063.8 6.7 1067.5 5.0 1069.0C3.3 1070.5 -1.7 1073.3 -3.0 1069.0C-4.3 1064.7 -4.2 1046.8 -3.0 1043.0Z" fill="#00ffff"/>
<path d="M46.0 1050.0C48.3 1048.3 56.5 1047.2 60.0 1048.0C63.5 1048.8 66.3 1052.0 67.0 1055.0C67.7 1058.0 66.5 1064.0 64.0 1066.0C61.5 1068.0 55.0 1068.3 52.0 1067.0C49.0 1065.7 47.0 1060.8 46.0 1058.0C45.0 1055.2 43.7 1051.7 46.0 1050.0Z" fill="#009a40"/>
<path d="M-3.0 945.5C16.8 945.5 96.2 945.5 116.0 945.5" fill="none" stroke="#c40000" stroke-width="1.6" stroke-linecap="round" stroke-linejoin="round"/>
<path d="M-3.0 947.0C16.8 947.0 96.2 947.0 116.0 947.0" fill="none" stroke="#b45ab4" stroke-width="1.4" stroke-linecap="round" stroke-linejoin="round"/>
<path d="M113.0 945.2C192.8 945.2 512.2 945.2 592.0 945.2" fill="none" stroke="#c40000" stroke-width="1.0" stroke-linecap="round" stroke-linejoin="round"/>
<path d="M113.0 946.6C192.8 946.6 512.2 946.6 592.0 946.6" fill="none" stroke="#b45ab4" stroke-width="0.9" stroke-linecap="round" stroke-linejoin="round"/>
<path d="M113.0 948.0C192.8 948.0 512.2 948.0 592.0 948.0" fill="none" stroke="#00b000" stroke-width="1.1" stroke-linecap="round" stroke-linejoin="round"/>
<path d="M113.0 950.5C192.8 950.5 512.2 950.5 592.0 950.5" fill="none" stroke="#00ffff" stroke-width="1.3" stroke-linecap="round" stroke-linejoin="round"/>
<path d="M421.0 951.0C423.3 950.3 433.3 950.8 440.0 951.0C446.7 951.2 459.0 951.2 461.0 952.0C463.0 952.8 455.8 955.0 452.0 956.0C448.2 957.0 442.3 958.2 438.0 958.0C433.7 957.8 428.8 956.2 426.0 955.0C423.2 953.8 418.7 951.7 421.0 951.0Z" fill="#00ffff"/>
<path d="M483.0 951.0C486.7 949.8 505.3 949.8 509.0 951.0C512.7 952.2 507.2 956.2 505.0 958.0C502.8 959.8 499.0 962.0 496.0 962.0C493.0 962.0 489.2 959.8 487.0 958.0C484.8 956.2 479.3 952.2 483.0 951.0Z" fill="#00ffff"/>
<path d="M541.0 951.0C543.5 950.2 557.5 950.3 560.0 951.0C562.5 951.7 558.5 954.2 556.0 955.0C553.5 955.8 547.5 956.7 545.0 956.0C542.5 955.3 538.5 951.8 541.0 951.0Z" fill="#00ffff"/>
<path d="M163.0 965.5C163.0 966.4 162.4 967.7 161.5 968.3C160.7 969.0 159.2 969.5 158.0 969.5C156.8 969.5 155.3 969.0 154.5 968.3C153.6 967.7 153.0 966.4 153.0 965.5C153.0 964.6 153.6 963.3 154.5 962.7C155.3 962.0 156.8 961.5 158.0 961.5C159.2 961.5 160.7 962.0 161.5 962.7C162.4 963.3 163.0 964.6 163.0 965.5Z" fill="#00ffff"/>
<path d="M379.0 971.5C379.0 972.8 378.1 974.5 376.9 975.4C375.8 976.3 373.6 977.0 372.0 977.0C370.4 977.0 368.2 976.3 367.1 975.4C365.9 974.5 365.0 972.8 365.0 971.5C365.0 970.2 365.9 968.5 367.1 967.6C368.2 966.7 370.4 966.0 372.0 966.0C373.6 966.0 375.8 966.7 376.9 967.6C378.1 968.5 379.0 970.2 379.0 971.5Z" fill="#00ffff"/>
<path d="M113.0 950.0C113.8 940.3 116.5 949.5 118.0 952.0C119.5 954.5 121.5 958.7 122.0 965.0C122.5 971.3 121.7 983.3 121.0 990.0C120.3 996.7 119.3 1001.7 118.0 1005.0C116.7 1008.3 113.8 1019.2 113.0 1010.0C112.2 1000.8 112.2 959.7 113.0 950.0Z" fill="#00b000"/>
<path d="M113.0 950.0C113.3 941.2 114.3 950.5 115.0 953.0C115.7 955.5 116.8 958.8 117.0 965.0C117.2 971.2 116.3 983.7 116.0 990.0C115.7 996.3 115.5 1000.3 115.0 1003.0C114.5 1005.7 113.3 1014.8 113.0 1006.0C112.7 997.2 112.7 958.8 113.0 950.0Z" fill="#00ff00"/>
<path d="M121.0 952.0C121.5 955.0 123.7 962.8 124.0 970.0C124.3 977.2 123.7 988.7 123.0 995.0C122.3 1001.3 120.5 1005.8 120.0 1008.0" fill="none" stroke="#00ffff" stroke-width="2.5" stroke-linecap="round" stroke-linejoin="round"/>
<path d="M118.0 1011.0C131.7 1011.2 169.7 1011.7 200.0 1012.0C230.3 1012.3 258.3 1012.8 300.0 1013.0C341.7 1013.2 406.7 1013.3 450.0 1013.5C493.3 1013.7 539.2 1014.6 560.0 1014.0C580.8 1013.4 571.7 1013.2 575.0 1010.0C578.3 1006.8 578.2 1000.0 580.0 995.0C581.8 990.0 584.3 982.8 586.0 980.0C587.7 977.2 589.3 978.3 590.0 978.0" fill="none" stroke="#00ffff" stroke-width="3.0" stroke-linecap="round" stroke-linejoin="round"/>
<path d="M116.0 1015.0C130.0 1015.2 169.3 1015.7 200.0 1016.0C230.7 1016.3 258.3 1016.8 300.0 1017.0C341.7 1017.2 406.7 1017.3 450.0 1017.5C493.3 1017.7 538.7 1018.8 560.0 1018.0C581.3 1017.2 574.0 1016.3 578.0 1013.0C582.0 1009.7 582.2 1002.7 584.0 998.0C585.8 993.3 587.7 987.7 589.0 985.0C590.3 982.3 591.5 982.5 592.0 982.0" fill="none" stroke="#00b000" stroke-width="4.0" stroke-linecap="round" stroke-linejoin="round"/>
<path d="M114.0 1019.5C128.3 1019.6 169.0 1019.8 200.0 1020.0C231.0 1020.2 258.3 1020.8 300.0 1021.0C341.7 1021.2 405.8 1021.4 450.0 1021.5C494.2 1021.6 543.0 1022.4 565.0 1021.5C587.0 1020.6 577.8 1019.6 582.0 1016.0C586.2 1012.4 588.7 1002.7 590.0 1000.0" fill="none" stroke="#ffff00" stroke-width="2.0" stroke-linecap="round" stroke-linejoin="round"/>
<path d="M113.0 1022.5C127.5 1022.6 168.8 1022.8 200.0 1023.0C231.2 1023.2 258.3 1023.3 300.0 1023.5C341.7 1023.7 405.3 1023.9 450.0 1024.0C494.7 1024.1 545.3 1024.8 568.0 1024.0C590.7 1023.2 582.0 1022.2 586.0 1019.0C590.0 1015.8 591.0 1007.3 592.0 1005.0" fill="none" stroke="#b45ab4" stroke-width="3.0" stroke-linecap="round" stroke-linejoin="round"/>
<path d="M113.0 1026.2C144.2 1026.2 223.8 1026.5 300.0 1026.5C376.2 1026.5 521.3 1026.9 570.0 1026.5C618.7 1026.1 588.3 1024.4 592.0 1024.0" fill="none" stroke="#c40000" stroke-width="3.0" stroke-linecap="round" stroke-linejoin="round"/>
<path d="M592.0 992.0C592.0 993.6 591.5 995.8 590.8 996.9C590.2 998.1 588.9 999.0 588.0 999.0C587.1 999.0 585.8 998.1 585.2 996.9C584.5 995.8 584.0 993.6 584.0 992.0C584.0 990.4 584.5 988.2 585.2 987.1C585.8 985.9 587.1 985.0 588.0 985.0C588.9 985.0 590.2 985.9 590.8 987.1C591.5 988.2 592.0 990.4 592.0 992.0Z" fill="#b45ab4"/>
<path d="M592.0 945.2C695.5 945.2 1109.5 945.2 1213.0 945.2" fill="none" stroke="#c40000" stroke-width="1.0" stroke-linecap="round" stroke-linejoin="round"/>
<path d="M592.0 946.6C695.5 946.6 1109.5 946.6 1213.0 946.6" fill="none" stroke="#b45ab4" stroke-width="0.9" stroke-linecap="round" stroke-linejoin="round"/>
<path d="M592.0 948.2C695.5 948.2 1109.5 948.2 1213.0 948.2" fill="none" stroke="#00b000" stroke-width="1.1" stroke-linecap="round" stroke-linejoin="round"/>
<path d="M592.0 950.0C610.0 950.0 672.0 949.8 700.0 950.0C728.0 950.2 726.7 950.9 760.0 951.0C793.3 951.1 824.5 950.7 900.0 950.5C975.5 950.3 1160.8 950.1 1213.0 950.0" fill="none" stroke="#00ffff" stroke-width="1.2" stroke-linecap="round" stroke-linejoin="round"/>
<path d="M594.0 997.0C598.3 997.2 610.7 997.9 620.0 998.0C629.3 998.1 636.7 997.5 650.0 997.5C663.3 997.5 683.3 997.8 700.0 998.0C716.7 998.2 733.3 998.8 750.0 999.0C766.7 999.2 783.3 999.1 800.0 999.0C816.7 998.9 833.3 998.5 850.0 998.5C866.7 998.5 883.3 998.8 900.0 999.0C916.7 999.2 933.3 999.3 950.0 999.5C966.7 999.7 983.3 999.9 1000.0 1000.0C1016.7 1000.1 1033.3 999.8 1050.0 1000.0C1066.7 1000.2 1086.7 1000.2 1100.0 1001.0C1113.3 1001.8 1123.2 1003.0 1130.0 1005.0C1136.8 1007.0 1136.8 1012.5 1141.0 1013.0C1145.2 1013.5 1149.7 1010.3 1155.0 1008.0C1160.3 1005.7 1166.3 1000.8 1173.0 999.0C1179.7 997.2 1188.3 997.7 1195.0 997.0C1201.7 996.3 1210.0 995.3 1213.0 995.0" fill="none" stroke="#00ffff" stroke-width="3.0" stroke-linecap="round" stroke-linejoin="round"/>
<path d="M594.0 1000.0C598.3 1000.2 610.7 1000.9 620.0 1001.0C629.3 1001.1 636.7 1000.5 650.0 1000.5C663.3 1000.5 683.3 1000.8 700.0 1001.0C716.7 1001.2 733.3 1001.8 750.0 1002.0C766.7 1002.2 783.3 1002.1 800.0 1002.0C816.7 1001.9 833.3 1001.5 850.0 1001.5C866.7 1001.5 883.3 1001.8 900.0 1002.0C916.7 1002.2 933.3 1002.3 950.0 1002.5C966.7 1002.7 983.3 1002.9 1000.0 1003.0C1016.7 1003.1 1033.3 1002.8 1050.0 1003.0C1066.7 1003.2 1086.7 1003.2 1100.0 1004.0C1113.3 1004.8 1123.2 1006.0 1130.0 1008.0C1136.8 1010.0 1136.8 1015.5 1141.0 1016.0C1145.2 1016.5 1149.7 1013.3 1155.0 1011.0C1160.3 1008.7 1166.3 1003.8 1173.0 1002.0C1179.7 1000.2 1188.3 1000.7 1195.0 1000.0C1201.7 999.3 1210.0 998.3 1213.0 998.0" fill="none" stroke="#00b000" stroke-width="4.0" stroke-linecap="round" stroke-linejoin="round"/>
<path d="M594.0 1003.0C598.3 1003.2 610.7 1003.9 620.0 1004.0C629.3 1004.1 636.7 1003.5 650.0 1003.5C663.3 1003.5 683.3 1003.8 700.0 1004.0C716.7 1004.2 733.3 1004.8 750.0 1005.0C766.7 1005.2 783.3 1005.1 800.0 1005.0C816.7 1004.9 833.3 1004.5 850.0 1004.5C866.7 1004.5 883.3 1004.8 900.0 1005.0C916.7 1005.2 933.3 1005.3 950.0 1005.5C966.7 1005.7 983.3 1005.9 1000.0 1006.0C1016.7 1006.1 1033.3 1005.8 1050.0 1006.0C1066.7 1006.2 1086.7 1006.2 1100.0 1007.0C1113.3 1007.8 1123.2 1009.0 1130.0 1011.0C1136.8 1013.0 1136.8 1018.5 1141.0 1019.0C1145.2 1019.5 1149.7 1016.3 1155.0 1014.0C1160.3 1011.7 1166.3 1006.8 1173.0 1005.0C1179.7 1003.2 1188.3 1003.7 1195.0 1003.0C1201.7 1002.3 1210.0 1001.3 1213.0 1001.0" fill="none" stroke="#ffff00" stroke-width="2.0" stroke-linecap="round" stroke-linejoin="round"/>
<path d="M594.0 1005.0C598.3 1005.2 610.7 1005.9 620.0 1006.0C629.3 1006.1 636.7 1005.5 650.0 1005.5C663.3 1005.5 683.3 1005.8 700.0 1006.0C716.7 1006.2 733.3 1006.8 750.0 1007.0C766.7 1007.2 783.3 1007.1 800.0 1007.0C816.7 1006.9 833.3 1006.5 850.0 1006.5C866.7 1006.5 883.3 1006.8 900.0 1007.0C916.7 1007.2 933.3 1007.3 950.0 1007.5C966.7 1007.7 983.3 1007.9 1000.0 1008.0C1016.7 1008.1 1033.3 1007.8 1050.0 1008.0C1066.7 1008.2 1086.7 1008.2 1100.0 1009.0C1113.3 1009.8 1123.2 1011.0 1130.0 1013.0C1136.8 1015.0 1136.8 1020.5 1141.0 1021.0C1145.2 1021.5 1149.7 1018.3 1155.0 1016.0C1160.3 1013.7 1166.3 1008.8 1173.0 1007.0C1179.7 1005.2 1188.3 1005.7 1195.0 1005.0C1201.7 1004.3 1210.0 1003.3 1213.0 1003.0" fill="none" stroke="#b45ab4" stroke-width="3.0" stroke-linecap="round" stroke-linejoin="round"/>
<path d="M594.0 1007.5C598.3 1007.7 610.7 1008.4 620.0 1008.5C629.3 1008.6 636.7 1008.0 650.0 1008.0C663.3 1008.0 683.3 1008.2 700.0 1008.5C716.7 1008.8 733.3 1009.3 750.0 1009.5C766.7 1009.7 783.3 1009.6 800.0 1009.5C816.7 1009.4 833.3 1009.0 850.0 1009.0C866.7 1009.0 883.3 1009.3 900.0 1009.5C916.7 1009.7 933.3 1009.8 950.0 1010.0C966.7 1010.2 983.3 1010.4 1000.0 1010.5C1016.7 1010.6 1033.3 1010.3 1050.0 1010.5C1066.7 1010.7 1086.7 1010.7 1100.0 1011.5C1113.3 1012.3 1123.2 1013.5 1130.0 1015.5C1136.8 1017.5 1136.8 1023.0 1141.0 1023.5C1145.2 1024.0 1149.7 1020.8 1155.0 1018.5C1160.3 1016.2 1166.3 1011.3 1173.0 1009.5C1179.7 1007.7 1188.3 1008.2 1195.0 1007.5C1201.7 1006.8 1210.0 1005.8 1213.0 1005.5" fill="none" stroke="#c40000" stroke-width="2.5" stroke-linecap="round" stroke-linejoin="round"/>
<path d="M633.0 1006.0C635.2 1005.0 650.2 1005.0 653.0 1006.0C655.8 1007.0 652.2 1011.0 650.0 1012.0C647.8 1013.0 642.8 1013.0 640.0 1012.0C637.2 1011.0 630.8 1007.0 633.0 1006.0Z" fill="#c40000"/>
<path d="M668.0 1027.0C663.5 1024.8 674.3 1016.8 678.0 1014.0C681.7 1011.2 686.3 1009.7 690.0 1010.0C693.7 1010.3 697.5 1013.2 700.0 1016.0C702.5 1018.8 710.3 1025.2 705.0 1027.0C699.7 1028.8 672.5 1029.2 668.0 1027.0Z" fill="#c40000"/>
<path d="M675.0 1027.0C672.2 1025.3 680.2 1019.0 683.0 1017.0C685.8 1015.0 689.3 1014.3 692.0 1015.0C694.7 1015.7 697.7 1019.0 699.0 1021.0C700.3 1023.0 704.0 1026.0 700.0 1027.0C696.0 1028.0 677.8 1028.7 675.0 1027.0Z" fill="#b45ab4"/>
<path d="M741.0 1006.0C747.0 1004.0 770.8 1003.7 777.0 1006.0C783.2 1008.3 778.3 1016.3 778.0 1020.0C777.7 1023.7 780.5 1026.7 775.0 1028.0C769.5 1029.3 750.7 1029.7 745.0 1028.0C739.3 1026.3 741.7 1021.7 741.0 1018.0C740.3 1014.3 735.0 1008.0 741.0 1006.0Z" fill="#c40000"/>
<path d="M808.0 1024.0C807.2 1022.2 810.5 1013.0 812.0 1013.0C813.5 1013.0 817.7 1022.2 817.0 1024.0C816.3 1025.8 808.8 1025.8 808.0 1024.0Z" fill="#c40000"/>
<path d="M819.0 1006.0C827.1 1003.7 881.9 1005.0 900.0 1005.0C918.1 1005.0 988.7 1005.7 1000.0 1006.0C1011.3 1006.3 1011.1 1007.9 1013.0 1008.0C1014.9 1008.1 1014.9 1007.0 1019.0 1007.0C1023.1 1007.0 1049.7 1007.2 1054.0 1008.0C1058.3 1008.8 1059.3 1014.3 1062.0 1015.0C1064.7 1015.7 1078.1 1015.9 1081.0 1015.0C1083.9 1014.1 1086.2 1006.9 1091.0 1006.0C1095.8 1005.1 1124.6 1005.1 1129.0 1006.0C1133.4 1006.9 1132.6 1013.2 1135.0 1015.0C1137.4 1016.8 1150.5 1023.5 1153.0 1024.0C1155.5 1024.5 1158.7 1021.4 1160.0 1020.0C1161.3 1018.6 1162.9 1011.0 1166.0 1010.0C1169.1 1009.0 1188.0 1009.0 1191.0 1010.0C1194.0 1011.0 1195.9 1018.2 1196.0 1020.0C1196.1 1021.8 1229.7 1027.2 1192.0 1028.0C1154.3 1028.8 856.3 1030.2 819.0 1028.0C781.7 1025.8 810.9 1008.3 819.0 1006.0Z" fill="#c40000"/>
<path d="M822.0 1008.0C829.8 1006.0 882.2 1007.9 900.0 1008.0C917.8 1008.1 989.2 1008.6 1000.0 1009.0C1010.8 1009.4 1008.0 1010.1 1008.0 1012.0C1008.0 1013.9 1018.6 1026.4 1000.0 1028.0C981.4 1029.6 839.8 1030.0 822.0 1028.0C804.2 1026.0 814.2 1010.0 822.0 1008.0Z" fill="#b45ab4"/>
<path d="M1025.0 1012.0C1028.7 1009.5 1046.2 1009.5 1050.0 1012.0C1053.8 1014.5 1051.7 1024.5 1048.0 1027.0C1044.3 1029.5 1031.8 1029.5 1028.0 1027.0C1024.2 1024.5 1021.3 1014.5 1025.0 1012.0Z" fill="#b45ab4"/>
<path d="M1095.0 1009.0C1100.0 1007.8 1119.5 1008.0 1125.0 1009.0C1130.5 1010.0 1130.5 1013.2 1128.0 1015.0C1125.5 1016.8 1115.5 1019.8 1110.0 1020.0C1104.5 1020.2 1097.5 1017.8 1095.0 1016.0C1092.5 1014.2 1090.0 1010.2 1095.0 1009.0Z" fill="#b45ab4"/>
<path d="M1000.0 1012.0C1003.2 1009.3 1015.8 1009.3 1019.0 1012.0C1022.2 1014.7 1022.2 1025.3 1019.0 1028.0C1015.8 1030.7 1003.2 1030.7 1000.0 1028.0C996.8 1025.3 996.8 1014.7 1000.0 1012.0Z" fill="#ffffff"/>
<path d="M1054.0 1017.0C1055.7 1015.0 1062.3 1014.2 1064.0 1016.0C1065.7 1017.8 1065.7 1026.0 1064.0 1028.0C1062.3 1030.0 1055.7 1029.8 1054.0 1028.0C1052.3 1026.2 1052.3 1019.0 1054.0 1017.0Z" fill="#ffffff"/>
<path d="M1082.0 1019.0C1083.5 1017.0 1088.0 1015.8 1091.0 1016.0C1094.0 1016.2 1098.5 1018.0 1100.0 1020.0C1101.5 1022.0 1103.0 1026.7 1100.0 1028.0C1097.0 1029.3 1085.0 1029.5 1082.0 1028.0C1079.0 1026.5 1080.5 1021.0 1082.0 1019.0Z" fill="#ffffff"/>
<path d="M1130.0 1020.0C1133.3 1019.8 1150.0 1025.7 1150.0 1027.0C1150.0 1028.3 1133.3 1029.2 1130.0 1028.0C1126.7 1026.8 1126.7 1020.2 1130.0 1020.0Z" fill="#ffffff"/>
<path d="M1160.0 1024.0C1168.8 1022.3 1204.2 1017.3 1213.0 1018.0C1221.8 1018.7 1221.8 1026.3 1213.0 1028.0C1204.2 1029.7 1168.8 1028.7 1160.0 1028.0C1151.2 1027.3 1151.2 1025.7 1160.0 1024.0Z" fill="#ffffff"/>
<path d="M1189.7 1016.0C1189.7 1016.9 1188.9 1017.9 1187.6 1018.6C1186.3 1019.4 1184.1 1020.0 1182.1 1020.3C1180.0 1020.6 1177.4 1020.6 1175.3 1020.3C1173.3 1020.0 1171.1 1019.4 1169.8 1018.6C1168.5 1017.9 1167.7 1016.9 1167.7 1016.0C1167.7 1015.1 1168.5 1014.1 1169.8 1013.4C1171.1 1012.6 1173.3 1012.0 1175.3 1011.7C1177.4 1011.4 1180.0 1011.4 1182.1 1011.7C1184.1 1012.0 1186.3 1012.6 1187.6 1013.4C1188.9 1014.1 1189.7 1015.1 1189.7 1016.0Z" fill="#b45ab4"/>
<path d="M1182.7 1016.0C1182.7 1016.5 1182.2 1017.1 1181.5 1017.4C1180.9 1017.7 1179.6 1018.0 1178.7 1018.0C1177.8 1018.0 1176.5 1017.7 1175.9 1017.4C1175.2 1017.1 1174.7 1016.5 1174.7 1016.0C1174.7 1015.5 1175.2 1014.9 1175.9 1014.6C1176.5 1014.3 1177.8 1014.0 1178.7 1014.0C1179.6 1014.0 1180.9 1014.3 1181.5 1014.6C1182.2 1014.9 1182.7 1015.5 1182.7 1016.0Z" fill="#ffff00"/>
<path d="M875.0 1018.0C875.0 1018.6 874.4 1019.4 873.5 1019.8C872.7 1020.2 871.2 1020.5 870.0 1020.5C868.8 1020.5 867.3 1020.2 866.5 1019.8C865.6 1019.4 865.0 1018.6 865.0 1018.0C865.0 1017.4 865.6 1016.6 866.5 1016.2C867.3 1015.8 868.8 1015.5 870.0 1015.5C871.2 1015.5 872.7 1015.8 873.5 1016.2C874.4 1016.6 875.0 1017.4 875.0 1018.0Z" fill="#ffff00"/>
<path d="M965.0 1018.0C965.0 1018.6 964.4 1019.4 963.5 1019.8C962.7 1020.2 961.2 1020.5 960.0 1020.5C958.8 1020.5 957.3 1020.2 956.5 1019.8C955.6 1019.4 955.0 1018.6 955.0 1018.0C955.0 1017.4 955.6 1016.6 956.5 1016.2C957.3 1015.8 958.8 1015.5 960.0 1015.5C961.2 1015.5 962.7 1015.8 963.5 1016.2C964.4 1016.6 965.0 1017.4 965.0 1018.0Z" fill="#ffff00"/>
<path d="M1055.0 1020.0C1055.0 1020.6 1054.4 1021.4 1053.5 1021.8C1052.7 1022.2 1051.2 1022.5 1050.0 1022.5C1048.8 1022.5 1047.3 1022.2 1046.5 1021.8C1045.6 1021.4 1045.0 1020.6 1045.0 1020.0C1045.0 1019.4 1045.6 1018.6 1046.5 1018.2C1047.3 1017.8 1048.8 1017.5 1050.0 1017.5C1051.2 1017.5 1052.7 1017.8 1053.5 1018.2C1054.4 1018.6 1055.0 1019.4 1055.0 1020.0Z" fill="#ffff00"/>
<path d="M856.0 1008.0C860.3 1004.8 873.3 1004.8 876.0 1008.0C878.7 1011.2 876.3 1023.8 872.0 1027.0C867.7 1030.2 852.7 1030.2 850.0 1027.0C847.3 1023.8 851.7 1011.2 856.0 1008.0Z" fill="#c40000"/>
<path d="M940.0 1008.0C944.7 1004.8 965.3 1004.8 970.0 1008.0C974.7 1011.2 972.7 1023.8 968.0 1027.0C963.3 1030.2 946.7 1030.2 942.0 1027.0C937.3 1023.8 935.3 1011.2 940.0 1008.0Z" fill="#c40000"/>
<path d="M1192.0 1013.0C1193.3 1010.0 1196.3 1011.8 1200.0 1011.0C1203.7 1010.2 1211.7 1005.0 1214.0 1008.0C1216.3 1011.0 1217.7 1025.5 1214.0 1029.0C1210.3 1032.5 1195.7 1031.7 1192.0 1029.0C1188.3 1026.3 1190.7 1016.0 1192.0 1013.0Z" fill="#ffffff"/>
<path d="M1210.3 972.0C1210.3 973.4 1209.9 975.2 1209.5 976.2C1209.0 977.2 1208.2 978.0 1207.5 978.0C1206.8 978.0 1206.0 977.2 1205.5 976.2C1205.1 975.2 1204.7 973.4 1204.7 972.0C1204.7 970.6 1205.1 968.8 1205.5 967.8C1206.0 966.8 1206.8 966.0 1207.5 966.0C1208.2 966.0 1209.0 966.8 1209.5 967.8C1209.9 968.8 1210.3 970.6 1210.3 972.0Z" fill="#00b000"/>
<path d="M1214.0 952.5C1214.8 952.3 1217.5 951.3 1219.0 951.5C1220.5 951.7 1221.7 953.4 1223.0 953.5C1224.3 953.6 1226.3 952.2 1227.0 952.0" fill="none" stroke="#c40000" stroke-width="1.6" stroke-linecap="round" stroke-linejoin="round"/>
<path d="M1214.0 980.0C1214.3 981.0 1215.5 983.8 1216.0 986.0C1216.5 988.2 1216.8 991.8 1217.0 993.0" fill="none" stroke="#00ffff" stroke-width="2.5" stroke-linecap="round" stroke-linejoin="round"/>
<path d="M1213.0 996.5C1214.2 996.4 1217.5 996.1 1220.0 996.0C1222.5 995.9 1226.7 996.0 1228.0 996.0" fill="none" stroke="#00ff00" stroke-width="4.0" stroke-linecap="round" stroke-linejoin="round"/>
<path d="M1213.0 1001.0C1214.2 1001.0 1217.5 1001.0 1220.0 1001.0C1222.5 1001.0 1226.7 1001.0 1228.0 1001.0" fill="none" stroke="#ffff00" stroke-width="2.0" stroke-linecap="round" stroke-linejoin="round"/>
<path d="M1213.0 1004.0C1214.2 1004.0 1217.5 1004.0 1220.0 1004.0C1222.5 1004.0 1226.7 1004.0 1228.0 1004.0" fill="none" stroke="#b45ab4" stroke-width="2.0" stroke-linecap="round" stroke-linejoin="round"/>
<path d="M1213.0 1006.5C1214.2 1006.5 1217.7 1006.4 1220.0 1006.5C1222.3 1006.6 1225.8 1006.9 1227.0 1007.0" fill="none" stroke="#c40000" stroke-width="1.8" stroke-linecap="round" stroke-linejoin="round"/>
<path d="M1226.0 1008.0C1225.7 1010.0 1224.7 1015.3 1224.0 1020.0C1223.3 1024.7 1222.0 1031.0 1221.8 1036.0C1221.6 1041.0 1222.4 1045.2 1223.0 1050.0C1223.6 1054.8 1225.0 1060.3 1225.5 1065.0C1226.0 1069.7 1225.9 1075.8 1226.0 1078.0" fill="none" stroke="#c40000" stroke-width="1.4" stroke-linecap="round" stroke-linejoin="round"/>
<path d="M1226.5 1040.0C1226.5 1040.9 1226.2 1042.2 1226.0 1042.6C1225.8 1043.0 1225.2 1043.0 1225.0 1042.6C1224.8 1042.2 1224.5 1040.9 1224.5 1040.0C1224.5 1039.1 1224.8 1037.8 1225.0 1037.4C1225.2 1037.0 1225.8 1037.0 1226.0 1037.4C1226.2 1037.8 1226.5 1039.1 1226.5 1040.0Z" fill="#ffff00"/></g>
<g id="boxes"><path d="M-5 939.3H113.4V1083.8H-5Z" fill="rgba(80,150,220,0.5)"/>
<path d="M113.4 939.3H592.4V1028.2H113.4Z" fill="rgba(80,150,220,0.5)"/>
<path d="M592.4 939.3H1213.1V1028.2H592.4Z" fill="rgba(80,150,220,0.5)"/>
<path d="M-5 939.3H1213.1V1028.2H113.4V1083.8H-5" fill="none" stroke="#1f5b9c" stroke-width="2.2"/>
<line x1="113.4" x2="113.4" y1="939.3" y2="1083.8" stroke="#1f5b9c" stroke-width="2.2"/>
<line x1="592.4" x2="592.4" y1="939.3" y2="1028.2" stroke="#1f5b9c" stroke-width="2.2"/>
<text x="147.7" y="996.7" font-size="36.15" fill="#000" textLength="410.2" lengthAdjust="spacingAndGlyphs" font-family="Carlito, Calibri, Liberation Sans, sans-serif" style="font-variant-ligatures:none">Liquefiable Layer at Zone 02</text>
<text x="697" y="996.7" font-size="36.15" fill="#000" textLength="410.2" lengthAdjust="spacingAndGlyphs" font-family="Carlito, Calibri, Liberation Sans, sans-serif" style="font-variant-ligatures:none">Liquefiable Layer at Zone 03</text></g>
<g id="legend"><rect x="1235.3" y="943.4" width="47.4" height="24.2" fill="#ff6666"/>
<rect x="1235.3" y="967.6" width="47.4" height="47.4" fill="#b40000"/>
<rect x="1235.3" y="1015.0" width="47.4" height="47.4" fill="#b05ab4"/>
<rect x="1235.3" y="1062.4" width="47.4" height="47.1" fill="#ffff00"/>
<rect x="1235.3" y="1109.5" width="47.4" height="47.4" fill="#00ff00"/>
<rect x="1235.3" y="1156.9" width="47.4" height="47.3" fill="#00b000"/>
<rect x="1235.3" y="1204.2" width="47.4" height="46.4" fill="#00ffff"/>
<rect x="1235.3" y="1250.6" width="47.4" height="24.9" fill="#00b0b0"/>
<rect x="1235.3" y="943.4" width="47.4" height="332.1" fill="none" stroke="#111" stroke-width="1.3"/>
<line x1="1235.3" x2="1288" y1="967.6" y2="967.6" stroke="#111" stroke-width="1.3"/>
<line x1="1235.3" x2="1288" y1="1015.0" y2="1015.0" stroke="#111" stroke-width="1.3"/>
<line x1="1235.3" x2="1288" y1="1062.4" y2="1062.4" stroke="#111" stroke-width="1.3"/>
<line x1="1235.3" x2="1288" y1="1109.5" y2="1109.5" stroke="#111" stroke-width="1.3"/>
<line x1="1235.3" x2="1288" y1="1156.9" y2="1156.9" stroke="#111" stroke-width="1.3"/>
<line x1="1235.3" x2="1288" y1="1204.2" y2="1204.2" stroke="#111" stroke-width="1.3"/>
<line x1="1235.3" x2="1288" y1="1250.6" y2="1250.6" stroke="#111" stroke-width="1.3"/>
<line x1="1292" x2="1314" y1="942.7" y2="942.7" stroke="#10a810" stroke-width="2"/>
<text transform="translate(1328.6 983.5) scale(0.93 1)" fill="#08ae08" stroke="#08ae08" stroke-width="0.5" font-size="40.3" font-family="Liberation Sans, Arial, sans-serif">4.00E-01</text>
<text transform="translate(1328.6 1030.9) scale(0.93 1)" fill="#08ae08" stroke="#08ae08" stroke-width="0.5" font-size="40.3" font-family="Liberation Sans, Arial, sans-serif">5.00E-01</text>
<text transform="translate(1328.6 1078.3) scale(0.93 1)" fill="#08ae08" stroke="#08ae08" stroke-width="0.5" font-size="40.3" font-family="Liberation Sans, Arial, sans-serif">6.00E-01</text>
<text transform="translate(1328.6 1125.4) scale(0.93 1)" fill="#08ae08" stroke="#08ae08" stroke-width="0.5" font-size="40.3" font-family="Liberation Sans, Arial, sans-serif">7.00E-01</text>
<text transform="translate(1328.6 1172.8) scale(0.93 1)" fill="#08ae08" stroke="#08ae08" stroke-width="0.5" font-size="40.3" font-family="Liberation Sans, Arial, sans-serif">8.00E-01</text>
<text transform="translate(1328.6 1220.1) scale(0.93 1)" fill="#08ae08" stroke="#08ae08" stroke-width="0.5" font-size="40.3" font-family="Liberation Sans, Arial, sans-serif">9.00E-01</text>
<text transform="translate(1328.6 1266.5) scale(0.93 1)" fill="#08ae08" stroke="#08ae08" stroke-width="0.5" font-size="40.3" font-family="Liberation Sans, Arial, sans-serif">1.00E+00</text>
<line x1="0" x2="1104.6" y1="1276" y2="1276" stroke="#93d993" stroke-width="2"/><line x1="1163" x2="1178" y1="1276" y2="1276" stroke="#93d993" stroke-width="2"/><line x1="1198.5" x2="1222.6" y1="1276" y2="1276" stroke="#93d993" stroke-width="2"/></g>
</svg>
</body></html>
